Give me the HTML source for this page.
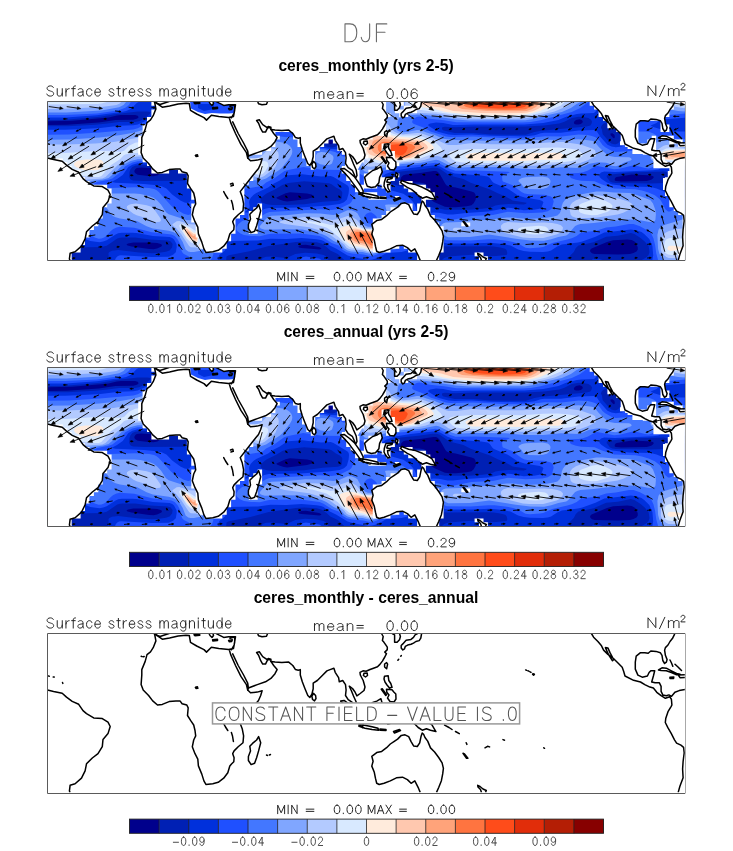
<!DOCTYPE html>
<html><head><meta charset="utf-8"><style>
html,body{margin:0;padding:0;background:#fff;width:733px;height:851px;overflow:hidden}
svg{display:block;will-change:transform}
</style></head><body>
<svg width="733" height="851" viewBox="0 0 733 851" font-family="'Liberation Sans', sans-serif"><style>.sf path{vector-effect:non-scaling-stroke}</style><defs><g id="oceanfill"><rect x="47.4" y="101.5" width="637.5" height="158.9" fill="#00008c"/><path fill="#0020b4" fill-rule="evenodd" d="M47.4,260.4 684.9,260.4 684.9,101.6 47.4,101.6 47.4,121.3 72.2,120.8 108.5,117.4 116.9,115.5 120.9,115.1 135.1,114.9 137.7,115.7 138.6,117.0 138.1,117.9 136.8,118.8 133.3,119.8 115.6,120.0 98.8,122.4 66.9,124.7 47.4,124.9 47.4,260.4ZM149.2,249.0 131.5,246.6 127.6,245.5 126.4,244.6 128.0,243.5 133.3,242.6 149.2,242.4 157.2,243.1 160.8,244.1 162.1,245.0 161.4,246.5 157.1,248.5 153.6,249.2 149.2,249.0ZM287.3,201.4 283.8,200.9 279.2,199.4 276.9,198.4 276.4,197.4 285.6,193.3 290.0,192.2 307.1,193.4 311.6,194.4 313.7,195.9 312.2,197.4 307.1,198.9 287.3,201.4ZM313.9,249.1 301.2,248.0 299.0,247.5 298.2,246.5 301.3,245.0 305.9,244.7 319.1,247.0 321.0,247.9 321.4,248.5 321.0,249.0 319.2,249.4 313.9,249.1ZM329.8,144.3 326.9,143.3 326.9,141.8 329.0,140.0 331.6,139.9 333.0,141.3 333.0,142.8 331.6,144.0 329.8,144.3ZM444.9,206.8 434.0,201.9 431.3,199.9 429.6,195.9 427.8,187.5 426.3,184.5 423.7,183.2 419.3,182.5 405.1,182.6 401.6,182.1 400.4,181.5 400.0,180.5 401.4,177.0 403.3,175.3 405.9,174.5 421.9,172.8 433.4,170.9 436.1,171.1 437.9,172.0 439.6,173.7 445.4,184.0 446.7,185.5 448.5,186.3 455.6,187.5 471.5,191.5 474.2,192.6 475.4,194.4 476.0,197.4 475.5,199.9 473.7,203.3 471.5,205.3 466.8,206.3 455.6,207.2 449.4,207.3 444.9,206.8ZM576.0,124.5 574.5,123.9 573.8,122.9 574.3,121.4 576.0,120.1 579.5,119.3 581.6,119.9 582.7,120.9 582.6,122.4 580.9,123.9 578.6,124.6 576.0,124.5ZM594.6,254.1 591.9,253.2 590.2,251.5 590.1,250.0 591.5,248.5 607.0,242.0 613.2,240.3 627.3,239.4 631.8,239.9 635.3,242.1 637.7,247.0 637.8,249.5 636.5,251.5 633.5,253.1 630.0,254.1 618.5,254.5 594.6,254.1ZM148.3,176.1 137.7,174.8 135.0,173.1 134.3,171.6 134.5,170.6 135.4,169.1 136.8,168.1 141.3,167.5 155.9,168.6 159.5,169.6 161.4,171.1 160.4,173.6 157.4,175.5 153.6,176.2 148.3,176.1ZM613.2,138.1 610.5,135.0 610.5,133.6 612.3,133.3 614.4,134.8 614.9,137.3 614.1,138.2 613.2,138.1ZM615.8,181.1 614.8,180.5 614.7,179.0 615.6,177.5 616.7,177.0 631.8,174.5 648.6,175.2 652.8,176.0 653.9,177.0 652.9,178.5 651.2,179.7 646.8,180.9 621.1,181.4 615.8,181.1Z"/><path fill="#0030dc" fill-rule="evenodd" d="M107.6,260.4 226.2,260.4 226.5,256.5 228.9,255.2 249.3,251.3 268.8,246.0 295.8,242.1 304.2,241.4 316.6,242.3 321.9,243.7 326.6,247.0 330.3,250.5 337.8,254.0 344.8,260.4 417.9,260.4 421.9,259.2 425.5,256.8 427.9,254.0 430.1,249.5 432.1,247.5 435.2,245.9 437.9,245.6 446.7,246.5 487.4,246.3 493.6,246.6 500.4,247.5 505.2,248.8 506.5,250.0 507.3,253.0 507.0,254.5 506.2,255.0 496.3,256.1 488.3,256.2 471.5,254.7 448.5,256.6 444.1,258.0 441.5,260.4 569.8,260.4 570.2,255.5 573.8,252.0 575.8,248.0 578.5,245.5 593.7,242.2 606.1,236.8 617.6,235.8 630.9,233.1 634.4,234.1 640.6,238.1 644.7,241.6 648.6,246.0 649.5,252.0 648.6,254.9 646.2,257.5 640.9,260.4 684.9,260.4 684.9,101.6 47.4,101.6 47.4,119.9 65.1,119.8 100.5,116.7 114.7,114.2 137.7,111.6 147.5,111.5 150.5,112.0 150.7,112.5 149.7,114.0 145.2,117.9 139.8,120.9 135.1,122.1 119.1,121.9 107.6,123.6 95.2,124.7 67.8,126.2 47.4,126.3 47.4,248.0 101.4,247.1 106.7,245.7 117.3,238.6 120.0,237.7 122.7,237.4 135.1,237.5 150.1,239.6 167.8,240.5 170.7,241.6 172.6,244.1 172.1,247.5 169.6,250.6 166.0,251.8 157.2,253.0 151.9,253.3 139.1,252.5 118.2,250.0 112.0,250.7 109.4,251.9 108.5,253.0 108.6,256.0 107.6,260.4ZM272.3,204.9 266.8,204.3 262.4,202.8 260.5,200.9 261.1,198.4 263.2,195.9 266.5,193.4 275.8,189.1 282.3,185.0 288.2,183.0 304.2,181.3 329.0,183.3 331.6,184.2 335.9,187.5 339.8,189.4 341.5,190.9 342.3,192.4 341.8,198.4 340.5,199.7 337.8,200.7 322.8,201.8 304.2,204.3 286.5,205.1 272.3,204.9ZM444.9,209.8 430.8,207.1 424.6,204.7 420.6,201.4 416.7,193.4 414.0,190.5 409.6,188.4 398.9,186.1 392.5,184.0 390.0,182.5 389.3,181.5 389.7,179.0 393.4,174.5 396.1,173.1 400.7,171.5 418.4,169.8 432.5,167.7 437.0,167.8 440.2,169.1 449.4,175.4 463.4,179.0 470.6,182.7 490.1,189.4 497.2,193.1 505.6,196.4 512.6,200.4 526.6,202.8 526.1,203.8 523.7,204.5 508.7,204.1 499.8,204.7 495.4,205.6 490.5,207.8 482.5,208.8 468.9,209.7 444.9,209.8ZM615.8,183.0 612.3,182.5 610.0,181.5 606.7,177.0 606.8,175.5 608.7,174.8 629.1,172.5 663.6,171.6 666.3,171.9 668.1,172.7 669.5,174.0 670.1,175.5 669.8,178.0 668.3,181.0 666.5,182.5 664.5,183.1 651.2,183.4 615.8,183.0ZM143.9,181.0 133.4,180.5 131.5,180.0 130.1,179.0 129.1,176.5 129.5,172.1 130.4,169.6 132.3,167.1 135.1,165.8 138.6,165.2 156.3,165.0 165.2,164.4 175.8,161.8 180.2,162.5 183.5,163.6 185.1,165.1 186.1,167.1 186.7,170.6 186.7,177.0 185.5,179.8 183.8,180.8 143.9,181.0ZM329.0,147.3 319.4,144.3 318.5,143.3 318.6,142.3 327.3,127.9 330.7,125.1 334.3,124.7 336.5,125.9 338.2,128.9 339.3,134.3 339.8,142.3 338.1,144.8 335.2,146.7 332.5,147.5 329.0,147.3ZM514.9,134.8 491.0,134.5 473.3,132.9 454.7,133.0 443.6,130.4 442.2,129.4 441.9,128.4 442.3,127.3 444.9,126.7 455.6,127.3 474.2,126.4 525.5,126.4 544.1,125.6 559.2,123.6 564.5,121.7 571.7,117.9 578.6,116.7 583.1,116.9 588.3,117.9 590.8,119.4 592.0,121.4 591.6,123.4 590.3,125.4 586.6,126.6 541.5,130.8 534.4,132.1 525.8,134.8 514.9,134.8ZM614.1,144.3 611.4,143.4 609.6,142.1 602.7,134.3 601.9,129.4 600.9,127.4 601.7,125.4 603.4,123.7 605.2,123.1 607.9,123.8 618.0,129.9 620.0,131.8 621.3,136.8 620.6,140.3 618.2,143.3 615.8,144.2 614.1,144.3ZM260.9,260.4 328.4,260.4 328.0,258.5 327.1,257.0 323.6,255.0 316.6,253.6 305.1,252.7 295.3,254.0 288.2,257.3 285.6,257.9 271.4,256.5 266.1,256.7 262.8,258.0 260.9,260.4ZM591.4,260.4 603.8,260.4 599.9,258.9 596.3,258.2 592.8,258.9 591.4,260.4Z"/><path fill="#1f50ff" fill-rule="evenodd" d="M114.9,260.4 217.5,260.4 219.3,255.0 225.0,250.5 227.1,242.9 228.0,241.5 228.9,240.9 258.1,240.5 270.5,238.8 286.5,238.9 301.5,238.1 316.6,239.2 321.0,239.9 323.6,241.1 329.8,245.6 336.0,248.4 347.6,255.5 353.7,257.3 368.8,260.1 372.3,259.6 377.7,258.0 386.5,253.0 401.6,252.1 411.0,249.5 414.8,247.5 417.2,245.5 421.4,238.6 424.6,237.7 434.3,237.9 437.0,238.9 443.2,242.5 447.6,243.4 471.5,243.6 490.1,242.8 503.4,244.1 510.5,245.6 518.1,249.5 523.7,251.1 529.9,251.8 543.2,252.1 547.7,251.5 551.1,250.5 557.2,246.5 561.9,244.6 577.9,242.6 582.3,241.6 595.5,236.7 604.3,232.6 630.9,229.5 636.2,230.2 641.5,232.1 644.2,234.1 649.3,239.1 652.4,246.0 653.2,255.5 652.3,260.4 684.9,260.4 684.9,131.4 668.1,131.4 653.3,126.9 650.6,125.4 656.6,122.9 659.4,120.4 661.9,119.6 684.9,117.7 684.9,101.6 613.8,101.6 620.0,121.4 622.6,126.9 625.5,130.9 626.5,136.3 626.3,139.8 624.7,145.3 622.0,146.5 615.8,147.3 611.4,146.6 607.5,144.8 600.3,136.8 596.7,131.3 595.5,130.4 593.7,129.9 578.6,130.6 560.9,132.8 544.1,132.7 540.6,133.3 534.7,135.3 524.6,136.4 490.1,135.8 471.5,134.4 454.7,135.1 448.5,134.4 437.9,131.7 428.8,125.9 428.1,124.9 429.0,123.9 430.3,123.4 436.1,122.6 443.2,123.1 452.9,124.9 456.5,125.1 474.2,124.4 524.6,124.4 543.2,123.1 558.4,119.9 566.2,116.8 576.9,114.0 581.3,113.4 594.0,113.0 596.1,111.0 599.0,103.8 599.9,102.6 601.7,101.6 347.6,101.6 347.3,141.3 346.8,145.3 345.8,147.8 344.7,148.7 336.9,149.2 329.8,148.9 316.6,146.4 313.1,145.3 311.4,143.8 311.5,141.8 312.9,137.3 317.3,116.0 321.8,101.6 185.6,101.6 188.2,102.5 189.8,104.0 191.7,109.0 193.0,119.9 193.6,139.8 193.6,187.0 191.5,192.4 190.9,200.4 189.1,202.5 187.3,203.1 184.6,202.6 180.4,200.4 172.2,194.5 166.4,188.4 161.6,186.3 154.5,184.9 144.1,184.0 115.6,182.7 112.9,182.2 112.2,181.5 117.0,179.0 122.7,175.0 128.4,167.1 132.4,164.7 137.7,163.3 152.8,163.0 158.1,162.4 163.4,160.8 166.4,158.7 167.6,156.7 168.7,152.2 170.8,131.3 170.6,122.4 169.9,119.9 168.7,118.8 163.4,117.6 153.6,117.8 150.1,118.9 137.7,124.4 133.3,125.3 119.1,125.8 100.5,127.9 82.8,128.9 65.1,129.7 47.4,129.8 47.4,240.6 64.2,240.4 80.2,237.4 82.8,237.9 90.3,241.1 99.6,242.2 103.2,241.6 106.7,240.2 115.6,234.5 118.2,233.3 121.8,232.7 132.4,232.7 136.8,233.0 152.8,236.0 169.6,236.9 172.2,238.0 174.0,239.6 176.5,244.1 176.7,247.0 175.8,252.2 173.1,254.8 168.7,256.8 151.9,257.0 120.9,255.2 119.1,255.4 117.2,256.5 115.6,258.4 114.9,260.4ZM244.8,212.4 244.3,212.3 247.5,210.1 249.4,207.8 249.7,206.3 249.1,202.3 249.4,200.4 250.6,197.9 253.4,194.9 256.3,192.9 268.1,187.5 272.9,184.0 279.4,180.8 285.6,176.5 288.2,175.3 302.4,174.3 321.0,176.6 330.7,176.0 333.5,177.0 347.6,185.5 348.7,187.0 349.0,188.9 348.6,193.4 346.9,199.4 344.0,202.3 339.6,203.9 328.1,205.6 300.6,207.4 268.8,208.0 264.3,209.0 257.2,212.4 244.8,212.4ZM419.3,217.8 417.6,214.3 416.0,207.8 414.6,204.3 412.6,201.4 408.9,197.4 403.3,193.8 390.9,190.3 384.7,187.5 378.5,183.0 377.7,181.0 378.5,179.5 385.5,174.0 395.4,170.4 410.4,168.0 432.5,165.5 437.0,165.5 440.5,166.7 447.6,170.7 454.7,173.6 481.2,175.6 487.6,176.5 489.9,178.0 492.2,181.5 493.9,183.0 507.8,188.7 517.5,195.2 524.6,197.5 539.7,200.0 542.3,201.1 543.4,202.3 541.4,207.8 539.4,208.8 534.0,209.8 523.7,210.3 511.3,207.9 507.8,207.7 488.3,211.5 466.2,212.9 452.9,214.4 447.6,214.4 438.7,212.7 433.4,212.6 426.4,213.8 423.4,215.3 420.2,218.0 419.3,217.8ZM666.3,192.6 656.6,188.6 650.4,187.1 629.1,186.5 612.3,184.5 606.9,182.5 601.6,179.0 599.6,177.0 599.3,174.5 601.0,172.6 604.3,171.6 614.9,171.9 653.0,170.2 658.3,169.4 664.0,166.6 667.2,166.3 670.3,168.1 675.3,173.6 676.6,176.0 677.0,179.5 675.4,184.5 672.3,189.4 669.0,192.3 666.3,192.6ZM299.1,260.4 321.8,260.4 321.0,259.4 319.1,258.5 305.9,256.5 302.4,257.3 299.1,260.4ZM47.4,117.4 66.0,117.4 97.0,115.3 122.7,111.7 126.2,110.9 129.6,109.5 132.2,107.5 136.8,102.9 139.7,101.6 47.4,101.6 47.4,117.4Z"/><path fill="#4377ff" fill-rule="evenodd" d="M189.7,260.4 210.4,260.4 212.1,258.0 213.4,254.0 212.9,250.5 217.1,247.0 218.4,242.6 218.3,187.0 216.8,149.7 215.4,136.8 213.6,126.9 211.2,119.4 208.5,115.4 206.8,114.9 205.9,115.4 204.1,117.9 202.3,123.3 201.2,129.9 199.4,150.2 198.2,187.0 196.9,192.4 196.6,200.4 193.9,207.8 191.7,212.2 189.9,214.4 188.2,215.1 183.7,213.8 173.1,207.5 170.5,205.1 158.8,191.9 156.3,190.0 154.1,188.9 149.2,188.1 135.1,187.3 101.4,188.3 96.8,187.5 95.0,186.5 93.9,185.0 94.2,183.5 97.0,182.0 108.5,179.8 112.3,178.5 120.0,172.4 125.3,166.3 132.4,162.5 137.7,161.3 154.5,160.8 159.0,159.6 162.3,157.7 164.1,154.7 164.8,151.7 165.6,132.3 164.0,125.9 162.5,123.8 160.0,121.9 156.3,120.7 152.8,120.9 147.7,122.9 137.7,128.2 133.3,129.4 99.6,132.4 68.6,134.5 47.4,134.7 47.4,220.7 76.6,220.7 81.0,221.2 82.8,222.0 84.6,223.9 91.6,235.6 94.7,237.6 98.8,238.7 101.4,238.6 104.1,237.6 106.9,235.6 110.3,231.6 112.9,229.3 116.5,227.5 120.0,226.8 134.2,227.7 151.9,232.2 171.4,234.5 174.7,236.1 177.6,239.2 179.9,243.6 180.8,249.0 182.4,252.5 183.9,254.0 188.9,256.5 189.7,260.4ZM658.2,260.4 684.9,260.4 684.9,196.4 682.8,201.9 680.3,204.8 672.5,210.2 669.8,211.4 668.1,211.4 665.4,209.3 661.1,200.9 659.6,198.9 654.8,195.3 648.6,192.4 641.9,190.4 635.3,189.2 614.1,188.4 602.0,184.5 594.6,181.2 581.3,180.7 576.0,179.8 570.9,178.0 569.3,175.5 567.1,173.6 578.6,172.9 583.1,172.2 588.0,170.6 594.6,166.7 597.2,166.0 614.1,169.3 619.4,168.8 632.6,165.6 637.1,166.0 645.2,168.1 648.6,168.4 651.9,167.6 656.9,164.6 666.3,164.0 670.6,164.6 673.6,166.1 678.1,170.1 684.9,177.7 684.9,139.3 661.0,138.0 658.5,137.3 653.9,133.8 649.5,131.9 645.0,131.4 637.1,131.5 635.3,132.1 634.4,133.4 633.8,136.3 633.7,141.3 634.7,142.8 640.0,146.2 640.5,147.7 639.9,148.7 638.0,149.8 634.4,150.7 615.8,152.1 612.3,151.3 605.2,147.3 602.5,144.9 599.0,140.1 595.5,137.3 591.9,135.9 587.5,135.1 578.6,134.4 561.8,136.5 545.0,136.2 530.8,137.8 522.9,138.3 503.4,138.1 473.3,136.5 450.3,137.1 445.8,136.5 439.6,134.2 431.0,131.8 424.6,128.1 414.0,123.9 412.6,122.9 412.1,121.9 412.7,119.9 414.1,118.4 416.6,117.1 419.3,116.6 429.9,118.7 444.1,120.3 456.5,122.3 522.0,122.4 530.8,121.9 540.6,120.2 571.8,112.0 580.2,108.0 589.1,101.6 361.6,101.6 359.9,105.0 355.3,111.0 353.4,115.5 352.3,120.9 351.6,128.4 351.3,150.7 349.3,154.2 345.8,156.4 343.1,156.6 335.2,152.0 323.8,149.2 305.8,148.2 305.0,147.7 304.0,146.2 302.4,139.6 300.4,137.8 284.7,137.0 265.2,134.4 258.1,132.9 255.5,133.7 251.9,135.5 245.7,139.2 243.1,141.4 237.3,148.2 235.4,151.7 234.0,155.7 233.4,160.1 233.5,166.1 234.5,173.1 236.0,180.0 237.2,183.5 239.0,186.5 241.3,188.5 243.1,189.0 260.8,186.3 262.6,185.5 266.1,182.4 274.1,178.5 284.5,171.1 288.2,169.9 303.3,166.9 321.9,169.8 342.2,170.1 345.8,171.0 353.7,171.3 356.4,172.1 363.5,175.8 368.8,177.0 373.2,176.3 380.3,172.6 385.6,170.4 399.8,166.6 421.9,164.6 435.2,162.7 438.7,163.3 450.3,169.0 455.6,170.7 475.0,170.6 507.8,171.7 509.4,172.1 509.5,172.6 503.5,175.0 502.0,176.5 502.4,180.5 502.9,181.5 512.2,185.0 521.5,191.9 524.6,193.5 529.1,194.2 544.1,194.8 550.8,196.4 552.6,197.9 553.7,201.4 551.8,208.8 547.7,211.3 542.3,212.6 525.5,213.2 507.8,211.7 492.8,215.0 471.5,216.0 452.9,219.7 445.8,219.6 438.7,217.5 436.1,217.3 433.4,218.6 431.3,221.2 430.9,227.7 431.4,229.7 437.9,233.8 442.7,238.6 446.7,240.3 470.6,240.6 488.3,239.2 494.5,239.3 506.9,240.7 513.1,241.9 519.1,244.1 525.5,247.7 529.9,248.2 539.7,247.6 543.2,246.9 552.2,243.1 567.4,239.6 572.4,238.0 576.7,236.1 580.5,233.1 583.1,232.2 596.3,230.7 606.1,227.4 615.8,226.6 629.1,224.0 633.5,224.1 639.9,226.2 648.6,230.9 651.0,233.1 653.5,238.6 655.1,245.0 656.3,253.5 658.2,260.4ZM367.7,255.5 370.6,256.0 373.2,255.8 376.8,254.6 383.4,251.5 395.4,249.6 397.4,248.5 399.5,246.0 402.2,241.6 406.5,232.6 407.9,228.2 408.9,222.7 409.3,215.3 408.8,207.3 407.8,203.8 405.1,201.2 402.4,199.8 399.8,199.0 384.7,198.3 375.9,193.4 372.3,192.1 359.1,192.1 357.3,192.5 355.2,193.9 351.4,201.9 349.6,203.8 338.7,209.0 331.6,210.1 320.1,209.3 269.6,212.0 266.1,213.2 259.0,217.6 246.5,219.7 242.2,221.1 238.2,224.2 236.4,227.7 236.4,229.2 237.0,230.7 240.4,233.5 244.0,234.9 251.0,235.9 259.9,236.2 267.9,234.2 271.4,233.8 300.6,233.6 319.5,236.1 323.6,237.7 331.6,243.1 338.6,245.5 342.9,250.0 346.7,252.3 352.0,253.6 363.5,254.6 367.7,255.5ZM367.9,223.2 366.3,221.7 365.3,219.7 364.6,217.2 364.9,215.8 366.1,214.0 367.9,212.9 369.7,212.4 371.5,212.6 374.1,214.2 376.3,216.3 377.1,218.2 377.2,220.7 376.1,222.2 373.8,223.2 370.6,223.7 367.9,223.2ZM47.4,115.0 65.1,115.0 97.0,113.4 114.1,111.0 120.0,109.8 125.3,107.7 128.8,105.0 131.2,101.6 47.4,101.6 47.4,115.0ZM663.8,115.0 669.0,115.1 684.9,113.6 684.9,101.6 653.3,101.6 654.3,105.5 656.4,108.5 658.2,113.0 660.1,114.2 663.8,115.0Z"/><path fill="#80a6ff" fill-rule="evenodd" d="M664.2,260.4 684.9,260.4 684.9,218.8 663.6,225.3 660.4,227.2 658.5,229.7 657.4,235.1 658.1,249.0 659.5,254.0 664.2,260.4ZM368.6,253.5 371.5,253.9 374.1,253.6 382.1,250.7 390.5,248.5 393.1,246.0 394.9,243.1 395.7,240.1 395.2,237.1 392.7,234.2 387.4,231.4 385.0,229.2 383.0,228.0 376.8,226.9 367.9,226.8 365.3,225.8 363.3,223.7 357.4,213.3 355.3,211.8 351.1,210.3 347.6,210.3 339.6,213.7 333.4,214.9 320.1,213.6 305.1,213.3 285.6,215.3 271.4,215.7 268.8,216.6 266.1,218.7 259.7,226.2 259.7,227.2 260.8,228.4 264.8,229.7 286.5,229.2 302.4,229.6 321.9,234.1 326.3,235.9 333.6,241.1 340.6,244.1 344.4,248.5 347.6,250.6 351.1,251.4 362.6,252.1 368.6,253.5ZM190.5,252.0 193.9,252.0 200.6,250.8 208.7,247.5 210.9,245.5 212.6,241.6 212.5,205.3 211.6,178.5 210.0,159.7 208.6,152.7 207.7,150.6 206.8,150.8 205.9,152.9 204.8,159.2 201.7,201.9 198.5,215.8 197.0,217.7 194.4,219.2 189.9,220.2 186.4,220.0 168.7,214.3 166.0,212.2 161.1,204.8 157.2,200.4 153.6,197.7 149.2,195.9 140.4,194.1 134.2,193.4 105.0,193.4 102.3,193.7 101.5,194.4 101.8,197.9 104.0,204.8 108.1,209.8 110.6,213.8 112.9,215.9 115.6,217.3 120.0,218.5 136.8,221.0 146.6,226.2 152.8,228.4 168.7,230.7 173.1,231.9 176.9,234.1 179.4,236.6 182.7,242.1 185.6,249.5 188.2,251.4 190.5,252.0ZM530.2,240.6 544.1,240.7 551.2,239.3 558.3,237.1 566.2,235.4 568.4,234.1 575.1,226.1 577.8,224.7 580.4,224.1 593.7,223.0 605.2,221.4 630.0,219.5 638.8,219.9 649.5,221.9 653.0,221.7 654.8,220.8 655.4,219.7 655.9,214.3 655.3,209.8 653.0,203.6 650.3,199.9 633.5,193.7 629.1,192.9 614.1,192.6 602.5,191.4 596.3,191.5 572.4,196.0 567.3,197.9 565.0,199.9 562.9,202.8 561.8,205.8 560.9,210.8 559.7,213.3 557.4,215.4 553.8,216.6 545.0,217.9 527.3,218.9 513.1,217.5 506.9,217.4 498.1,218.4 489.2,220.1 474.2,220.0 460.0,222.0 445.8,222.6 443.4,223.2 442.0,224.2 440.9,225.7 440.2,228.2 440.8,230.7 444.1,234.8 445.8,236.3 448.5,237.3 469.7,237.0 489.2,234.5 515.8,238.8 530.2,240.6ZM393.3,211.8 397.1,211.9 398.5,211.3 398.9,208.3 398.2,204.8 395.4,204.4 388.3,204.6 385.5,204.8 385.1,205.3 386.6,210.8 388.3,211.4 393.3,211.8ZM47.4,199.9 59.8,199.3 65.1,198.5 82.8,191.1 84.6,189.9 86.7,184.5 88.5,182.5 92.0,181.0 103.4,179.5 108.6,178.0 117.3,170.5 122.1,165.6 130.6,160.9 137.7,159.3 152.8,159.1 157.5,157.7 160.0,154.7 161.1,151.2 161.4,133.8 160.9,130.9 159.4,127.9 158.1,126.2 156.3,124.9 152.8,124.4 149.2,125.7 142.5,129.9 138.6,131.3 133.3,132.7 119.1,135.3 99.6,137.4 69.5,139.4 47.4,139.7 47.4,199.9ZM528.5,188.9 538.8,189.2 543.2,188.7 546.8,187.7 549.0,186.0 550.5,182.0 550.4,180.5 549.4,178.8 547.7,177.5 542.3,176.5 525.5,177.2 522.0,178.0 519.3,179.5 518.5,180.5 518.6,181.5 521.6,184.0 522.9,186.5 525.5,188.1 528.5,188.9ZM256.7,180.5 260.8,180.3 266.1,178.5 279.9,169.6 282.2,167.6 289.9,157.7 291.8,154.2 292.3,151.7 292.1,149.7 291.3,147.7 289.6,145.7 286.8,143.8 283.8,142.7 273.2,140.9 268.8,140.9 265.0,142.8 258.1,151.0 247.5,154.6 244.3,156.7 242.5,159.7 242.0,163.1 242.3,169.1 243.7,174.5 245.6,177.0 247.9,178.5 251.9,179.8 256.7,180.5ZM367.3,172.6 371.5,172.3 380.5,168.6 392.8,165.6 402.4,164.1 421.0,162.8 436.1,159.7 438.7,160.2 450.3,166.1 455.6,167.7 473.3,166.9 505.2,167.2 524.6,168.9 537.0,169.1 543.2,168.9 560.9,167.2 578.6,168.0 581.9,167.1 589.3,163.8 598.1,162.3 606.1,162.7 608.6,163.6 611.4,165.7 615.8,166.2 619.4,165.2 623.8,162.7 630.4,160.6 631.3,160.1 631.7,159.2 630.9,157.9 629.1,157.3 614.9,157.0 609.6,155.9 607.0,154.4 603.7,151.7 598.6,146.7 594.6,141.8 591.9,140.8 588.2,140.3 578.6,139.3 562.7,140.1 543.2,139.8 491.0,140.7 452.9,140.1 443.2,138.8 434.2,134.8 426.4,132.5 420.2,130.1 416.6,129.9 406.9,132.0 402.4,132.3 398.9,131.3 397.4,130.4 396.5,128.9 397.4,125.4 397.8,120.9 399.0,118.4 401.6,117.0 408.4,115.5 417.5,114.6 426.4,114.9 455.6,119.5 469.7,120.5 525.5,120.3 533.5,119.0 543.4,116.0 561.9,112.0 570.9,108.0 576.6,104.0 581.8,101.6 366.4,101.6 365.7,106.0 364.3,110.0 358.2,118.3 356.4,122.4 354.9,130.9 354.3,142.3 354.7,155.7 356.1,160.1 358.6,164.6 362.1,169.1 364.4,171.3 367.3,172.6ZM684.0,169.6 684.9,170.1 684.9,144.8 677.2,141.8 669.8,140.7 661.0,141.0 657.8,141.8 656.2,142.8 652.7,148.2 650.5,153.2 650.5,158.2 651.6,160.1 653.0,161.2 655.8,162.1 669.0,163.1 674.5,164.1 677.1,165.1 684.0,169.6ZM324.9,165.1 329.8,164.8 332.0,163.6 333.4,159.2 333.5,157.2 332.9,155.7 329.8,153.5 324.7,152.2 321.0,152.0 317.4,153.1 316.0,155.2 316.0,160.6 316.4,162.1 320.1,164.3 324.9,165.1ZM47.4,112.5 66.0,112.5 101.4,110.4 119.1,107.3 123.5,105.0 126.5,101.6 47.4,101.6 47.4,112.5ZM678.1,111.0 684.9,111.4 684.9,101.6 657.4,101.6 659.6,104.5 662.6,106.5 671.6,109.8 678.1,111.0Z"/><path fill="#b3caff" fill-rule="evenodd" d="M668.7,258.0 684.9,258.4 684.9,228.0 677.8,228.9 669.0,231.1 665.4,232.7 663.2,235.1 661.0,240.6 660.8,249.5 662.1,253.0 663.2,254.5 666.3,257.0 668.7,258.0ZM370.0,252.5 375.0,252.1 384.7,248.5 386.8,246.5 388.8,243.6 389.7,241.1 389.5,239.1 379.7,229.7 375.0,228.3 367.0,228.2 364.4,227.6 361.8,225.7 356.4,219.5 351.1,216.6 347.6,216.1 338.7,219.1 332.5,219.9 329.0,219.6 319.2,217.6 304.2,216.9 283.7,220.2 279.4,221.7 280.1,222.7 284.7,223.9 308.9,227.2 323.6,231.6 329.0,234.0 338.0,240.6 342.3,243.1 344.1,244.6 346.4,247.5 348.4,248.8 351.1,249.5 362.6,250.3 370.0,252.5ZM199.0,248.5 201.5,248.5 203.6,247.0 205.6,241.1 206.0,236.6 205.7,231.1 205.1,227.7 204.1,225.8 201.5,224.8 189.9,224.3 179.3,221.0 176.7,221.2 172.4,224.2 172.5,225.2 175.8,227.7 181.1,234.0 189.1,246.1 190.8,247.2 196.1,247.6 199.0,248.5ZM529.6,238.1 543.2,238.0 556.5,234.6 559.2,233.3 561.2,231.6 562.8,229.2 562.9,227.2 560.9,225.3 557.4,224.0 552.1,223.1 544.1,222.6 523.7,223.1 507.8,222.0 503.5,223.2 501.2,225.2 500.9,227.2 501.7,229.7 503.5,232.1 505.1,233.1 522.9,237.5 529.6,238.1ZM454.4,230.7 458.2,230.4 462.2,228.7 461.7,228.2 459.1,227.7 454.7,227.8 453.6,228.2 452.7,229.2 453.2,230.2 454.4,230.7ZM155.8,222.2 160.0,221.7 160.8,220.7 160.7,218.7 154.5,209.7 151.4,206.8 146.6,205.3 135.9,203.5 130.5,204.3 128.2,205.3 127.0,206.3 126.8,207.8 127.6,209.3 133.5,213.8 136.6,215.3 145.7,217.9 152.8,221.4 155.8,222.2ZM575.8,217.7 581.3,218.2 597.2,217.4 617.6,214.4 623.2,212.8 628.2,210.3 632.3,207.3 632.9,205.3 631.4,203.3 628.1,201.4 618.5,198.6 598.1,195.3 593.7,195.4 587.7,196.4 580.5,198.4 576.0,200.2 572.2,202.8 570.3,205.3 569.6,209.3 570.7,214.8 572.4,216.6 575.8,217.7ZM47.4,181.0 78.4,181.0 88.1,179.6 102.3,178.5 105.5,177.0 117.9,165.1 125.0,160.6 130.6,158.0 136.8,156.4 150.1,156.8 153.6,156.1 156.1,154.2 157.2,151.7 157.5,138.8 156.4,131.8 154.5,129.8 151.9,129.5 147.1,131.8 141.3,136.0 137.7,137.7 113.8,142.1 95.2,143.5 66.0,144.4 47.4,144.5 47.4,181.0ZM257.5,177.5 260.8,177.4 264.3,176.0 273.3,169.1 275.6,166.6 278.4,158.7 278.8,155.2 278.2,152.2 275.8,149.7 271.4,148.0 268.8,148.5 262.6,155.3 259.9,156.9 252.8,159.8 249.6,162.6 248.0,167.6 248.1,170.1 248.9,173.1 250.1,174.5 251.9,175.7 257.5,177.5ZM367.8,166.6 370.6,166.8 400.7,162.7 418.4,161.1 425.2,159.7 434.3,156.4 437.0,155.9 440.7,156.7 448.5,162.2 453.8,164.3 457.3,165.0 506.9,165.1 528.2,166.0 559.2,164.3 574.2,163.9 579.5,163.2 587.2,160.6 594.9,156.7 595.9,155.7 596.1,154.7 595.1,150.2 592.8,148.8 580.4,144.5 563.6,141.9 555.6,142.0 522.9,144.2 491.0,144.3 472.4,143.0 456.5,145.0 448.5,145.0 446.0,144.3 429.0,136.0 421.0,133.3 417.5,132.9 403.3,134.2 399.4,133.8 396.2,132.8 392.5,130.4 389.0,125.4 383.4,120.9 375.0,112.4 373.2,111.2 372.3,111.3 370.6,113.1 366.1,120.7 360.8,127.5 358.4,133.3 357.6,137.3 357.5,146.2 359.0,156.2 360.4,159.2 363.5,163.5 365.3,165.3 367.8,166.6ZM683.6,165.6 684.9,166.1 684.9,147.7 676.8,146.7 669.0,144.8 666.3,144.9 663.6,145.8 659.2,148.4 655.7,151.5 654.5,153.2 654.5,158.2 657.0,160.1 661.9,161.5 676.9,163.3 683.6,165.6ZM466.8,118.4 489.2,118.9 522.0,118.5 527.3,118.0 554.6,111.5 566.3,106.5 573.8,101.6 405.3,101.6 405.1,104.5 405.7,108.5 405.1,111.5 406.0,112.2 436.1,113.7 445.7,115.0 456.5,117.4 466.8,118.4ZM47.4,108.5 47.4,108.9 65.1,108.8 101.4,107.0 116.5,105.0 119.8,103.5 121.7,101.6 47.4,101.6 47.4,108.5ZM682.5,108.0 684.9,108.2 684.9,101.6 661.5,101.6 664.4,104.0 667.9,105.5 682.5,108.0Z"/><path fill="#d8e9ff" fill-rule="evenodd" d="M667.9,254.5 671.6,255.0 684.9,254.7 684.9,238.8 671.6,237.7 668.1,238.4 666.1,239.6 664.8,241.6 663.5,248.5 665.4,253.0 667.9,254.5ZM370.5,251.5 374.1,251.3 380.5,249.0 382.7,247.0 384.4,243.1 384.8,240.6 384.2,238.6 380.2,233.1 376.8,230.1 373.2,229.2 366.1,229.1 363.5,228.6 361.5,227.7 354.6,223.0 349.3,221.2 345.8,221.6 337.8,224.0 330.7,225.0 321.9,222.8 308.6,221.0 304.2,220.9 301.0,221.7 303.8,222.7 312.1,223.5 326.3,227.6 331.6,230.8 334.8,234.1 338.7,237.1 341.9,240.6 349.3,246.8 352.9,247.9 363.5,249.0 370.5,251.5ZM199.3,247.5 201.5,247.5 202.5,246.5 202.8,245.0 202.3,243.5 200.1,241.1 199.3,235.1 197.9,232.4 189.9,227.2 185.5,224.9 182.0,223.8 180.0,224.2 179.3,225.7 180.0,228.2 186.6,238.6 190.8,242.6 197.0,245.2 199.3,247.5ZM527.2,234.1 535.3,234.5 542.3,234.0 546.7,232.1 548.1,230.7 548.3,229.2 547.1,227.7 545.0,226.6 538.8,225.8 522.9,227.1 519.3,228.0 517.8,229.2 518.1,230.7 520.3,232.1 527.2,234.1ZM592.0,215.3 597.2,214.9 607.7,211.8 609.3,210.8 611.7,208.3 612.5,206.8 612.3,205.3 610.1,203.3 605.2,200.7 600.4,199.4 596.3,199.0 591.9,199.7 585.6,201.9 580.9,203.8 578.4,205.8 577.9,207.3 578.0,209.3 579.0,211.3 580.4,212.7 584.8,214.3 592.0,215.3ZM93.4,177.0 98.8,177.0 101.4,176.0 111.1,165.0 120.0,159.2 123.5,155.5 125.3,154.4 129.7,153.4 145.7,152.4 149.7,151.7 150.6,150.7 151.1,148.2 151.0,145.6 150.1,143.3 149.2,142.5 147.5,142.2 138.6,142.2 135.1,142.8 129.1,145.7 124.2,150.7 120.9,151.8 99.6,150.8 65.1,153.1 47.4,153.2 47.4,168.7 63.3,171.3 79.3,175.4 93.4,177.0ZM256.7,174.5 259.0,175.0 261.5,174.5 263.2,173.6 265.1,171.6 268.3,166.1 268.1,163.6 267.0,161.7 264.3,161.1 259.9,161.5 257.2,162.6 254.7,165.1 253.4,167.6 253.3,170.1 254.5,173.1 256.7,174.5ZM378.3,163.1 385.6,163.2 415.8,159.7 420.2,158.5 430.3,154.7 439.7,152.2 441.9,151.2 442.5,150.2 440.6,147.2 436.2,143.3 430.8,140.0 422.8,136.7 417.5,135.5 402.4,135.5 395.4,134.5 390.9,132.8 383.0,127.3 375.0,124.6 372.3,124.4 369.7,126.2 361.2,136.3 360.3,142.3 360.8,150.7 362.3,156.2 363.5,158.0 365.3,159.6 367.9,160.8 378.3,163.1ZM474.4,163.1 524.6,163.2 564.5,161.9 571.6,161.0 576.5,159.7 581.6,156.7 582.5,155.7 582.6,154.7 581.9,153.2 580.5,151.7 576.6,149.7 568.9,148.5 558.3,147.6 543.2,147.7 522.9,149.2 471.5,148.9 453.8,150.5 450.3,151.5 448.9,152.7 448.9,154.7 450.3,157.2 452.3,159.2 455.6,161.2 461.8,162.4 474.4,163.1ZM683.8,163.1 684.9,163.3 684.9,149.0 669.8,148.2 666.3,148.5 660.1,151.4 657.7,153.7 657.6,157.7 658.4,158.7 660.3,159.7 665.4,160.8 676.9,161.9 683.8,163.1ZM470.8,117.0 490.1,117.2 526.4,116.2 546.4,111.5 560.9,105.5 565.2,101.6 409.4,101.6 409.6,104.0 410.7,105.5 414.8,108.3 418.1,109.5 470.8,117.0ZM681.9,106.0 684.9,106.4 684.9,101.6 665.9,101.6 669.8,103.3 681.9,106.0ZM47.4,104.5 97.9,103.9 102.3,103.3 108.6,101.6 47.4,101.6 47.4,104.5Z"/><path fill="#ffebdc" fill-rule="evenodd" d="M670.7,251.0 684.9,249.2 684.9,247.4 673.4,245.7 669.8,245.7 668.1,246.6 667.3,248.5 668.2,250.0 670.7,251.0ZM371.3,250.5 375.0,250.1 378.7,248.5 380.1,247.0 381.4,243.6 381.6,240.1 380.8,237.6 378.6,234.1 375.9,231.6 372.3,230.1 363.5,229.5 355.5,226.6 350.2,225.7 347.6,225.8 343.6,226.7 340.8,227.7 339.7,228.7 339.2,231.6 339.8,233.6 342.6,236.6 344.6,240.1 349.3,243.6 352.9,245.5 363.5,247.5 371.3,250.5ZM199.4,246.5 200.6,247.0 201.8,246.0 201.8,244.6 200.6,243.5 199.7,243.4 198.8,244.2 198.8,245.5 199.4,246.5ZM193.8,242.1 196.1,242.5 197.2,242.1 197.8,241.1 198.4,237.1 197.6,234.1 196.1,232.9 193.5,232.4 187.3,227.4 184.6,226.3 182.9,226.3 182.1,227.2 182.3,229.2 186.0,235.6 189.6,239.6 193.8,242.1ZM84.3,170.1 95.2,170.2 98.8,169.7 101.2,168.1 102.8,166.1 103.6,164.1 103.4,162.1 101.4,160.3 98.8,159.5 85.5,159.4 78.2,160.6 75.7,161.7 74.2,163.1 74.0,165.1 75.9,167.1 80.2,169.1 84.3,170.1ZM382.4,161.6 406.0,159.7 414.6,158.2 421.0,155.1 431.0,151.2 433.5,149.2 433.8,147.2 431.5,144.3 428.1,141.8 425.3,140.3 421.0,138.9 415.7,138.1 401.6,137.1 395.4,136.2 389.7,134.8 381.2,131.5 375.9,131.4 372.3,132.0 366.9,134.8 365.2,136.3 364.4,137.8 363.3,143.3 363.5,149.7 364.3,153.2 365.5,155.7 367.3,157.2 382.4,161.6ZM472.4,160.6 522.0,160.9 541.5,159.8 558.3,159.7 562.6,158.7 563.9,157.7 564.4,156.2 563.5,154.7 560.9,153.3 554.7,152.7 519.3,153.3 475.9,152.7 469.7,153.6 466.8,154.7 465.6,155.7 465.5,156.7 466.8,158.2 469.3,159.7 472.4,160.6ZM679.1,160.6 684.9,161.0 684.9,149.7 668.6,150.2 663.6,151.7 661.0,153.7 660.9,157.7 663.1,159.2 668.1,160.1 679.1,160.6ZM481.1,115.5 509.6,115.5 527.3,114.3 540.6,110.8 552.9,105.0 555.7,103.0 556.5,101.6 413.3,101.6 413.8,103.5 415.1,105.0 421.0,107.0 434.6,109.0 443.2,111.5 447.6,112.3 472.4,115.0 481.1,115.5ZM683.9,103.5 684.9,103.7 684.9,101.6 676.8,101.6 683.9,103.5Z"/><path fill="#ffc8af" fill-rule="evenodd" d="M369.9,249.0 372.3,249.5 375.0,249.0 377.4,247.5 378.5,245.5 379.1,242.1 378.9,239.1 377.5,235.6 375.0,232.9 371.5,231.2 363.5,230.4 355.5,228.6 350.2,229.2 348.2,230.2 346.5,231.6 345.9,233.1 346.0,234.6 347.2,239.1 348.5,240.6 354.6,243.6 364.4,245.8 369.9,249.0ZM200.6,246.0 200.9,245.5 200.6,244.7 200.0,245.5 200.6,246.0ZM194.1,240.6 196.1,240.8 197.0,239.9 197.7,237.1 197.0,234.9 196.1,234.1 193.5,234.1 187.3,229.0 185.5,228.5 184.6,228.7 184.4,229.7 184.7,231.1 187.8,236.1 189.9,238.2 194.1,240.6ZM669.6,159.2 684.9,159.3 684.9,150.5 669.8,151.7 665.0,153.2 664.1,154.7 664.3,157.7 666.1,158.7 669.6,159.2ZM384.7,158.7 400.7,159.1 410.9,157.7 413.5,156.7 419.3,153.0 426.2,149.7 427.4,148.7 427.9,147.2 426.8,145.3 424.6,143.2 421.4,141.3 418.4,140.4 398.2,138.8 380.3,135.5 373.2,135.5 369.7,136.8 367.9,139.2 366.9,142.3 366.9,149.7 367.9,152.4 369.6,154.2 371.5,155.2 384.7,158.7ZM481.0,113.0 499.8,113.3 522.0,113.0 527.3,112.5 533.4,111.0 537.9,109.0 544.2,105.0 547.7,101.6 417.7,101.6 418.8,103.5 421.0,104.7 441.4,107.5 453.3,111.0 481.0,113.0Z"/><path fill="#ffa37a" fill-rule="evenodd" d="M370.8,248.0 373.2,248.1 375.0,247.3 375.9,246.0 376.6,243.6 376.7,240.1 376.0,237.1 374.9,235.1 373.3,233.6 369.7,232.1 357.3,230.3 353.7,230.7 350.9,232.6 350.2,234.1 350.1,236.1 350.5,238.6 351.2,239.6 356.4,242.1 365.3,244.0 370.8,248.0ZM194.4,239.1 196.1,239.3 196.6,238.6 196.9,236.6 196.1,235.2 195.3,235.2 193.5,236.1 192.6,235.8 189.9,232.7 188.2,231.4 187.3,231.3 187.3,233.0 189.1,235.6 194.4,239.1ZM398.9,158.2 404.2,157.9 409.2,156.7 416.0,151.7 421.1,148.7 421.9,147.7 421.8,146.2 419.2,143.8 414.8,142.2 384.7,139.0 376.8,139.4 374.2,140.3 372.6,141.8 371.8,144.8 371.8,149.7 372.6,151.2 374.8,153.2 377.7,154.4 390.0,157.2 398.9,158.2ZM671.1,156.7 684.9,157.1 684.9,152.1 671.3,153.7 669.8,154.7 670.1,155.7 671.1,156.7ZM487.4,111.0 515.8,111.3 526.4,110.9 531.2,109.5 536.0,107.0 538.0,105.0 538.5,102.6 537.9,101.6 459.5,101.6 457.2,105.0 457.3,106.0 458.6,107.5 462.1,109.0 487.4,111.0Z"/><path fill="#ff7440" fill-rule="evenodd" d="M371.0,245.5 372.3,245.8 373.2,245.0 374.1,241.6 373.2,236.6 371.5,234.6 367.7,233.1 359.1,231.9 356.0,232.1 353.9,233.6 353.5,234.6 353.6,236.6 355.0,239.1 357.3,240.1 366.1,242.0 371.0,245.5ZM399.4,157.2 403.3,157.0 406.6,155.7 414.9,148.2 415.2,147.2 414.8,146.2 411.9,144.3 406.0,142.9 386.5,141.7 383.9,141.8 381.2,142.6 379.4,143.8 378.2,145.3 377.7,147.2 378.0,149.7 379.4,151.7 381.1,153.2 399.4,157.2ZM504.3,110.0 519.3,109.7 525.5,109.2 530.9,107.0 532.0,106.0 532.3,104.5 530.8,102.9 526.8,101.6 470.8,101.6 465.5,103.5 463.5,105.5 466.2,107.1 472.4,108.5 488.3,109.6 504.3,110.0Z"/><path fill="#ff4c1a" fill-rule="evenodd" d="M361.0,237.1 364.0,237.1 365.8,236.6 360.8,234.6 359.1,234.6 358.4,235.1 359.1,236.4 361.0,237.1ZM399.3,155.2 403.0,154.7 405.9,152.2 407.7,148.2 407.5,147.2 406.1,145.7 402.4,144.3 397.1,144.2 388.4,145.3 385.6,146.7 385.3,147.7 385.7,149.2 388.7,152.2 390.9,153.2 399.3,155.2ZM498.7,108.5 509.6,108.5 521.1,107.7 524.7,107.0 526.4,105.5 524.4,104.0 520.2,103.3 507.8,102.4 494.5,102.3 475.0,103.6 471.5,104.4 469.9,105.5 472.5,106.5 481.2,107.6 498.7,108.5Z"/><path d="M49.6,158.4 L45.2,158.4 L45.2,162.2 L45.2,162.2 L45.2,165.9 L49.6,165.9 L54.0,165.9 L58.5,165.9 L62.9,165.9 L67.3,165.9 L67.3,162.2 L62.9,162.2 L62.9,158.4 L58.5,158.4 L54.0,158.4 L49.6,158.4ZM45.2,181.0 L45.2,184.8 L49.6,184.8 L54.0,184.8 L58.5,184.8 L62.9,184.8 L67.3,184.8 L71.7,184.8 L76.2,184.8 L80.6,184.8 L85.0,184.8 L89.5,184.8 L89.5,181.0 L85.0,181.0 L85.0,177.2 L80.6,177.2 L80.6,173.5 L80.6,173.5 L80.6,169.7 L76.2,169.7 L71.7,169.7 L71.7,165.9 L67.3,165.9 L62.9,165.9 L58.5,165.9 L54.0,165.9 L49.6,165.9 L45.2,165.9 L45.2,169.7 L45.2,173.5 L45.2,173.5 L45.2,177.2 L45.2,181.0ZM45.2,199.8 L45.2,199.8 L45.2,203.6 L49.6,203.6 L54.0,203.6 L58.5,203.6 L62.9,203.6 L67.3,203.6 L71.7,203.6 L76.2,203.6 L80.6,203.6 L85.0,203.6 L89.5,203.6 L93.9,203.6 L98.3,203.6 L102.7,203.6 L107.2,203.6 L111.6,203.6 L111.6,199.8 L111.6,199.8 L111.6,196.1 L111.6,192.3 L111.6,188.5 L107.2,188.5 L107.2,184.8 L102.7,184.8 L98.3,184.8 L93.9,184.8 L89.5,184.8 L85.0,184.8 L80.6,184.8 L76.2,184.8 L71.7,184.8 L67.3,184.8 L62.9,184.8 L58.5,184.8 L54.0,184.8 L49.6,184.8 L45.2,184.8 L45.2,188.5 L45.2,192.3 L45.2,196.1 L45.2,199.8ZM45.2,203.6 L45.2,207.3 L45.2,211.1 L45.2,214.9 L45.2,218.6 L45.2,222.4 L49.6,222.4 L54.0,222.4 L58.5,222.4 L62.9,222.4 L67.3,222.4 L71.7,222.4 L76.2,222.4 L80.6,222.4 L85.0,222.4 L89.5,222.4 L93.9,222.4 L98.3,222.4 L98.3,218.6 L102.7,218.6 L102.7,214.9 L102.7,211.1 L102.7,207.3 L107.2,207.3 L107.2,203.6 L102.7,203.6 L98.3,203.6 L93.9,203.6 L89.5,203.6 L85.0,203.6 L80.6,203.6 L76.2,203.6 L71.7,203.6 L67.3,203.6 L62.9,203.6 L58.5,203.6 L54.0,203.6 L49.6,203.6 L45.2,203.6ZM45.2,233.7 L49.6,233.7 L54.0,233.7 L58.5,233.7 L62.9,233.7 L67.3,233.7 L71.7,233.7 L76.2,233.7 L80.6,233.7 L85.0,233.7 L89.5,233.7 L89.5,229.9 L93.9,229.9 L93.9,226.2 L98.3,226.2 L98.3,222.4 L93.9,222.4 L89.5,222.4 L85.0,222.4 L80.6,222.4 L76.2,222.4 L71.7,222.4 L67.3,222.4 L62.9,222.4 L58.5,222.4 L54.0,222.4 L49.6,222.4 L45.2,222.4 L45.2,226.2 L45.2,229.9 L45.2,233.7ZM45.2,245.0 L45.2,248.7 L45.2,252.5 L49.6,252.5 L54.0,252.5 L58.5,252.5 L62.9,252.5 L67.3,252.5 L71.7,252.5 L76.2,252.5 L80.6,252.5 L80.6,248.7 L80.6,245.0 L85.0,245.0 L85.0,241.2 L85.0,237.4 L89.5,237.4 L89.5,233.7 L85.0,233.7 L80.6,233.7 L76.2,233.7 L71.7,233.7 L67.3,233.7 L62.9,233.7 L58.5,233.7 L54.0,233.7 L49.6,233.7 L45.2,233.7 L45.2,237.4 L45.2,241.2 L45.2,245.0ZM45.2,256.3 L45.2,260.0 L49.6,260.0 L54.0,260.0 L58.5,260.0 L62.9,260.0 L67.3,260.0 L71.7,260.0 L71.7,256.3 L71.7,252.5 L67.3,252.5 L62.9,252.5 L58.5,252.5 L54.0,252.5 L49.6,252.5 L45.2,252.5 L45.2,256.3ZM142.6,147.1 L147.0,147.1 L151.4,147.1 L155.9,147.1 L160.3,147.1 L164.7,147.1 L169.1,147.1 L173.6,147.1 L178.0,147.1 L182.4,147.1 L186.9,147.1 L191.3,147.1 L195.7,147.1 L200.1,147.1 L204.6,147.1 L209.0,147.1 L213.4,147.1 L217.8,147.1 L222.3,147.1 L226.7,147.1 L231.1,147.1 L235.5,147.1 L240.0,147.1 L244.4,147.1 L248.8,147.1 L253.3,147.1 L257.7,147.1 L262.1,147.1 L266.5,147.1 L271.0,147.1 L275.4,147.1 L275.4,143.4 L275.4,139.6 L279.8,139.6 L279.8,135.8 L275.4,135.8 L275.4,132.1 L279.8,132.1 L284.2,132.1 L288.7,132.1 L293.1,132.1 L293.1,135.8 L293.1,139.6 L297.5,139.6 L297.5,143.4 L297.5,147.1 L302.0,147.1 L306.4,147.1 L310.8,147.1 L315.2,147.1 L319.7,147.1 L324.1,147.1 L324.1,143.4 L328.5,143.4 L328.5,139.6 L332.9,139.6 L332.9,143.4 L337.4,143.4 L337.4,147.1 L341.8,147.1 L346.2,147.1 L350.6,147.1 L355.1,147.1 L359.5,147.1 L363.9,147.1 L368.4,147.1 L368.4,143.4 L368.4,139.6 L372.8,139.6 L372.8,135.8 L377.2,135.8 L381.6,135.8 L386.1,135.8 L390.5,135.8 L390.5,132.1 L386.1,132.1 L386.1,128.3 L381.6,128.3 L377.2,128.3 L372.8,128.3 L368.4,128.3 L363.9,128.3 L359.5,128.3 L355.1,128.3 L350.6,128.3 L346.2,128.3 L341.8,128.3 L337.4,128.3 L332.9,128.3 L328.5,128.3 L324.1,128.3 L319.7,128.3 L315.2,128.3 L310.8,128.3 L306.4,128.3 L302.0,128.3 L297.5,128.3 L293.1,128.3 L288.7,128.3 L284.2,128.3 L279.8,128.3 L275.4,128.3 L271.0,128.3 L266.5,128.3 L262.1,128.3 L257.7,128.3 L253.3,128.3 L248.8,128.3 L244.4,128.3 L240.0,128.3 L235.5,128.3 L231.1,128.3 L226.7,128.3 L222.3,128.3 L217.8,128.3 L213.4,128.3 L209.0,128.3 L204.6,128.3 L200.1,128.3 L195.7,128.3 L191.3,128.3 L186.9,128.3 L182.4,128.3 L178.0,128.3 L173.6,128.3 L169.1,128.3 L164.7,128.3 L160.3,128.3 L155.9,128.3 L151.4,128.3 L147.0,128.3 L142.6,128.3 L142.6,132.1 L142.6,135.8 L138.2,135.8 L138.2,139.6 L138.2,143.4 L138.2,147.1 L142.6,147.1ZM142.6,154.7 L142.6,158.4 L142.6,162.2 L147.0,162.2 L147.0,165.9 L151.4,165.9 L155.9,165.9 L160.3,165.9 L164.7,165.9 L169.1,165.9 L173.6,165.9 L178.0,165.9 L182.4,165.9 L186.9,165.9 L191.3,165.9 L195.7,165.9 L200.1,165.9 L204.6,165.9 L209.0,165.9 L213.4,165.9 L217.8,165.9 L222.3,165.9 L226.7,165.9 L231.1,165.9 L235.5,165.9 L240.0,165.9 L244.4,165.9 L248.8,165.9 L253.3,165.9 L257.7,165.9 L262.1,165.9 L262.1,162.2 L262.1,162.2 L262.1,158.4 L257.7,158.4 L253.3,158.4 L248.8,158.4 L248.8,154.7 L253.3,154.7 L257.7,154.7 L262.1,154.7 L262.1,150.9 L266.5,150.9 L271.0,150.9 L271.0,147.1 L266.5,147.1 L262.1,147.1 L257.7,147.1 L253.3,147.1 L248.8,147.1 L244.4,147.1 L240.0,147.1 L235.5,147.1 L231.1,147.1 L226.7,147.1 L222.3,147.1 L217.8,147.1 L213.4,147.1 L209.0,147.1 L204.6,147.1 L200.1,147.1 L195.7,147.1 L191.3,147.1 L186.9,147.1 L182.4,147.1 L178.0,147.1 L173.6,147.1 L169.1,147.1 L164.7,147.1 L160.3,147.1 L155.9,147.1 L151.4,147.1 L147.0,147.1 L142.6,147.1 L138.2,147.1 L138.2,150.9 L138.2,150.9 L138.2,154.7 L142.6,154.7ZM155.9,105.7 L155.9,109.5 L160.3,109.5 L164.7,109.5 L169.1,109.5 L173.6,109.5 L178.0,109.5 L182.4,109.5 L186.9,109.5 L191.3,109.5 L195.7,109.5 L200.1,109.5 L204.6,109.5 L209.0,109.5 L213.4,109.5 L217.8,109.5 L222.3,109.5 L226.7,109.5 L231.1,109.5 L235.5,109.5 L240.0,109.5 L244.4,109.5 L248.8,109.5 L253.3,109.5 L257.7,109.5 L262.1,109.5 L266.5,109.5 L271.0,109.5 L275.4,109.5 L279.8,109.5 L284.2,109.5 L288.7,109.5 L293.1,109.5 L297.5,109.5 L302.0,109.5 L306.4,109.5 L310.8,109.5 L315.2,109.5 L319.7,109.5 L324.1,109.5 L328.5,109.5 L332.9,109.5 L337.4,109.5 L341.8,109.5 L346.2,109.5 L350.6,109.5 L355.1,109.5 L359.5,109.5 L363.9,109.5 L368.4,109.5 L372.8,109.5 L377.2,109.5 L381.6,109.5 L386.1,109.5 L386.1,105.7 L386.1,102.0 L381.6,102.0 L381.6,98.2 L377.2,98.2 L372.8,98.2 L368.4,98.2 L363.9,98.2 L359.5,98.2 L355.1,98.2 L350.6,98.2 L346.2,98.2 L341.8,98.2 L337.4,98.2 L332.9,98.2 L328.5,98.2 L324.1,98.2 L319.7,98.2 L315.2,98.2 L310.8,98.2 L306.4,98.2 L302.0,98.2 L297.5,98.2 L293.1,98.2 L288.7,98.2 L284.2,98.2 L279.8,98.2 L275.4,98.2 L271.0,98.2 L266.5,98.2 L262.1,98.2 L257.7,98.2 L253.3,98.2 L248.8,98.2 L244.4,98.2 L240.0,98.2 L235.5,98.2 L231.1,98.2 L226.7,98.2 L222.3,98.2 L217.8,98.2 L213.4,98.2 L209.0,98.2 L204.6,98.2 L200.1,98.2 L195.7,98.2 L191.3,98.2 L186.9,98.2 L182.4,98.2 L178.0,98.2 L173.6,98.2 L169.1,98.2 L164.7,98.2 L160.3,98.2 L155.9,98.2 L155.9,102.0 L151.4,102.0 L151.4,105.7 L155.9,105.7ZM147.0,117.0 L147.0,120.8 L147.0,124.6 L142.6,124.6 L142.6,128.3 L147.0,128.3 L151.4,128.3 L155.9,128.3 L160.3,128.3 L164.7,128.3 L169.1,128.3 L173.6,128.3 L178.0,128.3 L182.4,128.3 L186.9,128.3 L191.3,128.3 L195.7,128.3 L200.1,128.3 L204.6,128.3 L209.0,128.3 L213.4,128.3 L217.8,128.3 L222.3,128.3 L226.7,128.3 L231.1,128.3 L235.5,128.3 L240.0,128.3 L244.4,128.3 L248.8,128.3 L253.3,128.3 L257.7,128.3 L262.1,128.3 L266.5,128.3 L271.0,128.3 L275.4,128.3 L279.8,128.3 L284.2,128.3 L288.7,128.3 L293.1,128.3 L297.5,128.3 L302.0,128.3 L306.4,128.3 L310.8,128.3 L315.2,128.3 L319.7,128.3 L324.1,128.3 L328.5,128.3 L332.9,128.3 L337.4,128.3 L341.8,128.3 L346.2,128.3 L350.6,128.3 L355.1,128.3 L359.5,128.3 L363.9,128.3 L368.4,128.3 L372.8,128.3 L377.2,128.3 L381.6,128.3 L386.1,128.3 L386.1,124.6 L386.1,120.8 L386.1,117.0 L390.5,117.0 L390.5,113.3 L386.1,113.3 L386.1,109.5 L381.6,109.5 L377.2,109.5 L372.8,109.5 L368.4,109.5 L363.9,109.5 L359.5,109.5 L355.1,109.5 L350.6,109.5 L346.2,109.5 L341.8,109.5 L337.4,109.5 L332.9,109.5 L328.5,109.5 L324.1,109.5 L319.7,109.5 L315.2,109.5 L310.8,109.5 L306.4,109.5 L302.0,109.5 L297.5,109.5 L293.1,109.5 L288.7,109.5 L284.2,109.5 L279.8,109.5 L275.4,109.5 L271.0,109.5 L266.5,109.5 L262.1,109.5 L257.7,109.5 L253.3,109.5 L248.8,109.5 L244.4,109.5 L240.0,109.5 L235.5,109.5 L231.1,109.5 L226.7,109.5 L222.3,109.5 L217.8,109.5 L213.4,109.5 L209.0,109.5 L204.6,109.5 L200.1,109.5 L195.7,109.5 L191.3,109.5 L186.9,109.5 L182.4,109.5 L178.0,109.5 L173.6,109.5 L169.1,109.5 L164.7,109.5 L160.3,109.5 L155.9,109.5 L151.4,109.5 L151.4,113.3 L151.4,117.0 L147.0,117.0ZM164.7,173.5 L169.1,173.5 L169.1,169.7 L173.6,169.7 L178.0,169.7 L178.0,173.5 L182.4,173.5 L186.9,173.5 L186.9,177.2 L186.9,181.0 L186.9,184.8 L191.3,184.8 L195.7,184.8 L200.1,184.8 L204.6,184.8 L209.0,184.8 L213.4,184.8 L217.8,184.8 L222.3,184.8 L226.7,184.8 L231.1,184.8 L235.5,184.8 L240.0,184.8 L244.4,184.8 L248.8,184.8 L248.8,181.0 L253.3,181.0 L253.3,177.2 L253.3,173.5 L257.7,173.5 L257.7,169.7 L262.1,169.7 L262.1,165.9 L257.7,165.9 L253.3,165.9 L248.8,165.9 L244.4,165.9 L240.0,165.9 L235.5,165.9 L231.1,165.9 L226.7,165.9 L222.3,165.9 L217.8,165.9 L213.4,165.9 L209.0,165.9 L204.6,165.9 L200.1,165.9 L195.7,165.9 L191.3,165.9 L186.9,165.9 L182.4,165.9 L178.0,165.9 L173.6,165.9 L169.1,165.9 L164.7,165.9 L160.3,165.9 L155.9,165.9 L151.4,165.9 L151.4,169.7 L151.4,173.5 L155.9,173.5 L160.3,173.5 L164.7,173.5ZM191.3,199.8 L195.7,199.8 L195.7,203.6 L200.1,203.6 L204.6,203.6 L209.0,203.6 L213.4,203.6 L217.8,203.6 L222.3,203.6 L226.7,203.6 L231.1,203.6 L235.5,203.6 L240.0,203.6 L244.4,203.6 L244.4,199.8 L244.4,199.8 L244.4,196.1 L244.4,192.3 L244.4,188.5 L244.4,184.8 L240.0,184.8 L235.5,184.8 L231.1,184.8 L226.7,184.8 L222.3,184.8 L217.8,184.8 L213.4,184.8 L209.0,184.8 L204.6,184.8 L200.1,184.8 L195.7,184.8 L191.3,184.8 L186.9,184.8 L186.9,188.5 L191.3,188.5 L191.3,192.3 L191.3,196.1 L191.3,199.8ZM191.3,211.1 L191.3,214.9 L191.3,218.6 L191.3,222.4 L195.7,222.4 L200.1,222.4 L204.6,222.4 L209.0,222.4 L213.4,222.4 L217.8,222.4 L222.3,222.4 L226.7,222.4 L231.1,222.4 L235.5,222.4 L235.5,218.6 L240.0,218.6 L240.0,214.9 L244.4,214.9 L244.4,211.1 L244.4,207.3 L244.4,203.6 L240.0,203.6 L235.5,203.6 L231.1,203.6 L226.7,203.6 L222.3,203.6 L217.8,203.6 L213.4,203.6 L209.0,203.6 L204.6,203.6 L200.1,203.6 L195.7,203.6 L191.3,203.6 L191.3,207.3 L191.3,211.1ZM195.7,233.7 L200.1,233.7 L204.6,233.7 L209.0,233.7 L213.4,233.7 L217.8,233.7 L222.3,233.7 L226.7,233.7 L231.1,233.7 L235.5,233.7 L235.5,229.9 L235.5,226.2 L235.5,222.4 L231.1,222.4 L226.7,222.4 L222.3,222.4 L217.8,222.4 L213.4,222.4 L209.0,222.4 L204.6,222.4 L200.1,222.4 L195.7,222.4 L195.7,226.2 L195.7,229.9 L195.7,233.7ZM200.1,241.2 L200.1,245.0 L200.1,248.7 L204.6,248.7 L204.6,252.5 L209.0,252.5 L213.4,252.5 L217.8,252.5 L222.3,252.5 L222.3,248.7 L226.7,248.7 L226.7,245.0 L226.7,241.2 L231.1,241.2 L231.1,237.4 L231.1,233.7 L226.7,233.7 L222.3,233.7 L217.8,233.7 L213.4,233.7 L209.0,233.7 L204.6,233.7 L200.1,233.7 L195.7,233.7 L195.7,237.4 L200.1,237.4 L200.1,241.2ZM248.8,211.1 L248.8,214.9 L248.8,218.6 L248.8,222.4 L253.3,222.4 L257.7,222.4 L257.7,218.6 L262.1,218.6 L262.1,214.9 L262.1,211.1 L262.1,207.3 L262.1,203.6 L257.7,203.6 L257.7,207.3 L253.3,207.3 L253.3,211.1 L248.8,211.1ZM248.8,233.7 L253.3,233.7 L257.7,233.7 L257.7,229.9 L257.7,226.2 L257.7,222.4 L253.3,222.4 L248.8,222.4 L248.8,226.2 L248.8,229.9 L248.8,233.7ZM306.4,165.9 L310.8,165.9 L315.2,165.9 L315.2,162.2 L315.2,162.2 L315.2,158.4 L315.2,154.7 L315.2,150.9 L319.7,150.9 L319.7,147.1 L315.2,147.1 L310.8,147.1 L306.4,147.1 L302.0,147.1 L302.0,150.9 L302.0,150.9 L302.0,154.7 L302.0,158.4 L306.4,158.4 L306.4,162.2 L306.4,162.2 L306.4,165.9ZM315.2,169.7 L315.2,165.9 L310.8,165.9 L310.8,169.7 L315.2,169.7ZM341.8,147.1 L337.4,147.1 L337.4,150.9 L341.8,150.9 L341.8,154.7 L346.2,154.7 L346.2,158.4 L346.2,162.2 L346.2,162.2 L346.2,165.9 L350.6,165.9 L355.1,165.9 L359.5,165.9 L359.5,162.2 L363.9,162.2 L363.9,158.4 L368.4,158.4 L368.4,154.7 L363.9,154.7 L363.9,150.9 L363.9,150.9 L363.9,147.1 L359.5,147.1 L355.1,147.1 L350.6,147.1 L346.2,147.1 L341.8,147.1ZM346.2,181.0 L350.6,181.0 L350.6,184.8 L355.1,184.8 L359.5,184.8 L359.5,181.0 L359.5,177.2 L359.5,173.5 L359.5,173.5 L359.5,169.7 L355.1,169.7 L355.1,165.9 L350.6,165.9 L346.2,165.9 L341.8,165.9 L341.8,169.7 L341.8,173.5 L346.2,173.5 L346.2,177.2 L346.2,181.0ZM368.4,184.8 L372.8,184.8 L377.2,184.8 L381.6,184.8 L386.1,184.8 L390.5,184.8 L390.5,181.0 L394.9,181.0 L394.9,177.2 L390.5,177.2 L386.1,177.2 L381.6,177.2 L381.6,173.5 L381.6,173.5 L381.6,169.7 L381.6,165.9 L377.2,165.9 L377.2,169.7 L372.8,169.7 L368.4,169.7 L368.4,173.5 L363.9,173.5 L363.9,177.2 L363.9,181.0 L363.9,184.8 L368.4,184.8ZM372.8,199.8 L377.2,199.8 L381.6,199.8 L386.1,199.8 L386.1,196.1 L381.6,196.1 L377.2,196.1 L377.2,192.3 L372.8,192.3 L368.4,192.3 L363.9,192.3 L363.9,188.5 L368.4,188.5 L372.8,188.5 L377.2,188.5 L377.2,184.8 L372.8,184.8 L368.4,184.8 L363.9,184.8 L359.5,184.8 L355.1,184.8 L355.1,188.5 L355.1,192.3 L359.5,192.3 L359.5,196.1 L363.9,196.1 L368.4,196.1 L368.4,199.8 L372.8,199.8ZM394.9,109.5 L399.3,109.5 L399.3,105.7 L403.8,105.7 L403.8,102.0 L399.3,102.0 L399.3,98.2 L394.9,98.2 L394.9,102.0 L394.9,105.7 L394.9,109.5ZM399.3,113.3 L399.3,117.0 L403.8,117.0 L408.2,117.0 L408.2,113.3 L412.6,113.3 L417.1,113.3 L417.1,109.5 L412.6,109.5 L408.2,109.5 L403.8,109.5 L399.3,109.5 L394.9,109.5 L394.9,113.3 L399.3,113.3ZM381.6,147.1 L386.1,147.1 L390.5,147.1 L390.5,143.4 L386.1,143.4 L381.6,143.4 L381.6,147.1ZM394.9,165.9 L399.3,165.9 L399.3,162.2 L394.9,162.2 L394.9,158.4 L394.9,154.7 L394.9,150.9 L390.5,150.9 L390.5,147.1 L386.1,147.1 L381.6,147.1 L381.6,150.9 L386.1,150.9 L386.1,154.7 L386.1,158.4 L381.6,158.4 L381.6,162.2 L386.1,162.2 L386.1,165.9 L390.5,165.9 L394.9,165.9ZM386.1,165.9 L386.1,169.7 L390.5,169.7 L394.9,169.7 L394.9,165.9 L390.5,165.9 L386.1,165.9ZM399.3,177.2 L399.3,173.5 L394.9,173.5 L394.9,177.2 L399.3,177.2ZM390.5,184.8 L386.1,184.8 L381.6,184.8 L381.6,188.5 L386.1,188.5 L386.1,192.3 L390.5,192.3 L390.5,188.5 L390.5,184.8ZM399.3,199.8 L399.3,196.1 L394.9,196.1 L394.9,199.8 L399.3,199.8ZM381.6,222.4 L386.1,222.4 L390.5,222.4 L394.9,222.4 L399.3,222.4 L403.8,222.4 L408.2,222.4 L412.6,222.4 L417.1,222.4 L421.5,222.4 L425.9,222.4 L430.3,222.4 L434.8,222.4 L434.8,218.6 L434.8,214.9 L430.3,214.9 L430.3,211.1 L430.3,207.3 L425.9,207.3 L425.9,203.6 L421.5,203.6 L417.1,203.6 L417.1,207.3 L417.1,211.1 L412.6,211.1 L412.6,207.3 L412.6,203.6 L408.2,203.6 L403.8,203.6 L399.3,203.6 L399.3,207.3 L394.9,207.3 L390.5,207.3 L390.5,211.1 L386.1,211.1 L386.1,214.9 L381.6,214.9 L381.6,218.6 L377.2,218.6 L372.8,218.6 L372.8,222.4 L377.2,222.4 L381.6,222.4ZM377.2,233.7 L381.6,233.7 L386.1,233.7 L390.5,233.7 L394.9,233.7 L399.3,233.7 L403.8,233.7 L408.2,233.7 L412.6,233.7 L417.1,233.7 L421.5,233.7 L425.9,233.7 L430.3,233.7 L434.8,233.7 L439.2,233.7 L443.6,233.7 L443.6,229.9 L443.6,226.2 L439.2,226.2 L439.2,222.4 L434.8,222.4 L430.3,222.4 L425.9,222.4 L421.5,222.4 L417.1,222.4 L412.6,222.4 L408.2,222.4 L403.8,222.4 L399.3,222.4 L394.9,222.4 L390.5,222.4 L386.1,222.4 L381.6,222.4 L377.2,222.4 L372.8,222.4 L372.8,226.2 L372.8,229.9 L372.8,233.7 L377.2,233.7ZM372.8,245.0 L372.8,248.7 L372.8,252.5 L377.2,252.5 L381.6,252.5 L386.1,252.5 L390.5,252.5 L390.5,248.7 L394.9,248.7 L399.3,248.7 L399.3,245.0 L403.8,245.0 L403.8,248.7 L408.2,248.7 L408.2,252.5 L412.6,252.5 L417.1,252.5 L421.5,252.5 L425.9,252.5 L430.3,252.5 L434.8,252.5 L439.2,252.5 L443.6,252.5 L443.6,248.7 L443.6,245.0 L443.6,241.2 L443.6,237.4 L443.6,233.7 L439.2,233.7 L434.8,233.7 L430.3,233.7 L425.9,233.7 L421.5,233.7 L417.1,233.7 L412.6,233.7 L408.2,233.7 L403.8,233.7 L399.3,233.7 L394.9,233.7 L390.5,233.7 L386.1,233.7 L381.6,233.7 L377.2,233.7 L372.8,233.7 L372.8,237.4 L372.8,241.2 L372.8,245.0ZM412.6,109.5 L417.1,109.5 L421.5,109.5 L421.5,105.7 L421.5,102.0 L421.5,98.2 L417.1,98.2 L417.1,102.0 L412.6,102.0 L412.6,105.7 L408.2,105.7 L403.8,105.7 L403.8,109.5 L408.2,109.5 L412.6,109.5ZM408.2,181.0 L403.8,181.0 L399.3,181.0 L399.3,184.8 L403.8,184.8 L408.2,184.8 L412.6,184.8 L412.6,181.0 L408.2,181.0ZM408.2,188.5 L408.2,192.3 L412.6,192.3 L417.1,192.3 L417.1,196.1 L421.5,196.1 L421.5,199.8 L421.5,199.8 L421.5,203.6 L425.9,203.6 L425.9,199.8 L430.3,199.8 L434.8,199.8 L434.8,196.1 L434.8,192.3 L430.3,192.3 L430.3,188.5 L425.9,188.5 L425.9,184.8 L421.5,184.8 L417.1,184.8 L412.6,184.8 L408.2,184.8 L403.8,184.8 L403.8,188.5 L408.2,188.5ZM421.5,260.0 L425.9,260.0 L430.3,260.0 L434.8,260.0 L439.2,260.0 L439.2,256.3 L439.2,252.5 L434.8,252.5 L430.3,252.5 L425.9,252.5 L421.5,252.5 L417.1,252.5 L417.1,256.3 L417.1,260.0 L421.5,260.0ZM598.6,109.5 L603.0,109.5 L607.4,109.5 L611.8,109.5 L616.3,109.5 L620.7,109.5 L625.1,109.5 L629.6,109.5 L634.0,109.5 L638.4,109.5 L642.8,109.5 L647.3,109.5 L651.7,109.5 L656.1,109.5 L660.5,109.5 L665.0,109.5 L669.4,109.5 L673.8,109.5 L673.8,105.7 L673.8,102.0 L673.8,98.2 L669.4,98.2 L665.0,98.2 L660.5,98.2 L656.1,98.2 L651.7,98.2 L647.3,98.2 L642.8,98.2 L638.4,98.2 L634.0,98.2 L629.6,98.2 L625.1,98.2 L620.7,98.2 L616.3,98.2 L611.8,98.2 L607.4,98.2 L603.0,98.2 L598.6,98.2 L594.1,98.2 L594.1,102.0 L589.7,102.0 L589.7,105.7 L594.1,105.7 L594.1,109.5 L598.6,109.5ZM629.6,109.5 L625.1,109.5 L620.7,109.5 L616.3,109.5 L611.8,109.5 L607.4,109.5 L603.0,109.5 L598.6,109.5 L598.6,113.3 L598.6,117.0 L603.0,117.0 L603.0,120.8 L607.4,120.8 L607.4,124.6 L607.4,128.3 L611.8,128.3 L616.3,128.3 L620.7,128.3 L625.1,128.3 L629.6,128.3 L634.0,128.3 L638.4,128.3 L638.4,124.6 L638.4,120.8 L642.8,120.8 L647.3,120.8 L651.7,120.8 L656.1,120.8 L660.5,120.8 L660.5,124.6 L660.5,128.3 L665.0,128.3 L669.4,128.3 L669.4,124.6 L665.0,124.6 L665.0,120.8 L665.0,117.0 L669.4,117.0 L669.4,113.3 L669.4,109.5 L665.0,109.5 L660.5,109.5 L656.1,109.5 L651.7,109.5 L647.3,109.5 L642.8,109.5 L638.4,109.5 L634.0,109.5 L629.6,109.5ZM625.1,143.4 L625.1,147.1 L629.6,147.1 L634.0,147.1 L638.4,147.1 L642.8,147.1 L647.3,147.1 L651.7,147.1 L656.1,147.1 L656.1,143.4 L656.1,139.6 L656.1,135.8 L651.7,135.8 L651.7,139.6 L647.3,139.6 L647.3,143.4 L642.8,143.4 L638.4,143.4 L638.4,139.6 L638.4,135.8 L638.4,132.1 L638.4,128.3 L634.0,128.3 L629.6,128.3 L625.1,128.3 L620.7,128.3 L616.3,128.3 L616.3,132.1 L620.7,132.1 L620.7,135.8 L620.7,139.6 L620.7,143.4 L625.1,143.4ZM651.7,154.7 L651.7,158.4 L656.1,158.4 L656.1,162.2 L660.5,162.2 L660.5,165.9 L665.0,165.9 L669.4,165.9 L673.8,165.9 L678.2,165.9 L682.7,165.9 L687.1,165.9 L687.1,162.2 L687.1,162.2 L687.1,158.4 L682.7,158.4 L678.2,158.4 L673.8,158.4 L673.8,162.2 L669.4,162.2 L665.0,162.2 L665.0,158.4 L665.0,154.7 L660.5,154.7 L660.5,150.9 L656.1,150.9 L656.1,147.1 L651.7,147.1 L647.3,147.1 L642.8,147.1 L638.4,147.1 L634.0,147.1 L634.0,150.9 L638.4,150.9 L642.8,150.9 L642.8,154.7 L647.3,154.7 L651.7,154.7ZM461.3,222.4 L461.3,226.2 L465.8,226.2 L470.2,226.2 L470.2,222.4 L465.8,222.4 L461.3,222.4ZM474.6,252.5 L474.6,256.3 L479.0,256.3 L479.0,260.0 L483.5,260.0 L487.9,260.0 L487.9,256.3 L483.5,256.3 L483.5,252.5 L479.0,252.5 L474.6,252.5ZM660.5,132.1 L665.0,132.1 L669.4,132.1 L669.4,128.3 L665.0,128.3 L660.5,128.3 L660.5,132.1ZM673.8,147.1 L673.8,143.4 L678.2,143.4 L678.2,147.1 L682.7,147.1 L687.1,147.1 L687.1,143.4 L682.7,143.4 L682.7,139.6 L678.2,139.6 L673.8,139.6 L673.8,135.8 L669.4,135.8 L665.0,135.8 L660.5,135.8 L660.5,139.6 L665.0,139.6 L669.4,139.6 L669.4,143.4 L669.4,147.1 L673.8,147.1ZM678.2,165.9 L673.8,165.9 L669.4,165.9 L669.4,169.7 L669.4,173.5 L669.4,173.5 L669.4,177.2 L665.0,177.2 L665.0,181.0 L665.0,184.8 L669.4,184.8 L673.8,184.8 L678.2,184.8 L682.7,184.8 L687.1,184.8 L687.1,181.0 L687.1,177.2 L687.1,173.5 L687.1,173.5 L687.1,169.7 L687.1,165.9 L682.7,165.9 L678.2,165.9ZM665.0,188.5 L665.0,192.3 L665.0,196.1 L669.4,196.1 L669.4,199.8 L669.4,199.8 L669.4,203.6 L673.8,203.6 L678.2,203.6 L682.7,203.6 L687.1,203.6 L687.1,199.8 L687.1,199.8 L687.1,196.1 L687.1,192.3 L687.1,188.5 L687.1,184.8 L682.7,184.8 L678.2,184.8 L673.8,184.8 L669.4,184.8 L665.0,184.8 L665.0,188.5ZM678.2,211.1 L678.2,214.9 L682.7,214.9 L682.7,218.6 L682.7,222.4 L687.1,222.4 L687.1,218.6 L687.1,214.9 L687.1,211.1 L687.1,207.3 L687.1,203.6 L682.7,203.6 L678.2,203.6 L673.8,203.6 L669.4,203.6 L669.4,207.3 L673.8,207.3 L673.8,211.1 L678.2,211.1ZM687.1,222.4 L682.7,222.4 L682.7,226.2 L682.7,229.9 L682.7,233.7 L687.1,233.7 L687.1,229.9 L687.1,226.2 L687.1,222.4ZM687.1,248.7 L687.1,245.0 L687.1,241.2 L687.1,237.4 L687.1,233.7 L682.7,233.7 L682.7,237.4 L682.7,241.2 L682.7,245.0 L682.7,248.7 L678.2,248.7 L678.2,252.5 L682.7,252.5 L687.1,252.5 L687.1,248.7ZM678.2,260.0 L682.7,260.0 L687.1,260.0 L687.1,256.3 L687.1,252.5 L682.7,252.5 L678.2,252.5 L678.2,256.3 L678.2,260.0Z" fill="#fff" fill-rule="evenodd"/><path d="M345.0,150.0 L366.0,150.0 L366.0,157.0 L361.0,164.0 L357.0,171.0 L351.0,172.0 L345.0,166.0Z M620.0,141.0 L620.0,145.3 L627.6,145.3 L627.6,149.1 L632.4,149.1 L632.4,154.0 L653.4,154.0 L653.4,168.2 L670.6,168.2 L670.6,171.0 L667.8,171.0 L667.8,178.0 L663.0,178.0 L663.0,190.0 L667.0,190.0 L672.0,170.0 L672.0,164.0 L660.0,158.0 L650.0,153.0 L640.0,149.0 L630.0,146.0Z" fill="#fff"/><path d="M190.0,101.5 L235.0,101.5 L235.0,113.0 L229.0,113.5 L220.0,113.5 L212.0,113.0 L205.0,114.0 L198.0,112.0 L191.0,108.5Z" fill="#1f50ff"/><path d="M198.0,104.0 L214.0,104.0 L214.0,109.0 L204.0,111.0 L198.0,108.0Z" fill="#0030dc"/><path d="M209.0,101.5 L210.0,103.5 L212.0,105.5 L213.5,103.5 L213.0,101.5Z M216.3,101.5 L218.8,102.9 L223.7,105.4 L228.6,104.8 L235.0,104.8 L235.0,101.5Z M194.0,102.8 L199.5,101.8 L199.8,103.2 L195.0,103.8Z M212.6,107.8 L217.5,107.3 L217.5,108.6 L212.8,109.0Z M228.6,108.4 L232.3,107.8 L231.8,109.4 L229.2,109.7Z" fill="#fff"/><path d="M403.4,98.5L415.6,107.1M413.6,96.4L431.7,109.1M424.0,102.3L447.4,104.4M437.9,102.4L460.1,104.3M449.2,102.2L475.4,104.5M460.3,102.0L490.8,104.7M472.4,101.9L505.4,104.8M485.6,101.9L518.6,104.8M499.8,102.0L531.1,104.7M514.7,102.1L542.6,104.6M531.1,102.4L552.8,104.3M548.1,108.3L562.7,99.9M563.9,106.8L574.1,101.0M579.7,105.4L585.5,102.0M667.1,102.2L682.6,104.4M407.0,113.9L412.9,118.1M420.7,114.3L425.8,117.8M432.0,115.9L440.6,116.7M443.9,115.8L454.9,116.8M455.5,115.7L469.4,116.9M467.8,115.6L483.4,116.9M481.0,115.6L496.8,116.9M494.6,115.6L509.8,116.9M508.1,115.6L522.9,116.9M522.5,115.7L535.4,116.8M538.5,115.9L546.7,116.7M553.7,118.0L558.3,115.3M567.8,117.5L570.8,115.8M584.1,114.8L582.6,117.0M597.6,114.5L595.7,117.3M678.9,116.4L674.3,116.4M414.2,127.4L407.7,130.4M427.3,127.5L421.1,130.4M438.9,128.3L436.0,129.6M451.4,128.6L450.1,129.2M464.7,128.6L463.4,129.2M478.0,128.6L476.6,129.2M491.3,128.6L489.9,129.2M504.6,128.6L503.2,129.2M517.8,128.6L516.5,129.2M531.1,128.6L529.8,129.2M544.4,128.6L543.0,129.3M557.9,128.5L556.1,129.4M571.5,128.4L569.1,129.5M584.3,127.4L582.4,130.1M597.6,127.3L595.7,130.1M610.4,128.1L609.5,129.3M652.1,127.9L647.8,129.9M678.1,128.2L675.0,129.6M421.4,135.2L401.7,144.3M433.1,135.9L416.6,143.6M443.2,137.4L432.5,142.4M454.9,138.1L446.9,141.9M468.0,138.2L460.3,141.8M481.3,138.2L473.6,141.8M494.4,138.3L487.0,141.7M507.8,138.2L500.2,141.8M521.1,138.2L513.4,141.8M534.5,138.2L526.6,141.8M548.0,138.1L539.8,141.9M561.2,138.1L553.1,141.9M574.5,138.1L566.3,141.9M586.0,136.1L580.9,143.4M598.8,136.9L594.6,142.8M610.4,139.2L609.5,140.5M667.4,139.5L659.4,140.9M423.4,147.8L399.7,158.8M432.8,149.5L416.8,157.0M444.0,150.5L431.8,156.2M457.9,150.2L444.7,156.4M472.2,149.7L457.1,156.8M486.0,149.5L469.9,157.0M499.2,149.5L483.2,157.0M512.5,149.6L496.6,157.0M525.7,149.6L509.9,157.0M539.1,149.5L523.1,157.0M552.5,149.5L536.3,157.0M565.6,149.5L549.6,157.0M578.3,149.8L563.6,156.7M590.5,150.3L577.7,156.3M602.3,151.0L592.0,155.8M613.6,151.9L606.7,155.2M626.8,152.0L620.1,155.1M673.4,151.9L654.6,155.2M689.3,151.4L665.2,155.7M413.8,163.3L408.0,166.0M426.5,163.6L421.9,165.8M439.4,163.8L435.5,165.6M455.3,162.6L446.6,166.6M469.6,162.1L459.1,167.0M482.8,162.1L472.4,167.0M496.2,162.1L485.6,167.0M509.5,162.1L498.9,167.0M523.0,162.0L512.0,167.1M536.4,161.9L525.2,167.1M549.4,162.0L538.7,167.0M562.2,162.2L552.3,166.9M575.4,162.3L565.7,166.8M588.0,162.6L579.4,166.6M599.6,163.4L594.1,166.0M614.0,162.9L606.4,166.4M627.0,163.0L619.9,166.3M639.4,163.4L634.0,166.0M653.0,163.2L646.9,166.1M411.7,174.8L410.2,174.6M425.0,174.8L423.5,174.6M438.3,174.8L436.8,174.6M452.1,174.8L449.5,174.6M465.9,174.9L462.2,174.5M479.4,174.9L475.4,174.5M492.8,174.9L488.5,174.5M506.6,174.9L501.2,174.5M520.4,175.0L514.0,174.4M533.8,175.0L527.2,174.4M546.8,175.0L540.8,174.4M560.1,175.0L554.0,174.4M573.0,174.9L567.6,174.5M586.1,174.9L581.1,174.5M599.1,174.9L594.7,174.5M611.3,174.8L609.1,174.6M624.2,174.8L622.7,174.6M637.5,174.8L636.0,174.6M650.8,174.8L649.3,174.6M664.0,174.8L662.6,174.6M438.2,186.4L436.8,185.9M451.5,186.4L450.1,185.9M464.8,185.6L463.3,186.0M478.3,185.6L476.4,186.1M492.0,185.4L489.2,186.2M505.9,185.3L501.9,186.4M520.4,185.0L514.0,186.7M535.4,184.5L526.0,187.0M548.5,184.6L539.4,187.0M560.6,184.9L553.5,186.8M573.3,185.0L567.4,186.6M586.4,187.2L580.7,185.1M600.0,187.3L593.7,185.0M612.5,187.0L607.8,185.3M625.3,186.8L621.6,185.5M638.4,186.8L635.1,185.6M651.6,186.8L648.3,185.6M412.6,197.7L409.3,196.5M438.2,197.3L436.8,196.8M451.5,197.3L450.1,196.8M464.8,196.6L463.3,196.9M478.1,196.6L476.6,196.9M491.4,196.5L489.9,197.0M504.9,196.5L502.9,197.0M518.7,196.3L515.6,197.2M532.6,196.2L528.4,197.3M546.1,196.1L541.4,197.4M560.1,195.9L553.9,197.6M574.6,195.6L566.3,197.8M589.0,199.1L578.7,195.3M603.4,199.5L591.2,195.0M615.8,199.1L605.1,195.3M628.1,199.9L619.1,194.7M640.8,199.6L632.8,194.9M653.2,199.0L646.8,195.3M665.5,197.9L661.0,196.3M438.6,208.8L436.4,208.5M451.5,208.8L450.1,208.6M464.8,208.8L463.3,208.6M478.3,208.8L476.4,208.6M491.9,208.9L489.4,208.5M505.9,209.0L502.0,208.4M519.0,208.9L515.4,208.4M532.1,208.9L528.9,208.5M545.8,209.0L541.7,208.4M560.5,209.2L553.6,208.2M576.4,209.5L565.0,207.9M591.9,209.8L576.6,207.7M605.9,209.9L589.3,207.6M618.0,209.8L603.5,207.7M630.0,209.6L617.7,207.9M641.7,211.8L632.2,206.3M654.5,211.5L645.8,206.5M663.7,212.1L662.1,206.2M440.7,220.3L434.3,219.4M453.5,220.2L448.1,219.4M467.6,220.3L460.6,219.3M481.7,220.4L473.3,219.2M494.9,220.4L486.6,219.2M509.1,220.5L499.2,219.1M522.2,220.5L512.6,219.2M535.1,220.4L526.2,219.2M548.6,220.5L539.3,219.2M562.0,220.5L552.5,219.2M575.5,220.5L565.6,219.1M589.0,220.6L578.7,219.1M602.0,220.5L592.2,219.1M614.9,220.5L605.8,219.2M627.9,220.4L619.3,219.2M640.5,222.2L633.1,217.9M654.0,222.4L646.1,217.8M663.9,224.0L661.9,216.6M677.2,224.2L675.2,216.5M456.6,232.3L445.6,230.8M469.9,232.3L458.9,230.8M482.7,232.3L472.5,230.8M495.4,232.2L486.3,230.9M510.0,232.4L498.6,230.8M524.6,232.6L510.9,230.6M538.8,232.7L523.4,230.5M551.8,232.7L537.0,230.6M563.7,232.4L551.3,230.7M574.8,232.2L566.1,230.9M586.5,231.9L580.8,231.1M599.5,231.9L594.3,231.2M612.2,231.8L608.2,231.2M625.1,231.7L621.8,231.3M638.1,232.5L635.3,230.9M652.3,233.1L647.5,230.3M664.3,237.1L661.7,227.3M677.9,238.3L674.7,226.4M448.0,244.4L451.4,244.1M461.3,244.4L464.7,244.1M474.6,244.4L478.0,244.1M487.9,244.3L491.2,244.1M500.9,244.4L504.7,244.0M513.5,244.4L518.7,244.0M525.9,244.5L532.9,243.9M539.3,244.5L546.0,243.9M553.7,244.4L558.2,244.0M567.6,244.3L570.9,244.1M581.4,244.3L583.7,244.1M595.1,244.3L596.5,244.1M608.3,244.3L609.8,244.1M621.6,244.3L623.1,244.1M634.9,244.3L636.4,244.1M647.5,244.3L650.3,244.1M664.7,251.4L661.3,238.9M678.5,253.3L674.2,237.4M408.6,258.0L411.2,257.8M448.5,258.0L450.9,257.8M461.6,258.0L464.3,257.8M474.9,258.0L477.7,257.8M488.2,258.0L490.9,257.8M501.4,258.0L504.2,257.8M514.8,258.0L517.4,257.8M528.1,258.0L530.7,257.8M541.4,258.0L544.0,257.8M554.5,258.0L557.4,257.8M568.1,258.0L570.3,257.8M581.7,258.0L583.3,257.8M594.7,258.0L596.9,257.8M608.3,258.0L609.8,257.8M621.6,258.0L623.1,257.8M634.9,258.0L636.4,257.8M647.5,258.0L650.3,257.8M664.1,262.9L661.8,254.2M677.8,264.5L674.7,253.0M202.4,258.2L210.0,257.6M217.8,258.1L221.2,257.8M231.0,244.4L234.6,244.0M231.9,258.0L233.7,257.8M243.8,183.6L248.6,187.7M244.5,195.1L247.9,198.0M249.0,209.5L245.3,208.1M249.7,220.9L244.5,219.0M250.5,232.8L243.8,230.4M244.5,244.3L247.7,244.1M245.3,258.0L246.8,257.8M262.1,166.5L258.3,180.6M257.2,183.7L261.8,187.5M258.5,195.7L260.5,197.4M263.7,221.1L257.1,218.7M264.3,233.0L256.7,230.3M257.9,244.3L260.8,244.1M258.4,258.0L260.3,257.8M277.6,148.1L269.9,157.9M277.7,159.2L269.9,169.1M274.4,170.2L272.3,177.9M271.5,184.5L274.0,186.7M272.2,196.1L273.3,197.0M275.7,209.5L271.7,208.1M278.8,221.8L269.1,218.2M277.2,232.9L270.2,230.4M271.4,244.3L273.9,244.1M271.3,258.0L273.9,257.8M289.0,137.0L284.6,142.7M289.9,149.3L283.9,157.1M289.3,161.3L284.4,167.6M287.1,172.1L286.1,176.1M285.5,185.1L286.6,186.1M285.5,196.1L286.6,197.0M289.0,209.5L285.0,208.1M292.6,222.0L281.9,218.1M290.4,232.9L283.6,230.4M284.9,244.3L286.9,244.1M284.8,258.0L287.0,257.8M302.1,150.7L298.0,156.0M302.0,162.1L298.2,166.9M300.4,172.3L299.4,175.9M298.7,185.1L299.9,186.1M298.7,196.1L299.9,197.0M302.4,209.6L298.1,208.0M306.8,222.3L294.6,217.8M303.6,232.9L296.9,230.4M298.4,244.3L299.9,244.1M297.4,258.1L301.0,257.7M313.7,172.1L312.6,176.1M312.0,185.1L313.2,186.1M312.0,196.1L313.2,197.0M315.9,209.6L311.2,207.9M320.2,222.3L307.8,217.8M318.0,233.2L309.4,230.1M311.7,244.3L313.2,244.1M310.5,258.1L314.4,257.7M329.6,149.6L323.9,156.9M329.4,161.0L324.0,167.8M327.0,172.1L325.9,176.2M325.3,185.1L326.5,186.1M325.3,196.1L326.5,197.0M329.2,209.7L324.4,207.9M332.7,222.1L321.6,218.0M333.0,233.9L321.4,229.7M324.1,244.3L327.4,244.1M324.5,258.0L327.0,257.8M341.5,151.3L338.3,155.4M341.7,162.1L338.1,166.8M340.4,171.6L339.1,176.6M338.0,184.6L340.3,186.6M338.5,196.0L339.8,197.1M342.7,209.7L337.5,207.9M342.8,225.8L337.2,215.3M344.3,240.3L336.1,224.8M341.7,248.1L338.1,241.3M338.1,258.0L340.0,257.8M350.9,184.3L354.0,186.9M350.4,194.8L354.5,198.2M357.0,210.1L349.8,207.5M356.3,226.2L350.3,215.0M359.2,243.3L347.7,221.8M357.9,253.6L349.0,236.9M350.6,258.1L354.1,257.8M371.2,160.3L362.4,168.3M370.2,198.4L363.2,195.8M370.0,210.0L363.4,207.6M367.6,222.5L365.2,217.9M372.2,242.8L361.3,222.2M372.4,256.0L361.0,234.5M363.5,258.1L367.7,257.7M389.7,131.0L371.0,147.9M389.9,144.4L370.8,161.5M384.6,160.3L375.7,168.3M381.9,186.9L378.0,185.4M383.7,210.1L376.3,207.5M377.1,258.1L380.7,257.7M388.5,100.5L395.7,105.6M388.1,113.1L396.0,118.7M398.3,126.5L388.6,131.1M402.7,131.3L384.5,147.6M394.4,174.8L392.1,174.6M394.5,186.6L391.9,185.7M395.6,197.9L390.8,196.2M390.7,258.0L393.6,257.8M168.8,258.4L172.8,258.0M185.8,258.4L191.2,257.9M72.7,258.3L74.2,258.1M90.4,258.3L91.9,258.1M107.6,258.3L110.1,258.1M124.4,258.4L128.7,258.0M142.2,258.4L146.3,258.0M156.1,254.5L158.9,254.3M182.1,249.5L179.0,245.1M202.4,253.2L194.7,242.2M81.1,247.0L83.4,246.8M98.8,247.0L101.1,246.8M116.9,247.0L118.5,246.8M134.6,247.0L136.1,246.8M147.9,243.2L149.4,243.1M167.7,244.2L166.8,242.9M196.7,246.4L182.9,226.8M94.9,235.0L89.5,235.9M112.3,235.0L107.5,235.9M129.0,235.2L126.2,235.7M179.0,236.3L173.5,228.5M143.0,232.8L138.7,231.2M161.7,233.1L155.4,230.8M105.0,225.9L97.3,223.1M121.9,225.6L115.6,223.3M187.7,224.9L182.4,217.3M136.0,222.2L128.2,219.3M155.3,222.7L144.8,218.9M170.6,225.7L164.3,216.7M114.0,214.7L106.0,211.8M177.7,211.9L174.5,207.4M128.6,211.4L118.3,207.6M147.0,211.6L135.6,207.5M163.7,211.3L153.9,207.7M190.6,207.7L188.1,204.1M119.0,199.8L110.0,196.6M137.0,199.9L127.5,196.5M154.2,199.8L145.6,196.6M169.8,199.0L165.1,197.3M182.3,194.9L179.1,193.8M125.6,187.7L120.7,185.9M143.3,187.7L138.5,185.9M160.6,187.6L156.6,186.1M173.1,183.0L170.7,182.8M95.5,181.5L88.9,183.9M111.8,182.0L108.0,183.4M186.2,179.3L184.1,179.1M132.9,175.5L131.2,175.3M150.5,175.5L149.0,175.3M95.8,166.9L72.2,175.5M113.3,166.9L90.1,175.4M124.0,169.5L114.0,173.1M81.2,156.7L59.9,170.1M142.3,163.2L139.5,164.5M104.0,152.6L81.4,166.7M120.7,153.2L100.1,166.1M134.7,155.5L121.5,163.8M54.8,151.9L42.0,159.9M70.7,146.5L52.7,157.7M88.7,146.4L70.2,157.9M110.2,142.9L92.9,153.8M127.9,143.0L110.7,153.7M143.9,145.3L130.2,151.7M52.2,138.5L43.9,143.7M76.5,137.1L64.4,144.7M94.6,136.9L81.9,144.8M115.9,133.6L104.6,140.7M134.5,133.1L121.7,141.1M145.9,131.4L136.3,135.8M58.6,129.1L54.9,130.8M80.8,129.1L77.0,130.9M98.7,129.0L94.5,130.9M120.8,126.4L116.8,126.4M133.3,122.7L130.8,122.7M49.4,118.9L46.5,118.9M67.1,118.9L64.2,118.9M88.5,118.9L87.0,118.9M106.3,118.9L104.8,118.9M146.6,118.9L144.1,118.9M115.4,111.0L120.0,111.6M49.2,106.6L61.4,108.3M67.1,106.7L79.0,108.3M89.7,106.7L100.8,108.3M129.0,107.3L132.9,107.8M151.8,107.4L154.5,107.7" fill="none" stroke="#000" stroke-width="0.9" stroke-linecap="round"/><path d="M414.9,104.5L417.5,108.4L412.9,107.3ZM431.0,106.3L433.8,110.5L428.9,109.4ZM445.4,102.3L449.9,104.6L445.1,106.0ZM458.2,102.3L462.6,104.5L457.9,106.0ZM473.4,102.4L477.9,104.7L473.1,106.2ZM488.9,102.6L493.3,104.9L488.5,106.4ZM503.4,102.7L507.8,105.0L503.1,106.5ZM516.7,102.7L521.1,105.0L516.3,106.5ZM529.1,102.7L533.6,104.9L528.8,106.4ZM540.7,102.5L545.1,104.8L540.4,106.2ZM550.8,102.2L555.3,104.5L550.5,106.0ZM559.9,99.3L564.9,98.6L561.8,102.6ZM572.0,100.6L575.7,100.1L573.4,102.9ZM584.3,101.8L586.5,101.5L585.1,103.2ZM680.7,102.3L685.0,104.7L680.2,105.9ZM412.6,116.9L413.9,118.8L411.6,118.3ZM425.5,116.6L426.7,118.4L424.5,118.0ZM439.6,115.6L442.0,116.8L439.4,117.6ZM453.6,115.3L456.6,116.9L453.3,117.9ZM467.7,115.1L471.6,117.1L467.4,118.3ZM481.5,114.9L485.8,117.1L481.1,118.6ZM494.8,114.9L499.2,117.2L494.5,118.6ZM507.9,115.0L512.2,117.1L507.6,118.5ZM521.1,115.0L525.2,117.1L520.8,118.5ZM533.8,115.2L537.4,117.0L533.5,118.2ZM545.7,115.6L548.0,116.8L545.5,117.5ZM557.1,115.1L559.3,114.7L557.9,116.5ZM569.6,115.5L571.8,115.2L570.4,116.9ZM583.9,116.7L582.0,117.9L582.5,115.7ZM596.9,117.0L595.1,118.2L595.5,116.1ZM675.2,117.2L673.2,116.4L675.2,115.5ZM408.9,130.8L406.7,130.9L408.2,129.3ZM422.3,130.7L420.1,130.8L421.6,129.2ZM437.2,130.0L435.0,130.1L436.5,128.5ZM451.3,129.6L449.1,129.7L450.6,128.1ZM464.6,129.6L462.4,129.7L463.9,128.1ZM477.8,129.6L475.6,129.7L477.1,128.1ZM491.1,129.6L488.9,129.7L490.4,128.1ZM504.4,129.6L502.2,129.7L503.7,128.1ZM517.7,129.6L515.5,129.7L517.0,128.1ZM531.0,129.6L528.8,129.7L530.3,128.1ZM544.2,129.6L542.0,129.7L543.5,128.1ZM557.3,129.7L555.1,129.8L556.6,128.2ZM570.3,129.9L568.1,130.0L569.6,128.4ZM583.6,129.8L581.8,131.0L582.3,128.8ZM596.9,129.8L595.1,131.0L595.6,128.9ZM610.7,129.0L608.9,130.2L609.4,128.1ZM649.0,130.3L646.8,130.4L648.3,128.8ZM676.2,130.0L674.0,130.1L675.5,128.5ZM404.4,145.1L399.4,145.4L402.9,141.7ZM419.3,144.4L414.3,144.7L417.7,141.0ZM434.5,143.0L430.8,143.2L433.3,140.5ZM448.4,142.3L445.6,142.5L447.5,140.4ZM461.7,142.2L459.0,142.4L460.9,140.4ZM475.0,142.2L472.4,142.4L474.2,140.4ZM488.4,142.1L485.8,142.3L487.6,140.4ZM501.6,142.2L499.0,142.3L500.8,140.4ZM514.9,142.2L512.2,142.4L514.0,140.4ZM528.1,142.3L525.4,142.4L527.3,140.4ZM541.3,142.3L538.5,142.5L540.4,140.4ZM554.6,142.3L551.9,142.5L553.7,140.4ZM567.9,142.3L565.1,142.5L567.0,140.4ZM582.4,143.0L580.1,144.5L580.7,141.8ZM595.8,142.5L593.9,143.7L594.5,141.5ZM610.7,140.2L608.8,141.4L609.3,139.3ZM660.6,141.6L658.2,141.1L660.3,139.8ZM402.5,159.6L397.5,159.8L400.9,156.2ZM419.6,157.8L414.6,158.0L418.0,154.4ZM434.1,156.9L429.9,157.1L432.8,154.0ZM447.2,157.1L442.6,157.4L445.7,154.0ZM459.8,157.6L454.8,157.9L458.2,154.2ZM472.7,157.8L467.7,158.1L471.1,154.4ZM485.9,157.8L481.0,158.1L484.4,154.4ZM499.3,157.8L494.3,158.0L497.7,154.4ZM512.6,157.8L507.6,158.0L511.0,154.4ZM525.8,157.8L520.8,158.0L524.2,154.4ZM539.0,157.8L534.0,158.1L537.4,154.4ZM552.4,157.8L547.4,158.0L550.8,154.4ZM566.3,157.5L561.3,157.7L564.7,154.1ZM580.1,157.0L575.7,157.2L578.7,154.0ZM593.9,156.4L590.4,156.6L592.8,154.0ZM608.0,155.5L605.6,155.7L607.3,153.9ZM621.3,155.5L619.0,155.6L620.6,153.9ZM657.0,156.7L652.1,155.7L656.4,153.0ZM667.6,157.2L662.7,156.1L667.0,153.5ZM409.2,166.4L407.0,166.5L408.5,164.9ZM423.1,166.1L420.9,166.2L422.4,164.6ZM436.7,165.9L434.5,166.0L436.0,164.4ZM448.2,167.1L445.2,167.3L447.3,165.1ZM461.1,167.5L457.5,167.7L460.0,165.1ZM474.4,167.5L470.8,167.7L473.3,165.1ZM487.6,167.6L484.0,167.8L486.5,165.1ZM500.9,167.6L497.3,167.8L499.7,165.1ZM514.1,167.7L510.3,167.9L512.9,165.1ZM527.3,167.7L523.5,167.9L526.1,165.1ZM540.7,167.6L537.0,167.8L539.5,165.1ZM554.2,167.4L550.8,167.6L553.1,165.1ZM567.5,167.3L564.2,167.5L566.5,165.1ZM581.1,167.1L578.1,167.2L580.1,165.1ZM595.3,166.3L593.1,166.4L594.6,164.8ZM607.8,166.8L605.2,167.0L607.0,165.0ZM621.2,166.7L618.8,166.8L620.5,165.0ZM635.2,166.3L633.0,166.4L634.5,164.8ZM648.1,166.5L645.9,166.6L647.4,165.0ZM411.1,175.5L409.1,174.5L411.2,173.9ZM424.4,175.5L422.4,174.5L424.5,173.9ZM437.6,175.5L435.7,174.5L437.8,173.9ZM450.4,175.5L448.4,174.5L450.5,173.8ZM463.1,175.4L461.1,174.4L463.2,173.8ZM476.2,175.4L474.3,174.4L476.4,173.8ZM489.3,175.4L487.4,174.4L489.5,173.8ZM502.1,175.4L500.1,174.4L502.2,173.7ZM514.8,175.3L512.9,174.3L515.0,173.7ZM528.0,175.3L526.1,174.3L528.2,173.7ZM541.6,175.3L539.7,174.3L541.8,173.7ZM554.9,175.3L552.9,174.3L555.0,173.7ZM568.5,175.4L566.5,174.4L568.6,173.7ZM582.0,175.4L580.0,174.4L582.1,173.7ZM595.6,175.4L593.6,174.4L595.7,173.8ZM609.9,175.5L608.0,174.5L610.1,173.9ZM623.6,175.5L621.6,174.5L623.7,173.9ZM636.9,175.5L634.9,174.5L637.0,173.9ZM650.1,175.5L648.2,174.5L650.3,173.9ZM663.4,175.5L661.5,174.5L663.6,173.9ZM437.4,187.0L435.8,185.5L438.0,185.4ZM450.7,187.0L449.0,185.5L451.2,185.4ZM464.5,186.6L462.3,186.3L464.0,185.0ZM477.5,186.6L475.3,186.4L477.1,185.0ZM490.3,186.8L488.2,186.5L489.9,185.2ZM503.1,186.9L500.9,186.6L502.6,185.3ZM515.1,187.2L512.9,187.0L514.7,185.6ZM527.5,187.8L524.5,187.4L526.9,185.6ZM540.9,187.7L537.9,187.4L540.3,185.6ZM554.7,187.3L552.4,187.1L554.2,185.7ZM568.5,187.2L566.3,186.9L568.0,185.6ZM581.3,186.2L579.7,184.7L581.9,184.7ZM594.3,186.1L592.7,184.6L594.9,184.6ZM608.4,186.4L606.8,184.9L609.0,184.8ZM622.2,186.6L620.6,185.1L622.8,185.0ZM635.7,186.6L634.0,185.2L636.2,185.1ZM648.9,186.6L647.3,185.2L649.5,185.1ZM409.9,197.6L408.3,196.1L410.4,196.0ZM437.4,197.9L435.8,196.4L438.0,196.4ZM450.7,197.9L449.0,196.4L451.2,196.4ZM464.5,197.5L462.3,197.2L464.0,195.9ZM477.7,197.5L475.6,197.2L477.3,195.9ZM491.0,197.5L488.8,197.2L490.5,195.9ZM504.0,197.6L501.9,197.3L503.6,196.0ZM516.8,197.7L514.6,197.4L516.3,196.1ZM529.5,197.9L527.3,197.6L529.1,196.3ZM542.6,197.9L540.4,197.7L542.1,196.3ZM555.0,198.1L552.9,197.9L554.6,196.5ZM567.6,198.5L565.0,198.2L567.1,196.6ZM579.7,197.0L577.1,194.7L580.5,194.6ZM592.3,197.0L589.3,194.3L593.3,194.2ZM606.1,197.0L603.5,194.7L607.0,194.5ZM619.7,196.4L617.7,193.9L620.9,194.3ZM633.3,196.5L631.5,194.2L634.4,194.6ZM647.2,196.6L645.8,194.7L648.0,195.1ZM661.6,197.4L660.0,195.9L662.2,195.8ZM437.2,209.5L435.3,208.4L437.4,207.8ZM450.9,209.5L449.0,208.4L451.1,207.9ZM464.2,209.5L462.3,208.4L464.4,207.9ZM477.3,209.5L475.4,208.4L477.5,207.9ZM490.2,209.5L488.3,208.4L490.4,207.8ZM502.8,209.4L500.9,208.3L503.0,207.7ZM516.2,209.4L514.3,208.3L516.4,207.7ZM529.7,209.4L527.8,208.3L530.0,207.8ZM542.5,209.3L540.6,208.2L542.8,207.7ZM554.4,209.1L552.5,208.0L554.6,207.5ZM566.3,209.5L563.2,207.7L566.7,206.8ZM578.4,209.8L574.3,207.4L578.9,206.2ZM591.1,209.8L586.8,207.3L591.7,206.1ZM605.2,209.7L601.3,207.4L605.7,206.3ZM619.1,209.5L615.8,207.6L619.6,206.7ZM632.8,208.1L630.7,205.4L634.1,205.9ZM646.4,208.2L644.5,205.7L647.6,206.2ZM661.5,207.3L661.8,205.1L663.1,206.9ZM435.2,220.3L433.2,219.2L435.4,218.7ZM448.9,220.4L447.0,219.3L449.1,218.7ZM461.4,220.3L459.5,219.2L461.6,218.6ZM474.3,220.4L472.0,219.0L474.5,218.4ZM487.5,220.4L485.3,219.0L487.8,218.4ZM500.4,220.5L497.7,218.9L500.7,218.2ZM513.8,220.5L511.2,219.0L514.1,218.2ZM527.2,220.4L524.8,219.0L527.5,218.3ZM540.4,220.4L537.9,219.0L540.7,218.3ZM553.6,220.4L551.0,219.0L553.9,218.2ZM566.8,220.5L564.0,218.9L567.1,218.2ZM579.9,220.5L577.1,218.9L580.3,218.1ZM593.4,220.5L590.7,218.9L593.7,218.2ZM606.8,220.4L604.3,219.0L607.1,218.3ZM620.3,220.4L617.9,219.0L620.6,218.4ZM633.6,219.4L631.9,217.3L634.6,217.6ZM646.7,219.3L644.9,217.1L647.7,217.5ZM661.3,217.8L661.6,215.5L663.0,217.4ZM674.5,217.7L674.8,215.2L676.3,217.2ZM446.9,232.3L443.9,230.5L447.3,229.7ZM460.2,232.3L457.2,230.6L460.6,229.7ZM473.7,232.2L471.0,230.6L474.1,229.8ZM487.3,232.1L484.8,230.7L487.6,230.0ZM499.9,232.3L496.8,230.5L500.3,229.6ZM512.5,232.5L508.7,230.3L512.9,229.3ZM525.2,232.6L521.0,230.2L525.8,229.0ZM538.7,232.6L534.6,230.2L539.2,229.1ZM552.7,232.4L549.4,230.4L553.1,229.5ZM567.1,232.1L564.8,230.7L567.4,230.1ZM581.6,232.1L579.7,231.0L581.8,230.4ZM595.1,232.1L593.2,231.0L595.3,230.5ZM609.0,232.2L607.1,231.1L609.2,230.6ZM622.6,232.2L620.7,231.1L622.9,230.6ZM635.7,232.1L634.3,230.4L636.5,230.7ZM648.0,231.5L646.6,229.8L648.8,230.1ZM660.9,228.9L661.2,225.8L663.1,228.3ZM673.7,228.4L674.2,224.6L676.5,227.6ZM450.4,243.3L452.5,244.0L450.6,245.0ZM463.7,243.3L465.8,244.0L463.9,245.0ZM477.0,243.3L479.1,244.0L477.1,245.0ZM490.2,243.3L492.3,244.0L490.3,245.0ZM503.7,243.3L505.8,243.9L503.9,244.9ZM517.7,243.2L519.8,243.9L517.8,244.9ZM531.9,243.2L534.0,243.8L532.0,244.8ZM545.0,243.2L547.1,243.8L545.2,244.8ZM557.2,243.3L559.3,243.9L557.4,244.9ZM569.9,243.3L572.0,244.0L570.1,245.0ZM582.7,243.4L584.8,244.0L582.8,245.0ZM595.5,243.4L597.6,244.0L595.7,245.0ZM608.8,243.4L610.9,244.0L609.0,245.0ZM622.1,243.4L624.2,244.0L622.2,245.0ZM635.4,243.4L637.5,244.0L635.5,245.0ZM649.3,243.3L651.4,244.0L649.5,245.0ZM660.3,240.9L660.8,236.9L663.3,240.1ZM673.0,240.0L673.6,235.0L676.6,239.0ZM410.2,257.1L412.3,257.7L410.3,258.7ZM449.9,257.1L452.0,257.7L450.1,258.7ZM463.3,257.0L465.4,257.7L463.5,258.7ZM476.7,257.0L478.8,257.7L476.8,258.7ZM489.9,257.1L492.0,257.7L490.0,258.7ZM503.2,257.0L505.3,257.7L503.4,258.7ZM516.4,257.1L518.5,257.7L516.6,258.7ZM529.6,257.1L531.7,257.7L529.8,258.7ZM543.0,257.1L545.1,257.7L543.1,258.7ZM556.4,257.0L558.5,257.7L556.5,258.7ZM569.3,257.1L571.4,257.7L569.5,258.7ZM582.3,257.1L584.4,257.7L582.5,258.7ZM595.9,257.1L598.0,257.7L596.0,258.7ZM608.8,257.1L610.9,257.7L609.0,258.7ZM622.1,257.1L624.2,257.7L622.2,258.7ZM635.4,257.1L637.5,257.7L635.5,258.7ZM649.3,257.0L651.4,257.7L649.5,258.7ZM661.1,255.6L661.4,252.9L663.1,255.1ZM673.8,254.9L674.3,251.3L676.5,254.2ZM208.9,256.8L211.1,257.5L209.0,258.5ZM220.2,257.0L222.3,257.7L220.3,258.7ZM233.6,243.3L235.7,244.0L233.7,244.9ZM232.7,257.1L234.8,257.7L232.8,258.7ZM248.4,186.4L249.5,188.4L247.4,187.7ZM247.7,196.8L248.8,198.7L246.7,198.0ZM245.9,209.2L244.2,207.7L246.4,207.7ZM245.1,220.1L243.5,218.6L245.7,218.5ZM244.4,231.5L242.8,230.0L245.0,230.0ZM246.7,243.3L248.8,244.0L246.8,245.0ZM245.8,257.1L247.9,257.7L246.0,258.7ZM260.5,179.2L257.7,182.8L257.2,178.3ZM261.6,186.3L262.6,188.2L260.5,187.6ZM260.3,196.1L261.3,198.1L259.2,197.4ZM257.7,219.8L256.1,218.3L258.3,218.3ZM257.4,231.5L255.5,229.9L258.0,229.8ZM259.8,243.3L261.9,244.0L259.9,245.0ZM259.3,257.1L261.4,257.7L259.5,258.7ZM272.1,157.5L268.7,159.5L269.8,155.7ZM272.1,168.7L268.7,170.7L269.8,166.9ZM273.5,177.1L272.0,179.1L271.7,176.6ZM273.9,185.5L274.9,187.4L272.8,186.7ZM273.1,195.8L274.2,197.7L272.1,197.0ZM272.3,209.2L270.7,207.7L272.9,207.6ZM270.0,219.8L267.6,217.7L270.8,217.6ZM270.8,231.5L269.1,230.0L271.4,229.9ZM272.9,243.4L275.0,244.0L273.0,245.0ZM272.9,257.1L275.0,257.7L273.1,258.7ZM285.8,142.5L283.9,143.6L284.5,141.4ZM285.6,156.7L283.0,158.3L283.8,155.3ZM285.8,167.3L283.6,168.6L284.3,166.2ZM287.1,175.4L285.8,177.2L285.5,175.0ZM286.4,184.9L287.5,186.8L285.4,186.1ZM286.4,195.8L287.5,197.7L285.4,197.0ZM285.6,209.2L283.9,207.7L286.1,207.6ZM282.9,219.9L280.3,217.5L283.8,217.4ZM284.2,231.5L282.5,230.0L284.8,229.9ZM285.9,243.4L288.0,244.0L286.1,245.0ZM286.0,257.1L288.1,257.7L286.2,258.7ZM299.2,155.8L297.3,156.9L297.9,154.8ZM299.4,166.6L297.5,167.7L298.1,165.6ZM300.4,175.2L299.1,177.0L298.8,174.8ZM299.7,184.9L300.7,186.8L298.6,186.1ZM299.7,195.8L300.7,197.7L298.6,197.0ZM298.7,209.1L297.1,207.6L299.3,207.6ZM295.7,219.9L292.6,217.1L296.7,217.0ZM297.5,231.5L295.8,230.0L298.1,230.0ZM298.9,243.4L301.0,244.0L299.1,245.0ZM300.0,257.0L302.1,257.7L300.1,258.6ZM313.7,175.4L312.3,177.2L312.1,175.0ZM313.0,184.9L314.0,186.8L311.9,186.1ZM313.0,195.8L314.0,197.7L311.9,197.0ZM311.8,209.0L310.2,207.6L312.4,207.5ZM308.9,219.9L305.9,217.1L310.0,217.0ZM310.2,231.5L308.1,229.6L310.9,229.5ZM312.2,243.4L314.3,244.0L312.4,245.0ZM313.4,257.0L315.5,257.6L313.6,258.6ZM325.5,156.6L323.0,158.0L323.8,155.2ZM325.6,167.5L323.2,168.9L324.0,166.3ZM326.9,175.5L325.6,177.2L325.3,175.0ZM326.3,184.9L327.3,186.8L325.2,186.1ZM326.3,195.8L327.3,197.7L325.2,197.0ZM325.0,209.0L323.4,207.5L325.6,207.5ZM322.6,219.9L319.9,217.4L323.6,217.3ZM322.5,231.6L319.6,229.0L323.5,228.9ZM326.4,243.3L328.5,244.0L326.6,245.0ZM326.0,257.1L328.1,257.7L326.1,258.7ZM339.5,155.2L337.6,156.3L338.2,154.2ZM339.3,166.6L337.4,167.7L338.0,165.6ZM340.1,175.9L338.8,177.7L338.5,175.5ZM340.2,185.4L341.2,187.3L339.1,186.6ZM339.6,195.8L340.6,197.8L338.5,197.1ZM338.1,209.0L336.5,207.5L338.7,207.4ZM336.7,217.3L336.3,213.6L339.2,216.0ZM335.4,227.6L334.9,222.6L338.7,225.8ZM337.7,242.6L337.5,240.2L339.3,241.8ZM339.0,257.1L341.1,257.7L339.1,258.7ZM353.8,185.7L354.9,187.6L352.8,187.0ZM354.3,197.0L355.3,198.9L353.2,198.3ZM350.5,208.7L348.7,207.1L351.1,207.0ZM349.8,217.2L349.4,213.2L352.5,215.8ZM347.1,224.5L346.5,219.5L350.4,222.8ZM348.3,239.6L347.8,234.7L351.7,237.9ZM353.1,257.0L355.2,257.7L353.2,258.7ZM364.5,168.2L361.1,169.5L362.7,166.2ZM363.8,197.0L362.1,195.4L364.4,195.3ZM364.0,208.7L362.3,207.2L364.5,207.1ZM364.9,219.1L364.7,216.9L366.3,218.3ZM360.6,225.0L360.1,220.0L363.9,223.3ZM360.4,237.3L359.9,232.3L363.7,235.5ZM366.7,257.0L368.8,257.6L366.9,258.6ZM373.9,147.8L369.2,149.5L371.4,145.0ZM373.7,161.5L369.0,163.2L371.2,158.7ZM377.8,168.3L374.3,169.5L375.9,166.2ZM378.6,186.5L377.0,185.1L379.2,185.0ZM377.0,208.7L375.2,207.1L377.6,207.0ZM379.7,257.0L381.8,257.7L379.8,258.6ZM395.4,104.1L396.9,106.4L394.2,105.7ZM395.6,117.0L397.3,119.6L394.3,118.9ZM390.4,131.6L387.1,131.8L389.4,129.3ZM387.4,147.6L382.7,149.3L384.9,144.8ZM393.0,175.5L391.0,174.5L393.1,173.9ZM392.5,186.8L390.9,185.3L393.1,185.2ZM391.4,197.3L389.8,195.8L392.0,195.8ZM392.6,257.0L394.7,257.7L392.8,258.7ZM171.8,257.3L173.9,257.9L171.9,258.9ZM190.2,257.2L192.3,257.9L190.4,258.9ZM73.2,257.4L75.3,258.0L73.3,259.0ZM90.9,257.4L93.0,258.0L91.0,259.0ZM109.1,257.3L111.2,258.0L109.2,259.0ZM127.7,257.3L129.8,257.9L127.8,258.9ZM145.3,257.3L147.4,257.9L145.5,258.9ZM157.9,253.6L160.0,254.2L158.1,255.2ZM178.8,246.3L178.4,244.2L180.2,245.4ZM194.4,244.6L193.5,240.5L197.0,242.8ZM82.4,246.1L84.5,246.7L82.6,247.7ZM100.1,246.1L102.2,246.7L100.2,247.7ZM117.4,246.1L119.5,246.7L117.6,247.7ZM135.1,246.1L137.2,246.7L135.3,247.7ZM148.4,242.3L150.5,243.0L148.6,244.0ZM166.7,244.2L166.2,242.0L168.0,243.2ZM182.6,229.6L181.5,224.7L185.7,227.4ZM90.6,236.6L88.4,236.1L90.3,235.0ZM108.6,236.5L106.4,236.1L108.3,234.9ZM127.3,236.4L125.2,235.9L127.0,234.7ZM173.3,230.2L172.6,227.3L175.1,228.9ZM139.3,232.3L137.7,230.8L139.9,230.8ZM156.0,231.9L154.4,230.5L156.6,230.4ZM98.0,224.4L96.1,222.6L98.6,222.6ZM116.2,224.4L114.6,222.9L116.8,222.9ZM182.2,218.9L181.5,216.1L184.0,217.7ZM128.9,220.6L127.0,218.9L129.6,218.8ZM145.8,220.6L143.2,218.3L146.7,218.2ZM164.1,218.7L163.3,215.3L166.2,217.2ZM106.7,213.1L104.8,211.3L107.4,211.2ZM174.4,208.7L173.9,206.5L175.7,207.7ZM119.3,209.3L116.7,207.1L120.1,206.9ZM136.6,209.4L133.8,206.8L137.6,206.7ZM154.8,209.3L152.4,207.2L155.7,207.1ZM188.0,205.4L187.5,203.2L189.4,204.4ZM110.8,198.0L108.6,196.1L111.6,196.0ZM128.4,198.0L126.1,195.9L129.2,195.8ZM146.4,198.0L144.2,196.1L147.1,196.0ZM165.7,198.4L164.0,196.9L166.2,196.8ZM179.7,194.9L178.1,193.4L180.3,193.3ZM121.3,187.0L119.7,185.6L121.9,185.5ZM139.1,187.0L137.4,185.6L139.6,185.5ZM157.2,187.2L155.5,185.7L157.7,185.6ZM171.5,183.7L169.6,182.7L171.7,182.1ZM90.0,184.4L87.8,184.3L89.5,182.8ZM109.2,183.8L107.0,183.8L108.6,182.3ZM185.0,180.0L183.0,179.0L185.1,178.3ZM132.1,176.2L130.1,175.2L132.2,174.6ZM149.9,176.2L147.9,175.2L150.0,174.6ZM74.9,176.5L69.9,176.3L73.6,173.0ZM92.7,176.4L87.7,176.2L91.5,172.9ZM115.8,173.8L112.5,173.7L114.9,171.5ZM62.7,170.5L57.8,171.4L60.8,167.3ZM140.7,164.8L138.5,164.9L140.0,163.3ZM84.2,167.2L79.3,168.0L82.2,164.0ZM102.9,166.5L98.0,167.4L101.0,163.4ZM124.2,164.2L119.4,165.1L122.3,161.1ZM44.6,160.3L40.0,161.2L42.8,157.4ZM55.5,158.2L50.6,159.1L53.6,155.0ZM73.0,158.3L68.1,159.2L71.0,155.2ZM95.7,154.2L90.8,155.1L93.8,151.0ZM113.5,154.2L108.6,155.1L111.5,151.0ZM132.7,152.5L128.0,152.7L131.2,149.3ZM45.6,143.9L42.6,144.5L44.4,142.0ZM66.9,145.1L62.5,145.9L65.2,142.3ZM84.5,145.3L79.9,146.1L82.6,142.3ZM106.9,141.1L102.8,141.8L105.3,138.4ZM124.3,141.5L119.7,142.3L122.5,138.5ZM138.1,136.4L134.8,136.5L137.1,134.1ZM56.1,131.2L53.9,131.3L55.4,129.7ZM78.2,131.2L76.0,131.3L77.5,129.7ZM95.7,131.3L93.5,131.4L95.0,129.8ZM117.7,127.3L115.7,126.4L117.7,125.6ZM131.8,123.5L129.7,122.7L131.8,121.9ZM47.4,119.7L45.4,118.9L47.4,118.1ZM65.2,119.7L63.1,118.9L65.2,118.1ZM88.0,119.7L85.9,118.9L88.0,118.1ZM105.7,119.7L103.7,118.9L105.7,118.1ZM145.0,119.7L143.0,118.9L145.0,118.1ZM119.2,110.7L121.1,111.8L119.0,112.3ZM60.0,106.7L63.3,108.6L59.6,109.5ZM77.6,106.7L80.8,108.6L77.2,109.5ZM99.5,106.8L102.5,108.5L99.1,109.4ZM132.1,106.9L134.0,108.0L131.9,108.5ZM153.6,106.8L155.5,107.9L153.4,108.4Z" fill="#000" stroke="#000" stroke-width="0.5" stroke-linejoin="round"/></g><clipPath id="clipf"><rect x="47.4" y="101.5" width="637.5" height="158.89999999999998"/></clipPath></defs>
<g class="sf" transform="translate(343.21,41.70) scale(1.7863,1.7800)" fill="none" stroke="#6a6a6a" stroke-width="1.1" stroke-linecap="round" stroke-linejoin="round"><path transform="translate(0.00,0)" d="M1,0L1,-10L3.8,-10C6.4,-10 7.6,-8 7.6,-5C7.6,-2 6.4,0 3.8,0Z"/><path transform="translate(9.80,0)" d="M5,-10L5,-3C5,-1 4,0 2.7,0C1.4,0 0.5,-0.8 0.3,-2.5"/><path transform="translate(17.60,0)" d="M1,0L1,-10L6.8,-10M1,-5.3L5.8,-5.3"/></g>
<text x="366" y="71.3" font-size="15.6" font-weight="bold" fill="#000" text-anchor="middle" textLength="175.2" lengthAdjust="spacingAndGlyphs">ceres_monthly (yrs 2-5)</text>
<g class="sf" transform="translate(46.30,96.10) scale(1.0074,1.0200)" fill="none" stroke="#262626" stroke-width="1.0" stroke-linecap="round" stroke-linejoin="round"><path transform="translate(0.00,0)" d="M7,-8.5C6.5,-9.6 5.3,-10 4,-10C2,-10 0.8,-9 0.8,-7.5C0.8,-4.5 7.3,-5.5 7.3,-2.5C7.3,-0.9 6,0 4,0C2.2,0 0.9,-0.7 0.5,-2"/><path transform="translate(10.05,0)" d="M0.8,-7.3L0.8,-2C0.8,-0.5 1.8,0 3,0C4.5,0 5.8,-1 5.8,-3M5.8,-7.3L5.8,0"/><path transform="translate(18.70,0)" d="M0.8,-7.3L0.8,0M0.8,-4C1.2,-6.3 2.4,-7.3 4,-7.3"/><path transform="translate(24.95,0)" d="M4,-10C2.5,-10 1.8,-9.4 1.8,-8L1.8,0M0.2,-7.3L3.8,-7.3"/><path transform="translate(30.80,0)" d="M0.8,-6.3C1.2,-7 2.1,-7.3 3.2,-7.3C4.8,-7.3 5.6,-6.6 5.6,-5.2L5.6,-1C5.6,-0.4 5.9,0 6.3,0M5.6,-4.2C2,-3.9 0.5,-3.3 0.5,-1.8C0.5,-0.6 1.4,0 2.7,0C4,0 5.2,-0.7 5.6,-1.8"/><path transform="translate(39.45,0)" d="M5.8,-5.5C5.4,-6.8 4.4,-7.3 3.3,-7.3C1.5,-7.3 0.5,-5.8 0.5,-3.6C0.5,-1.4 1.5,0 3.3,0C4.5,0 5.5,-0.7 5.8,-2.2"/><path transform="translate(47.70,0)" d="M0.6,-3.8L6,-3.8C6,-5.9 5,-7.3 3.3,-7.3C1.5,-7.3 0.5,-5.8 0.5,-3.6C0.5,-1.4 1.5,0 3.3,0C4.6,0 5.6,-0.7 5.9,-2"/><path transform="translate(61.70,0)" d="M5.2,-5.8C5,-6.8 4.1,-7.3 3,-7.3C1.7,-7.3 0.7,-6.7 0.7,-5.5C0.7,-3.4 5.6,-4.2 5.6,-1.8C5.6,-0.6 4.6,0 3.1,0C1.7,0 0.7,-0.6 0.5,-1.8"/><path transform="translate(69.75,0)" d="M1.8,-9.5L1.8,-1.2C1.8,-0.3 2.3,0 3.5,0M0.2,-7.3L3.6,-7.3"/><path transform="translate(75.60,0)" d="M0.8,-7.3L0.8,0M0.8,-4C1.2,-6.3 2.4,-7.3 4,-7.3"/><path transform="translate(81.85,0)" d="M0.6,-3.8L6,-3.8C6,-5.9 5,-7.3 3.3,-7.3C1.5,-7.3 0.5,-5.8 0.5,-3.6C0.5,-1.4 1.5,0 3.3,0C4.6,0 5.6,-0.7 5.9,-2"/><path transform="translate(90.40,0)" d="M5.2,-5.8C5,-6.8 4.1,-7.3 3,-7.3C1.7,-7.3 0.7,-6.7 0.7,-5.5C0.7,-3.4 5.6,-4.2 5.6,-1.8C5.6,-0.6 4.6,0 3.1,0C1.7,0 0.7,-0.6 0.5,-1.8"/><path transform="translate(98.45,0)" d="M5.2,-5.8C5,-6.8 4.1,-7.3 3,-7.3C1.7,-7.3 0.7,-6.7 0.7,-5.5C0.7,-3.4 5.6,-4.2 5.6,-1.8C5.6,-0.6 4.6,0 3.1,0C1.7,0 0.7,-0.6 0.5,-1.8"/><path transform="translate(111.95,0)" d="M0.8,-7.3L0.8,0M0.8,-5C1.2,-6.7 2.1,-7.3 3.2,-7.3C4.4,-7.3 5,-6.6 5,-5L5,0M5,-5C5.4,-6.7 6.3,-7.3 7.4,-7.3C8.6,-7.3 9.2,-6.6 9.2,-5L9.2,0"/><path transform="translate(124.00,0)" d="M0.8,-6.3C1.2,-7 2.1,-7.3 3.2,-7.3C4.8,-7.3 5.6,-6.6 5.6,-5.2L5.6,-1C5.6,-0.4 5.9,0 6.3,0M5.6,-4.2C2,-3.9 0.5,-3.3 0.5,-1.8C0.5,-0.6 1.4,0 2.7,0C4,0 5.2,-0.7 5.6,-1.8"/><path transform="translate(132.65,0)" d="M5.8,-7.3L5.8,0.5C5.8,2.3 4.8,3 3.2,3C2,3 1.1,2.5 0.9,1.6M5.8,-3.8C5.8,-5.9 4.8,-7.3 3.2,-7.3C1.5,-7.3 0.5,-5.8 0.5,-3.7C0.5,-1.6 1.5,-0.2 3.2,-0.2C4.8,-0.2 5.8,-1.6 5.8,-3.8"/><path transform="translate(141.30,0)" d="M0.8,-7.3L0.8,0M0.8,-5C1.3,-6.7 2.4,-7.3 3.6,-7.3C5,-7.3 5.8,-6.5 5.8,-5L5.8,0"/><path transform="translate(149.95,0)" d="M0.9,-7.3L0.9,0M0.9,-10L0.9,-8.9"/><path transform="translate(154.20,0)" d="M1.8,-9.5L1.8,-1.2C1.8,-0.3 2.3,0 3.5,0M0.2,-7.3L3.6,-7.3"/><path transform="translate(160.05,0)" d="M0.8,-7.3L0.8,-2C0.8,-0.5 1.8,0 3,0C4.5,0 5.8,-1 5.8,-3M5.8,-7.3L5.8,0"/><path transform="translate(168.70,0)" d="M5.8,-10L5.8,0M5.8,-3.6C5.8,-5.9 4.8,-7.3 3.2,-7.3C1.5,-7.3 0.5,-5.8 0.5,-3.6C0.5,-1.4 1.5,0 3.2,0C4.8,0 5.8,-1.4 5.8,-3.6"/><path transform="translate(177.35,0)" d="M0.6,-3.8L6,-3.8C6,-5.9 5,-7.3 3.3,-7.3C1.5,-7.3 0.5,-5.8 0.5,-3.6C0.5,-1.4 1.5,0 3.3,0C4.6,0 5.6,-0.7 5.9,-2"/></g>
<g class="sf" transform="translate(313.60,98.60) scale(1.1193,0.9700)" fill="none" stroke="#262626" stroke-width="1.0" stroke-linecap="round" stroke-linejoin="round"><path transform="translate(0.00,0)" d="M0.8,-7.3L0.8,0M0.8,-5C1.2,-6.7 2.1,-7.3 3.2,-7.3C4.4,-7.3 5,-6.6 5,-5L5,0M5,-5C5.4,-6.7 6.3,-7.3 7.4,-7.3C8.6,-7.3 9.2,-6.6 9.2,-5L9.2,0"/><path transform="translate(12.05,0)" d="M0.6,-3.8L6,-3.8C6,-5.9 5,-7.3 3.3,-7.3C1.5,-7.3 0.5,-5.8 0.5,-3.6C0.5,-1.4 1.5,0 3.3,0C4.6,0 5.6,-0.7 5.9,-2"/><path transform="translate(20.60,0)" d="M0.8,-6.3C1.2,-7 2.1,-7.3 3.2,-7.3C4.8,-7.3 5.6,-6.6 5.6,-5.2L5.6,-1C5.6,-0.4 5.9,0 6.3,0M5.6,-4.2C2,-3.9 0.5,-3.3 0.5,-1.8C0.5,-0.6 1.4,0 2.7,0C4,0 5.2,-0.7 5.6,-1.8"/><path transform="translate(29.25,0)" d="M0.8,-7.3L0.8,0M0.8,-5C1.3,-6.7 2.4,-7.3 3.6,-7.3C5,-7.3 5.8,-6.5 5.8,-5L5.8,0"/><path transform="translate(37.90,0)" d="M0.8,-5.3L6.5,-5.3M0.8,-2.7L6.5,-2.7"/></g>
<g class="sf" transform="translate(386.37,98.60) scale(1.0683,0.9700)" fill="none" stroke="#262626" stroke-width="1.0" stroke-linecap="round" stroke-linejoin="round"><path transform="translate(0.00,0)" d="M3.5,-10C1.4,-10 0.5,-7.6 0.5,-5C0.5,-2.4 1.4,0 3.5,0C5.6,0 6.5,-2.4 6.5,-5C6.5,-7.6 5.6,-10 3.5,-10Z"/><path transform="translate(9.05,0)" d="M1.1,-0.7L1.1,0"/><path transform="translate(13.50,0)" d="M3.5,-10C1.4,-10 0.5,-7.6 0.5,-5C0.5,-2.4 1.4,0 3.5,0C5.6,0 6.5,-2.4 6.5,-5C6.5,-7.6 5.6,-10 3.5,-10Z"/><path transform="translate(22.55,0)" d="M6.2,-8C5.8,-9.4 4.8,-10 3.6,-10C1.5,-10 0.5,-7.8 0.5,-4.5C0.5,-1.5 1.6,0 3.6,0C5.4,0 6.5,-1.3 6.5,-3.2C6.5,-5.1 5.3,-6.3 3.6,-6.3C2,-6.3 0.8,-5.2 0.6,-3.5"/></g>
<g class="sf" transform="translate(646.87,95.70) scale(1.2602,0.9900)" fill="none" stroke="#262626" stroke-width="1.0" stroke-linecap="round" stroke-linejoin="round"><path transform="translate(0.00,0)" d="M0.9,0L0.9,-10L7.1,0L7.1,-10"/><path transform="translate(10.05,0)" d="M0,1L4.2,-10.5"/><path transform="translate(16.30,0)" d="M0.8,-7.3L0.8,0M0.8,-5C1.2,-6.7 2.1,-7.3 3.2,-7.3C4.4,-7.3 5,-6.6 5,-5L5,0M5,-5C5.4,-6.7 6.3,-7.3 7.4,-7.3C8.6,-7.3 9.2,-6.6 9.2,-5L9.2,0"/></g>
<g class="sf" transform="translate(680.55,89.90) scale(0.6949,0.6600)" fill="none" stroke="#262626" stroke-width="1.0" stroke-linecap="round" stroke-linejoin="round"><path transform="translate(0.00,0)" d="M0.7,-7.5C0.8,-9.2 2,-10 3.5,-10C5.2,-10 6.3,-9 6.3,-7.4C6.3,-5.3 4.2,-4.2 2.5,-2.8C1.3,-1.8 0.6,-1 0.5,0L6.4,0"/></g>
<g transform="translate(0,0)" clip-path="url(#clipf)"><use href="#oceanfill"/><path d="M47.4,157.9 L53.6,159.4 L62.2,161.2 L66.5,165.1 L72.2,169.4 L78.7,172.3 L83.0,178.7 L86.5,181.6 L93.7,185.9 L102.3,186.6 L108.0,190.2 L110.2,194.5 L108.0,201.6 L103.0,207.4 L102.3,214.6 L98.0,221.7 L92.3,226.0 L86.5,231.8 L85.1,238.9 L81.5,246.1 L75.1,251.8 L70.1,253.3 L69.4,259.0 L70.1,260.4 M154.5,101.5 L155.9,108.9 L153.2,115.7 L150.5,119.8 L147.0,122.6 L145.2,129.4 L141.8,137.6 L141.8,143.0 L141.1,152.6 L143.2,158.0 L148.6,163.5 L152.7,168.9 L157.5,173.0 L162.3,172.4 L169.1,169.6 L175.9,168.9 L180.0,168.9 L182.1,171.7 L186.8,173.0 L188.2,175.8 L187.5,183.5 L190.9,188.9 L193.7,193.0 L195.0,198.5 L195.7,203.9 L193.7,208.0 L192.3,214.8 L195.0,221.7 L197.8,227.1 L198.4,233.9 L201.8,242.1 L203.9,248.9 L205.9,252.4 L212.8,251.7 L218.2,250.3 L223.7,246.2 L227.8,240.8 L229.8,234.0 L231.5,232.0 L233.8,229.8 L234.1,225.7 L232.7,221.7 L234.1,218.9 L238.2,214.8 L243.0,210.7 L243.6,203.9 L242.3,197.1 L240.2,191.6 L245.0,185.5 L251.6,177.0 L256.0,171.5 L258.5,168.5 L260.7,163.5 L262.1,158.7 L257.3,160.1 L250.5,160.8 L247.7,158.0 L248.4,156.0 L257.3,152.6 L265.5,149.8 L270.9,146.4 L275.0,141.7 L277.1,137.6 L273.7,133.5 L270.9,129.4 L275.0,130.1 L281.8,130.5 L288.7,130.1 L292.8,133.5 L295.5,137.6 L298.2,138.2 L300.3,137.6 L300.3,143.0 L302.3,149.8 L305.0,156.7 L307.8,163.5 L309.8,165.5 L311.9,162.1 L313.2,156.7 L313.2,151.2 L317.3,148.5 L322.8,143.0 L326.9,138.9 L330.0,137.6 L333.9,136.2 L335.2,140.3 L338.6,145.7 L339.3,149.8 L342.7,148.5 L345.5,152.6 L346.1,158.0 L345.5,163.5 L348.2,167.6 L352.3,170.3 L354.5,175.0 L355.5,178.4 L357.0,175.5 L356.2,170.0 L353.5,164.0 L351.5,159.0 L349.3,154.2 L352.5,156.5 L355.0,160.0 L356.9,163.9 L360.2,161.5 L364.0,158.5 L365.0,155.0 L363.2,148.5 L360.3,143.0 L360.0,140.3 L363.0,138.8 L366.1,139.3 L370.0,137.5 L373.5,136.2 L377.5,134.8 L379.9,132.4 L382.4,129.1 L384.8,125.0 L386.5,121.7 L384.8,120.1 L387.3,117.6 L387.3,115.2 L385.6,112.7 L384.0,110.3 L382.4,108.6 L383.2,104.5 L381.5,101.5 M392.2,101.5 L394.6,102.9 L394.6,110.3 L397.1,110.3 L399.5,107.8 L400.4,104.5 L399.5,101.5 M421.6,101.5 L420.8,106.2 L419.2,108.6 L415.9,109.5 L413.5,111.1 L411.0,112.3 L407.7,113.1 L405.3,114.4 L404.5,116.8 L402.8,118.0 L401.2,116.0 L401.2,113.5 L402.8,111.9 L406.1,108.2 L411.0,107.4 L413.5,105.4 L415.1,102.9 L417.6,101.5 M258.6,204.6 L260.7,210.7 L258.6,218.9 L256.6,225.7 L254.6,231.2 L251.1,232.6 L248.4,228.5 L248.4,224.4 L250.5,218.9 L249.8,214.2 L252.5,211.4 L256.6,208.0Z M313.5,161.4 L315.6,163.5 L316.0,166.5 L314.5,168.9 L312.6,167.5 L311.9,164.5Z M340.7,169.1 L345.5,173.9 L349.6,178.6 L353.6,184.1 L357.7,189.6 L360.5,193.7 L362.5,195.7 L363.2,190.9 L360.5,185.5 L357.7,181.4 L354.3,176.6 L349.6,172.5 L344.1,168.4Z M364.6,177.3 L367.3,174.6 L372.7,170.5 L376.8,169.1 L380.9,166.7 L382.3,171.8 L379.6,177.3 L378.9,182.7 L375.5,186.8 L371.4,187.5 L367.3,186.2 L365.9,182.7Z M359.0,192.6 L366.0,193.6 L372.0,194.8 L378.0,196.2 L378.5,198.2 L372.0,197.6 L365.0,196.2 L359.0,194.4Z M380.0,197.0 L386.0,197.5 L386.0,198.6 L380.0,198.2Z M393.5,199.5 L399.5,197.5 L400.5,198.5 L394.5,201.0Z M386.0,177.5 L392.5,177.0 L392.0,178.5 L387.5,179.5 L386.8,182.0 L390.5,182.8 L389.5,184.5 L387.5,184.5 L388.0,188.0 L390.0,191.5 L387.8,192.0 L385.5,189.0 L384.0,186.0 L384.3,182.5 L385.2,179.5Z M396.0,172.5 L398.0,174.0 L397.0,178.0 L395.5,176.0Z M384.5,144.2 L388.2,143.8 L388.8,148.5 L390.8,151.5 L392.0,155.3 L389.5,156.0 L387.0,153.0 L385.0,150.0 L384.0,147.0Z M386.5,157.3 L392.0,157.8 L393.8,160.0 L395.8,162.0 L396.0,167.0 L394.0,170.0 L390.0,169.5 L387.5,166.0 L389.0,163.0 L386.8,160.2Z M381.3,157.2 L382.2,156.8 L386.5,162.8 L385.8,163.5Z M386.6,130.6 L387.6,132.2 L386.6,136.8 L384.6,135.0 L384.6,132.0Z M364.0,141.2 L367.2,141.0 L367.5,143.5 L365.5,145.0 L363.4,143.5Z M401.8,180.5 L408.6,183.2 L415.5,184.6 L422.3,187.3 L427.7,190.0 L431.8,192.7 L435.9,199.6 L430.5,198.2 L426.4,196.8 L422.3,198.2 L418.2,195.5 L415.5,192.7 L411.4,189.3 L407.3,187.3 L403.2,184.6 L400.5,182.5Z M420.2,260.4 L418.5,256.2 L414.8,248.9 L411.1,251.3 L407.4,247.6 L402.5,245.2 L396.4,245.8 L390.3,248.9 L384.1,251.3 L379.2,252.5 L376.7,251.3 L375.5,246.4 L374.3,240.3 L371.8,234.1 L373.1,229.2 L371.8,224.3 L376.7,220.6 L381.7,219.4 L386.6,215.7 L390.3,212.0 L393.9,209.6 L397.6,207.1 L401.3,203.4 L405.0,202.8 L408.7,204.6 L411.1,209.6 L413.6,213.9 L417.3,214.5 L419.7,210.8 L421.0,204.6 L422.2,201.0 L423.6,202.3 L425.0,205.5 L427.7,209.1 L430.5,215.9 L434.6,220.0 L438.7,225.5 L442.1,230.9 L443.4,236.4 L442.7,241.9 L441.4,248.7 L438.7,255.5 L436.5,260.4 M481.5,260.4 L480.5,257.5 L478.0,255.0 L477.7,253.3 L480.0,254.5 L483.0,257.0 L486.3,258.5 L485.5,260.4 M463.0,221.3 L464.5,222.0 L467.9,226.2 L466.5,226.2Z M591.4,101.5 L593.6,105.2 L597.9,109.5 L601.5,113.8 L603.6,118.1 L607.9,122.4 L613.7,126.7 L618.0,131.0 L622.2,135.2 L623.7,139.5 L625.0,144.0 L633.6,148.3 L640.5,150.0 L644.8,152.6 L649.9,155.1 L653.4,156.0 L656.8,160.3 L661.1,163.7 L665.4,166.3 L669.7,164.8 L671.4,167.2 L671.9,173.0 L671.2,174.3 L668.0,179.7 L665.8,186.2 L665.3,190.5 L668.0,195.9 L671.2,201.4 L674.5,207.8 L676.6,211.1 L680.9,213.2 L683.6,215.4 L684.2,220.8 L683.1,229.5 L682.6,237.0 L683.1,245.7 L679.9,254.3 L678.2,260.4 M684.9,157.5 L683.5,157.7 L679.2,158.6 L674.9,160.3 L671.6,164.3 L668.9,162.9 L666.3,163.7 L662.8,162.9 L661.1,159.4 L661.1,154.3 L659.4,150.8 L655.1,150.8 L651.7,150.0 L653.4,144.0 L654.7,138.8 L650.8,138.8 L649.1,140.5 L647.4,144.0 L642.2,145.2 L637.9,143.1 L635.3,137.1 L635.3,130.2 L636.2,124.2 L640.5,120.7 L644.8,120.7 L648.2,121.2 L650.8,119.0 L656.0,119.4 L660.3,120.7 L662.0,123.3 L662.8,128.5 L664.6,131.5 L666.3,130.2 L667.1,127.6 L665.4,123.3 L664.6,118.2 L665.4,115.6 L668.0,113.0 L670.0,109.5 L672.4,106.6 L674.5,102.3 L674.5,101.5 M605.4,115.6 L607.9,115.9 L610.1,120.9 L613.7,127.5 L612.5,128.8 L608.5,122.5Z M658.5,137.9 L662.0,135.8 L666.3,136.2 L671.4,138.8 L676.6,141.4 L680.0,142.2 L676.6,142.7 L671.4,140.5 L666.3,138.8 L661.1,138.4Z M684.9,145.5 L680.0,145.7 L678.3,143.0 L684.9,142.7 M669.9,145.2 L673.8,145.0 L673.6,146.4 L670.0,146.4Z M533.0,141.6 L534.4,142.2 L533.6,143.2 L532.6,142.5Z M195.4,155.3 L197.4,154.8 L197.8,156.3 L196.0,156.5Z M194.0,102.8 L199.5,101.8 L199.8,103.2 L195.0,103.8Z M212.6,107.8 L217.5,107.3 L217.5,108.6 L212.8,109.0Z M228.6,108.4 L232.3,107.8 L231.8,109.4 L229.2,109.7Z" fill="none" stroke="#000" stroke-width="1.5" stroke-linejoin="round"/><path d="M670.0,128.0 L671.5,131.0 L672.8,134.3 M675.0,132.2 L678.0,135.0 L681.5,138.5 M154.5,102.1 L158.6,104.6 L162.3,107.2 L169.6,106.0 L178.2,104.1 L186.0,103.2 L189.3,103.5 L190.5,110.3 L196.7,114.0 L204.0,117.6 L206.5,120.1 L211.4,115.2 L218.8,116.4 L228.6,117.6 L233.5,116.4 L234.7,110.0 L234.7,105.4 M155.0,101.5 L157.5,103.5 L160.0,104.5 L163.0,103.5 L166.0,102.5 L169.0,101.5 M209.0,101.5 L210.0,103.5 L212.0,105.5 L213.5,103.5 L213.0,101.5 M216.3,101.5 L218.8,102.9 L223.7,105.4 L228.6,104.8 L234.7,104.8 M141.2,124.3 L142.0,124.6 M143.3,124.8 L144.2,124.5 M229.5,118.5 L230.7,122.6 L235.5,133.5 L240.9,144.4 L246.4,152.6 L247.7,158.0 M232.7,121.9 L238.2,133.5 L243.6,143.0 L247.7,151.2 L248.4,156.0 M230.0,106.2 L235.5,104.8 L234.1,113.0 L231.4,117.8 M270.9,129.4 L270.9,127.3 L268.2,126.6 L265.5,132.1 L262.7,132.1 L260.7,128.7 L258.6,123.2 L256.6,120.5 L259.3,119.8 L262.7,124.6 L266.8,127.3 L270.9,128.0 M257.7,101.5 L258.5,103.8 L262.0,104.8 L266.5,104.2 L267.6,101.5 M223.7,191.6 L225.5,195.0 L227.8,198.5 M231.4,200.5 L232.5,204.0 L233.4,209.4 M230.5,184.0 L232.8,183.2 L233.3,185.3 L231.0,186.0 M48.3,143.9 L49.2,144.2 M53.2,145.0 L54.2,145.1 M62.5,150.4 L62.8,151.4 M400.8,124.2 L401.3,123.6 M397.9,128.3 L398.7,127.3 M525.6,137.9 L526.4,138.2 M527.8,138.7 L528.8,139.1 M530.0,139.8 L531.0,140.4 M444.6,193.1 L449.0,195.5 L452.0,197.5 M455.5,199.5 L459.3,201.7 M466.2,210.8 L466.9,212.4 M485.0,215.8 L487.5,214.3 L489.6,214.9 M503.0,207.6 L504.5,208.2 M543.8,215.8 L544.5,216.3 M266.5,223.0 L267.5,223.5 M269.4,223.0 L270.5,222.5" fill="none" stroke="#000" stroke-width="1.5" stroke-linejoin="round" stroke-linecap="round"/></g>
<path d="M685.5,101.5V260.5" stroke="#a8a8a8" stroke-width="1" fill="none"/>
<path d="M685,101.5H47.5V260.5H685" stroke="#5a5a5a" stroke-width="1" fill="none"/>
<g class="sf" transform="translate(276.83,280.90) scale(0.8661,0.8600)" fill="none" stroke="#262626" stroke-width="1.0" stroke-linecap="round" stroke-linejoin="round"><path transform="translate(0.00,0)" d="M1,0L1,-10L5,-1L9,-10L9,0"/><path transform="translate(11.85,0)" d="M1.2,0L1.2,-10"/><path transform="translate(16.30,0)" d="M0.9,0L0.9,-10L7.1,0L7.1,-10"/></g>
<g class="sf" transform="translate(305.12,280.90) scale(1.3509,0.8600)" fill="none" stroke="#262626" stroke-width="1.0" stroke-linecap="round" stroke-linejoin="round"><path transform="translate(0.00,0)" d="M0.8,-5.3L6.5,-5.3M0.8,-2.7L6.5,-2.7"/></g>
<g class="sf" transform="translate(333.73,280.90) scale(0.9457,0.8600)" fill="none" stroke="#262626" stroke-width="1.0" stroke-linecap="round" stroke-linejoin="round"><path transform="translate(0.00,0)" d="M3.5,-10C1.4,-10 0.5,-7.6 0.5,-5C0.5,-2.4 1.4,0 3.5,0C5.6,0 6.5,-2.4 6.5,-5C6.5,-7.6 5.6,-10 3.5,-10Z"/><path transform="translate(9.05,0)" d="M1.1,-0.7L1.1,0"/><path transform="translate(13.50,0)" d="M3.5,-10C1.4,-10 0.5,-7.6 0.5,-5C0.5,-2.4 1.4,0 3.5,0C5.6,0 6.5,-2.4 6.5,-5C6.5,-7.6 5.6,-10 3.5,-10Z"/><path transform="translate(22.55,0)" d="M3.5,-10C1.4,-10 0.5,-7.6 0.5,-5C0.5,-2.4 1.4,0 3.5,0C5.6,0 6.5,-2.4 6.5,-5C6.5,-7.6 5.6,-10 3.5,-10Z"/></g>
<g class="sf" transform="translate(367.36,280.90) scale(0.8375,0.8600)" fill="none" stroke="#262626" stroke-width="1.0" stroke-linecap="round" stroke-linejoin="round"><path transform="translate(0.00,0)" d="M1,0L1,-10L5,-1L9,-10L9,0"/><path transform="translate(11.85,0)" d="M0.2,0L4,-10L7.8,0M1.6,-3.4L6.4,-3.4"/><path transform="translate(21.70,0)" d="M0.5,0L7,-10M0.5,-10L7,0"/></g>
<g class="sf" transform="translate(398.65,280.90) scale(1.1930,0.8600)" fill="none" stroke="#262626" stroke-width="1.0" stroke-linecap="round" stroke-linejoin="round"><path transform="translate(0.00,0)" d="M0.8,-5.3L6.5,-5.3M0.8,-2.7L6.5,-2.7"/></g>
<g class="sf" transform="translate(427.84,280.90) scale(0.9247,0.8600)" fill="none" stroke="#262626" stroke-width="1.0" stroke-linecap="round" stroke-linejoin="round"><path transform="translate(0.00,0)" d="M3.5,-10C1.4,-10 0.5,-7.6 0.5,-5C0.5,-2.4 1.4,0 3.5,0C5.6,0 6.5,-2.4 6.5,-5C6.5,-7.6 5.6,-10 3.5,-10Z"/><path transform="translate(9.05,0)" d="M1.1,-0.7L1.1,0"/><path transform="translate(13.50,0)" d="M0.7,-7.5C0.8,-9.2 2,-10 3.5,-10C5.2,-10 6.3,-9 6.3,-7.4C6.3,-5.3 4.2,-4.2 2.5,-2.8C1.3,-1.8 0.6,-1 0.5,0L6.4,0"/><path transform="translate(22.55,0)" d="M0.8,-2C1.2,-0.6 2.2,0 3.4,0C5.5,0 6.5,-2.2 6.5,-5.5C6.5,-8.5 5.4,-10 3.4,-10C1.6,-10 0.5,-8.7 0.5,-6.8C0.5,-4.9 1.7,-3.7 3.4,-3.7C5,-3.7 6.2,-4.8 6.4,-6.5"/></g>
<rect x="129.50" y="286.3" width="29.93" height="14.199999999999989" fill="#00008c"/>
<rect x="159.12" y="286.3" width="29.93" height="14.199999999999989" fill="#0020b4"/>
<rect x="188.75" y="286.3" width="29.93" height="14.199999999999989" fill="#0030dc"/>
<rect x="218.38" y="286.3" width="29.93" height="14.199999999999989" fill="#1f50ff"/>
<rect x="248.00" y="286.3" width="29.93" height="14.199999999999989" fill="#4377ff"/>
<rect x="277.62" y="286.3" width="29.93" height="14.199999999999989" fill="#80a6ff"/>
<rect x="307.25" y="286.3" width="29.93" height="14.199999999999989" fill="#b3caff"/>
<rect x="336.88" y="286.3" width="29.93" height="14.199999999999989" fill="#d8e9ff"/>
<rect x="366.50" y="286.3" width="29.93" height="14.199999999999989" fill="#ffebdc"/>
<rect x="396.12" y="286.3" width="29.93" height="14.199999999999989" fill="#ffc8af"/>
<rect x="425.75" y="286.3" width="29.93" height="14.199999999999989" fill="#ffa37a"/>
<rect x="455.38" y="286.3" width="29.93" height="14.199999999999989" fill="#ff7440"/>
<rect x="485.00" y="286.3" width="29.93" height="14.199999999999989" fill="#ff4c1a"/>
<rect x="514.62" y="286.3" width="29.93" height="14.199999999999989" fill="#e12d0a"/>
<rect x="544.25" y="286.3" width="29.93" height="14.199999999999989" fill="#b41e05"/>
<rect x="573.88" y="286.3" width="29.93" height="14.199999999999989" fill="#870000"/>
<line x1="159.12" y1="286.3" x2="159.12" y2="300.5" stroke="#222" stroke-width="0.8"/>
<line x1="188.75" y1="286.3" x2="188.75" y2="300.5" stroke="#222" stroke-width="0.8"/>
<line x1="218.38" y1="286.3" x2="218.38" y2="300.5" stroke="#222" stroke-width="0.8"/>
<line x1="248.00" y1="286.3" x2="248.00" y2="300.5" stroke="#222" stroke-width="0.8"/>
<line x1="277.62" y1="286.3" x2="277.62" y2="300.5" stroke="#222" stroke-width="0.8"/>
<line x1="307.25" y1="286.3" x2="307.25" y2="300.5" stroke="#222" stroke-width="0.8"/>
<line x1="336.88" y1="286.3" x2="336.88" y2="300.5" stroke="#222" stroke-width="0.8"/>
<line x1="366.50" y1="286.3" x2="366.50" y2="300.5" stroke="#222" stroke-width="0.8"/>
<line x1="396.12" y1="286.3" x2="396.12" y2="300.5" stroke="#222" stroke-width="0.8"/>
<line x1="425.75" y1="286.3" x2="425.75" y2="300.5" stroke="#222" stroke-width="0.8"/>
<line x1="455.38" y1="286.3" x2="455.38" y2="300.5" stroke="#222" stroke-width="0.8"/>
<line x1="485.00" y1="286.3" x2="485.00" y2="300.5" stroke="#222" stroke-width="0.8"/>
<line x1="514.62" y1="286.3" x2="514.62" y2="300.5" stroke="#222" stroke-width="0.8"/>
<line x1="544.25" y1="286.3" x2="544.25" y2="300.5" stroke="#222" stroke-width="0.8"/>
<line x1="573.88" y1="286.3" x2="573.88" y2="300.5" stroke="#222" stroke-width="0.8"/>
<rect x="129.5" y="286.3" width="474.0" height="14.199999999999989" fill="none" stroke="#222" stroke-width="0.9"/>
<g class="sf" transform="translate(148.22,312.70) scale(0.7395,0.8500)" fill="none" stroke="#383838" stroke-width="0.9" stroke-linecap="round" stroke-linejoin="round"><path transform="translate(0.00,0)" d="M3.5,-10C1.4,-10 0.5,-7.6 0.5,-5C0.5,-2.4 1.4,0 3.5,0C5.6,0 6.5,-2.4 6.5,-5C6.5,-7.6 5.6,-10 3.5,-10Z"/><path transform="translate(9.80,0)" d="M1.1,-0.7L1.1,0"/><path transform="translate(15.00,0)" d="M3.5,-10C1.4,-10 0.5,-7.6 0.5,-5C0.5,-2.4 1.4,0 3.5,0C5.6,0 6.5,-2.4 6.5,-5C6.5,-7.6 5.6,-10 3.5,-10Z"/><path transform="translate(24.80,0)" d="M1.5,-7.8C2.8,-8.2 3.8,-9 4.2,-10L4.2,0"/></g>
<g class="sf" transform="translate(177.03,312.70) scale(0.7395,0.8500)" fill="none" stroke="#383838" stroke-width="0.9" stroke-linecap="round" stroke-linejoin="round"><path transform="translate(0.00,0)" d="M3.5,-10C1.4,-10 0.5,-7.6 0.5,-5C0.5,-2.4 1.4,0 3.5,0C5.6,0 6.5,-2.4 6.5,-5C6.5,-7.6 5.6,-10 3.5,-10Z"/><path transform="translate(9.80,0)" d="M1.1,-0.7L1.1,0"/><path transform="translate(15.00,0)" d="M3.5,-10C1.4,-10 0.5,-7.6 0.5,-5C0.5,-2.4 1.4,0 3.5,0C5.6,0 6.5,-2.4 6.5,-5C6.5,-7.6 5.6,-10 3.5,-10Z"/><path transform="translate(24.80,0)" d="M0.7,-7.5C0.8,-9.2 2,-10 3.5,-10C5.2,-10 6.3,-9 6.3,-7.4C6.3,-5.3 4.2,-4.2 2.5,-2.8C1.3,-1.8 0.6,-1 0.5,0L6.4,0"/></g>
<g class="sf" transform="translate(206.62,312.70) scale(0.7395,0.8500)" fill="none" stroke="#383838" stroke-width="0.9" stroke-linecap="round" stroke-linejoin="round"><path transform="translate(0.00,0)" d="M3.5,-10C1.4,-10 0.5,-7.6 0.5,-5C0.5,-2.4 1.4,0 3.5,0C5.6,0 6.5,-2.4 6.5,-5C6.5,-7.6 5.6,-10 3.5,-10Z"/><path transform="translate(9.80,0)" d="M1.1,-0.7L1.1,0"/><path transform="translate(15.00,0)" d="M3.5,-10C1.4,-10 0.5,-7.6 0.5,-5C0.5,-2.4 1.4,0 3.5,0C5.6,0 6.5,-2.4 6.5,-5C6.5,-7.6 5.6,-10 3.5,-10Z"/><path transform="translate(24.80,0)" d="M0.8,-8C1.2,-9.4 2.2,-10 3.5,-10C5,-10 6,-9.1 6,-7.6C6,-6.2 5,-5.4 3.2,-5.4M3.2,-5.4C5.3,-5.4 6.5,-4.4 6.5,-2.7C6.5,-1 5.2,0 3.5,0C2,0 0.9,-0.7 0.5,-2.2"/></g>
<g class="sf" transform="translate(236.09,312.70) scale(0.7395,0.8500)" fill="none" stroke="#383838" stroke-width="0.9" stroke-linecap="round" stroke-linejoin="round"><path transform="translate(0.00,0)" d="M3.5,-10C1.4,-10 0.5,-7.6 0.5,-5C0.5,-2.4 1.4,0 3.5,0C5.6,0 6.5,-2.4 6.5,-5C6.5,-7.6 5.6,-10 3.5,-10Z"/><path transform="translate(9.80,0)" d="M1.1,-0.7L1.1,0"/><path transform="translate(15.00,0)" d="M3.5,-10C1.4,-10 0.5,-7.6 0.5,-5C0.5,-2.4 1.4,0 3.5,0C5.6,0 6.5,-2.4 6.5,-5C6.5,-7.6 5.6,-10 3.5,-10Z"/><path transform="translate(24.80,0)" d="M5,0L5,-10L0.3,-3L6.9,-3"/></g>
<g class="sf" transform="translate(265.87,312.70) scale(0.7395,0.8500)" fill="none" stroke="#383838" stroke-width="0.9" stroke-linecap="round" stroke-linejoin="round"><path transform="translate(0.00,0)" d="M3.5,-10C1.4,-10 0.5,-7.6 0.5,-5C0.5,-2.4 1.4,0 3.5,0C5.6,0 6.5,-2.4 6.5,-5C6.5,-7.6 5.6,-10 3.5,-10Z"/><path transform="translate(9.80,0)" d="M1.1,-0.7L1.1,0"/><path transform="translate(15.00,0)" d="M3.5,-10C1.4,-10 0.5,-7.6 0.5,-5C0.5,-2.4 1.4,0 3.5,0C5.6,0 6.5,-2.4 6.5,-5C6.5,-7.6 5.6,-10 3.5,-10Z"/><path transform="translate(24.80,0)" d="M6.2,-8C5.8,-9.4 4.8,-10 3.6,-10C1.5,-10 0.5,-7.8 0.5,-4.5C0.5,-1.5 1.6,0 3.6,0C5.4,0 6.5,-1.3 6.5,-3.2C6.5,-5.1 5.3,-6.3 3.6,-6.3C2,-6.3 0.8,-5.2 0.6,-3.5"/></g>
<g class="sf" transform="translate(295.49,312.70) scale(0.7395,0.8500)" fill="none" stroke="#383838" stroke-width="0.9" stroke-linecap="round" stroke-linejoin="round"><path transform="translate(0.00,0)" d="M3.5,-10C1.4,-10 0.5,-7.6 0.5,-5C0.5,-2.4 1.4,0 3.5,0C5.6,0 6.5,-2.4 6.5,-5C6.5,-7.6 5.6,-10 3.5,-10Z"/><path transform="translate(9.80,0)" d="M1.1,-0.7L1.1,0"/><path transform="translate(15.00,0)" d="M3.5,-10C1.4,-10 0.5,-7.6 0.5,-5C0.5,-2.4 1.4,0 3.5,0C5.6,0 6.5,-2.4 6.5,-5C6.5,-7.6 5.6,-10 3.5,-10Z"/><path transform="translate(24.80,0)" d="M3.5,-5.5C1.8,-5.5 0.9,-6.3 0.9,-7.7C0.9,-9.1 2,-10 3.5,-10C5,-10 6.1,-9.1 6.1,-7.7C6.1,-6.3 5.2,-5.5 3.5,-5.5C1.6,-5.5 0.5,-4.5 0.5,-2.8C0.5,-1 1.8,0 3.5,0C5.2,0 6.5,-1 6.5,-2.8C6.5,-4.5 5.4,-5.5 3.5,-5.5Z"/></g>
<g class="sf" transform="translate(329.59,312.70) scale(0.7395,0.8500)" fill="none" stroke="#383838" stroke-width="0.9" stroke-linecap="round" stroke-linejoin="round"><path transform="translate(0.00,0)" d="M3.5,-10C1.4,-10 0.5,-7.6 0.5,-5C0.5,-2.4 1.4,0 3.5,0C5.6,0 6.5,-2.4 6.5,-5C6.5,-7.6 5.6,-10 3.5,-10Z"/><path transform="translate(9.80,0)" d="M1.1,-0.7L1.1,0"/><path transform="translate(15.00,0)" d="M1.5,-7.8C2.8,-8.2 3.8,-9 4.2,-10L4.2,0"/></g>
<g class="sf" transform="translate(354.78,312.70) scale(0.7395,0.8500)" fill="none" stroke="#383838" stroke-width="0.9" stroke-linecap="round" stroke-linejoin="round"><path transform="translate(0.00,0)" d="M3.5,-10C1.4,-10 0.5,-7.6 0.5,-5C0.5,-2.4 1.4,0 3.5,0C5.6,0 6.5,-2.4 6.5,-5C6.5,-7.6 5.6,-10 3.5,-10Z"/><path transform="translate(9.80,0)" d="M1.1,-0.7L1.1,0"/><path transform="translate(15.00,0)" d="M1.5,-7.8C2.8,-8.2 3.8,-9 4.2,-10L4.2,0"/><path transform="translate(24.80,0)" d="M0.7,-7.5C0.8,-9.2 2,-10 3.5,-10C5.2,-10 6.3,-9 6.3,-7.4C6.3,-5.3 4.2,-4.2 2.5,-2.8C1.3,-1.8 0.6,-1 0.5,0L6.4,0"/></g>
<g class="sf" transform="translate(384.22,312.70) scale(0.7395,0.8500)" fill="none" stroke="#383838" stroke-width="0.9" stroke-linecap="round" stroke-linejoin="round"><path transform="translate(0.00,0)" d="M3.5,-10C1.4,-10 0.5,-7.6 0.5,-5C0.5,-2.4 1.4,0 3.5,0C5.6,0 6.5,-2.4 6.5,-5C6.5,-7.6 5.6,-10 3.5,-10Z"/><path transform="translate(9.80,0)" d="M1.1,-0.7L1.1,0"/><path transform="translate(15.00,0)" d="M1.5,-7.8C2.8,-8.2 3.8,-9 4.2,-10L4.2,0"/><path transform="translate(24.80,0)" d="M5,0L5,-10L0.3,-3L6.9,-3"/></g>
<g class="sf" transform="translate(413.99,312.70) scale(0.7395,0.8500)" fill="none" stroke="#383838" stroke-width="0.9" stroke-linecap="round" stroke-linejoin="round"><path transform="translate(0.00,0)" d="M3.5,-10C1.4,-10 0.5,-7.6 0.5,-5C0.5,-2.4 1.4,0 3.5,0C5.6,0 6.5,-2.4 6.5,-5C6.5,-7.6 5.6,-10 3.5,-10Z"/><path transform="translate(9.80,0)" d="M1.1,-0.7L1.1,0"/><path transform="translate(15.00,0)" d="M1.5,-7.8C2.8,-8.2 3.8,-9 4.2,-10L4.2,0"/><path transform="translate(24.80,0)" d="M6.2,-8C5.8,-9.4 4.8,-10 3.6,-10C1.5,-10 0.5,-7.8 0.5,-4.5C0.5,-1.5 1.6,0 3.6,0C5.4,0 6.5,-1.3 6.5,-3.2C6.5,-5.1 5.3,-6.3 3.6,-6.3C2,-6.3 0.8,-5.2 0.6,-3.5"/></g>
<g class="sf" transform="translate(443.62,312.70) scale(0.7395,0.8500)" fill="none" stroke="#383838" stroke-width="0.9" stroke-linecap="round" stroke-linejoin="round"><path transform="translate(0.00,0)" d="M3.5,-10C1.4,-10 0.5,-7.6 0.5,-5C0.5,-2.4 1.4,0 3.5,0C5.6,0 6.5,-2.4 6.5,-5C6.5,-7.6 5.6,-10 3.5,-10Z"/><path transform="translate(9.80,0)" d="M1.1,-0.7L1.1,0"/><path transform="translate(15.00,0)" d="M1.5,-7.8C2.8,-8.2 3.8,-9 4.2,-10L4.2,0"/><path transform="translate(24.80,0)" d="M3.5,-5.5C1.8,-5.5 0.9,-6.3 0.9,-7.7C0.9,-9.1 2,-10 3.5,-10C5,-10 6.1,-9.1 6.1,-7.7C6.1,-6.3 5.2,-5.5 3.5,-5.5C1.6,-5.5 0.5,-4.5 0.5,-2.8C0.5,-1 1.8,0 3.5,0C5.2,0 6.5,-1 6.5,-2.8C6.5,-4.5 5.4,-5.5 3.5,-5.5Z"/></g>
<g class="sf" transform="translate(476.90,312.70) scale(0.7395,0.8500)" fill="none" stroke="#383838" stroke-width="0.9" stroke-linecap="round" stroke-linejoin="round"><path transform="translate(0.00,0)" d="M3.5,-10C1.4,-10 0.5,-7.6 0.5,-5C0.5,-2.4 1.4,0 3.5,0C5.6,0 6.5,-2.4 6.5,-5C6.5,-7.6 5.6,-10 3.5,-10Z"/><path transform="translate(9.80,0)" d="M1.1,-0.7L1.1,0"/><path transform="translate(15.00,0)" d="M0.7,-7.5C0.8,-9.2 2,-10 3.5,-10C5.2,-10 6.3,-9 6.3,-7.4C6.3,-5.3 4.2,-4.2 2.5,-2.8C1.3,-1.8 0.6,-1 0.5,0L6.4,0"/></g>
<g class="sf" transform="translate(502.72,312.70) scale(0.7395,0.8500)" fill="none" stroke="#383838" stroke-width="0.9" stroke-linecap="round" stroke-linejoin="round"><path transform="translate(0.00,0)" d="M3.5,-10C1.4,-10 0.5,-7.6 0.5,-5C0.5,-2.4 1.4,0 3.5,0C5.6,0 6.5,-2.4 6.5,-5C6.5,-7.6 5.6,-10 3.5,-10Z"/><path transform="translate(9.80,0)" d="M1.1,-0.7L1.1,0"/><path transform="translate(15.00,0)" d="M0.7,-7.5C0.8,-9.2 2,-10 3.5,-10C5.2,-10 6.3,-9 6.3,-7.4C6.3,-5.3 4.2,-4.2 2.5,-2.8C1.3,-1.8 0.6,-1 0.5,0L6.4,0"/><path transform="translate(24.80,0)" d="M5,0L5,-10L0.3,-3L6.9,-3"/></g>
<g class="sf" transform="translate(532.49,312.70) scale(0.7395,0.8500)" fill="none" stroke="#383838" stroke-width="0.9" stroke-linecap="round" stroke-linejoin="round"><path transform="translate(0.00,0)" d="M3.5,-10C1.4,-10 0.5,-7.6 0.5,-5C0.5,-2.4 1.4,0 3.5,0C5.6,0 6.5,-2.4 6.5,-5C6.5,-7.6 5.6,-10 3.5,-10Z"/><path transform="translate(9.80,0)" d="M1.1,-0.7L1.1,0"/><path transform="translate(15.00,0)" d="M0.7,-7.5C0.8,-9.2 2,-10 3.5,-10C5.2,-10 6.3,-9 6.3,-7.4C6.3,-5.3 4.2,-4.2 2.5,-2.8C1.3,-1.8 0.6,-1 0.5,0L6.4,0"/><path transform="translate(24.80,0)" d="M3.5,-5.5C1.8,-5.5 0.9,-6.3 0.9,-7.7C0.9,-9.1 2,-10 3.5,-10C5,-10 6.1,-9.1 6.1,-7.7C6.1,-6.3 5.2,-5.5 3.5,-5.5C1.6,-5.5 0.5,-4.5 0.5,-2.8C0.5,-1 1.8,0 3.5,0C5.2,0 6.5,-1 6.5,-2.8C6.5,-4.5 5.4,-5.5 3.5,-5.5Z"/></g>
<g class="sf" transform="translate(562.15,312.70) scale(0.7395,0.8500)" fill="none" stroke="#383838" stroke-width="0.9" stroke-linecap="round" stroke-linejoin="round"><path transform="translate(0.00,0)" d="M3.5,-10C1.4,-10 0.5,-7.6 0.5,-5C0.5,-2.4 1.4,0 3.5,0C5.6,0 6.5,-2.4 6.5,-5C6.5,-7.6 5.6,-10 3.5,-10Z"/><path transform="translate(9.80,0)" d="M1.1,-0.7L1.1,0"/><path transform="translate(15.00,0)" d="M0.8,-8C1.2,-9.4 2.2,-10 3.5,-10C5,-10 6,-9.1 6,-7.6C6,-6.2 5,-5.4 3.2,-5.4M3.2,-5.4C5.3,-5.4 6.5,-4.4 6.5,-2.7C6.5,-1 5.2,0 3.5,0C2,0 0.9,-0.7 0.5,-2.2"/><path transform="translate(24.80,0)" d="M0.7,-7.5C0.8,-9.2 2,-10 3.5,-10C5.2,-10 6.3,-9 6.3,-7.4C6.3,-5.3 4.2,-4.2 2.5,-2.8C1.3,-1.8 0.6,-1 0.5,0L6.4,0"/></g>
<text x="366" y="337.3" font-size="15.6" font-weight="bold" fill="#000" text-anchor="middle">ceres_annual (yrs 2-5)</text>
<g class="sf" transform="translate(46.30,362.10) scale(1.0074,1.0200)" fill="none" stroke="#262626" stroke-width="1.0" stroke-linecap="round" stroke-linejoin="round"><path transform="translate(0.00,0)" d="M7,-8.5C6.5,-9.6 5.3,-10 4,-10C2,-10 0.8,-9 0.8,-7.5C0.8,-4.5 7.3,-5.5 7.3,-2.5C7.3,-0.9 6,0 4,0C2.2,0 0.9,-0.7 0.5,-2"/><path transform="translate(10.05,0)" d="M0.8,-7.3L0.8,-2C0.8,-0.5 1.8,0 3,0C4.5,0 5.8,-1 5.8,-3M5.8,-7.3L5.8,0"/><path transform="translate(18.70,0)" d="M0.8,-7.3L0.8,0M0.8,-4C1.2,-6.3 2.4,-7.3 4,-7.3"/><path transform="translate(24.95,0)" d="M4,-10C2.5,-10 1.8,-9.4 1.8,-8L1.8,0M0.2,-7.3L3.8,-7.3"/><path transform="translate(30.80,0)" d="M0.8,-6.3C1.2,-7 2.1,-7.3 3.2,-7.3C4.8,-7.3 5.6,-6.6 5.6,-5.2L5.6,-1C5.6,-0.4 5.9,0 6.3,0M5.6,-4.2C2,-3.9 0.5,-3.3 0.5,-1.8C0.5,-0.6 1.4,0 2.7,0C4,0 5.2,-0.7 5.6,-1.8"/><path transform="translate(39.45,0)" d="M5.8,-5.5C5.4,-6.8 4.4,-7.3 3.3,-7.3C1.5,-7.3 0.5,-5.8 0.5,-3.6C0.5,-1.4 1.5,0 3.3,0C4.5,0 5.5,-0.7 5.8,-2.2"/><path transform="translate(47.70,0)" d="M0.6,-3.8L6,-3.8C6,-5.9 5,-7.3 3.3,-7.3C1.5,-7.3 0.5,-5.8 0.5,-3.6C0.5,-1.4 1.5,0 3.3,0C4.6,0 5.6,-0.7 5.9,-2"/><path transform="translate(61.70,0)" d="M5.2,-5.8C5,-6.8 4.1,-7.3 3,-7.3C1.7,-7.3 0.7,-6.7 0.7,-5.5C0.7,-3.4 5.6,-4.2 5.6,-1.8C5.6,-0.6 4.6,0 3.1,0C1.7,0 0.7,-0.6 0.5,-1.8"/><path transform="translate(69.75,0)" d="M1.8,-9.5L1.8,-1.2C1.8,-0.3 2.3,0 3.5,0M0.2,-7.3L3.6,-7.3"/><path transform="translate(75.60,0)" d="M0.8,-7.3L0.8,0M0.8,-4C1.2,-6.3 2.4,-7.3 4,-7.3"/><path transform="translate(81.85,0)" d="M0.6,-3.8L6,-3.8C6,-5.9 5,-7.3 3.3,-7.3C1.5,-7.3 0.5,-5.8 0.5,-3.6C0.5,-1.4 1.5,0 3.3,0C4.6,0 5.6,-0.7 5.9,-2"/><path transform="translate(90.40,0)" d="M5.2,-5.8C5,-6.8 4.1,-7.3 3,-7.3C1.7,-7.3 0.7,-6.7 0.7,-5.5C0.7,-3.4 5.6,-4.2 5.6,-1.8C5.6,-0.6 4.6,0 3.1,0C1.7,0 0.7,-0.6 0.5,-1.8"/><path transform="translate(98.45,0)" d="M5.2,-5.8C5,-6.8 4.1,-7.3 3,-7.3C1.7,-7.3 0.7,-6.7 0.7,-5.5C0.7,-3.4 5.6,-4.2 5.6,-1.8C5.6,-0.6 4.6,0 3.1,0C1.7,0 0.7,-0.6 0.5,-1.8"/><path transform="translate(111.95,0)" d="M0.8,-7.3L0.8,0M0.8,-5C1.2,-6.7 2.1,-7.3 3.2,-7.3C4.4,-7.3 5,-6.6 5,-5L5,0M5,-5C5.4,-6.7 6.3,-7.3 7.4,-7.3C8.6,-7.3 9.2,-6.6 9.2,-5L9.2,0"/><path transform="translate(124.00,0)" d="M0.8,-6.3C1.2,-7 2.1,-7.3 3.2,-7.3C4.8,-7.3 5.6,-6.6 5.6,-5.2L5.6,-1C5.6,-0.4 5.9,0 6.3,0M5.6,-4.2C2,-3.9 0.5,-3.3 0.5,-1.8C0.5,-0.6 1.4,0 2.7,0C4,0 5.2,-0.7 5.6,-1.8"/><path transform="translate(132.65,0)" d="M5.8,-7.3L5.8,0.5C5.8,2.3 4.8,3 3.2,3C2,3 1.1,2.5 0.9,1.6M5.8,-3.8C5.8,-5.9 4.8,-7.3 3.2,-7.3C1.5,-7.3 0.5,-5.8 0.5,-3.7C0.5,-1.6 1.5,-0.2 3.2,-0.2C4.8,-0.2 5.8,-1.6 5.8,-3.8"/><path transform="translate(141.30,0)" d="M0.8,-7.3L0.8,0M0.8,-5C1.3,-6.7 2.4,-7.3 3.6,-7.3C5,-7.3 5.8,-6.5 5.8,-5L5.8,0"/><path transform="translate(149.95,0)" d="M0.9,-7.3L0.9,0M0.9,-10L0.9,-8.9"/><path transform="translate(154.20,0)" d="M1.8,-9.5L1.8,-1.2C1.8,-0.3 2.3,0 3.5,0M0.2,-7.3L3.6,-7.3"/><path transform="translate(160.05,0)" d="M0.8,-7.3L0.8,-2C0.8,-0.5 1.8,0 3,0C4.5,0 5.8,-1 5.8,-3M5.8,-7.3L5.8,0"/><path transform="translate(168.70,0)" d="M5.8,-10L5.8,0M5.8,-3.6C5.8,-5.9 4.8,-7.3 3.2,-7.3C1.5,-7.3 0.5,-5.8 0.5,-3.6C0.5,-1.4 1.5,0 3.2,0C4.8,0 5.8,-1.4 5.8,-3.6"/><path transform="translate(177.35,0)" d="M0.6,-3.8L6,-3.8C6,-5.9 5,-7.3 3.3,-7.3C1.5,-7.3 0.5,-5.8 0.5,-3.6C0.5,-1.4 1.5,0 3.3,0C4.6,0 5.6,-0.7 5.9,-2"/></g>
<g class="sf" transform="translate(313.60,364.60) scale(1.1193,0.9700)" fill="none" stroke="#262626" stroke-width="1.0" stroke-linecap="round" stroke-linejoin="round"><path transform="translate(0.00,0)" d="M0.8,-7.3L0.8,0M0.8,-5C1.2,-6.7 2.1,-7.3 3.2,-7.3C4.4,-7.3 5,-6.6 5,-5L5,0M5,-5C5.4,-6.7 6.3,-7.3 7.4,-7.3C8.6,-7.3 9.2,-6.6 9.2,-5L9.2,0"/><path transform="translate(12.05,0)" d="M0.6,-3.8L6,-3.8C6,-5.9 5,-7.3 3.3,-7.3C1.5,-7.3 0.5,-5.8 0.5,-3.6C0.5,-1.4 1.5,0 3.3,0C4.6,0 5.6,-0.7 5.9,-2"/><path transform="translate(20.60,0)" d="M0.8,-6.3C1.2,-7 2.1,-7.3 3.2,-7.3C4.8,-7.3 5.6,-6.6 5.6,-5.2L5.6,-1C5.6,-0.4 5.9,0 6.3,0M5.6,-4.2C2,-3.9 0.5,-3.3 0.5,-1.8C0.5,-0.6 1.4,0 2.7,0C4,0 5.2,-0.7 5.6,-1.8"/><path transform="translate(29.25,0)" d="M0.8,-7.3L0.8,0M0.8,-5C1.3,-6.7 2.4,-7.3 3.6,-7.3C5,-7.3 5.8,-6.5 5.8,-5L5.8,0"/><path transform="translate(37.90,0)" d="M0.8,-5.3L6.5,-5.3M0.8,-2.7L6.5,-2.7"/></g>
<g class="sf" transform="translate(386.37,364.60) scale(1.0683,0.9700)" fill="none" stroke="#262626" stroke-width="1.0" stroke-linecap="round" stroke-linejoin="round"><path transform="translate(0.00,0)" d="M3.5,-10C1.4,-10 0.5,-7.6 0.5,-5C0.5,-2.4 1.4,0 3.5,0C5.6,0 6.5,-2.4 6.5,-5C6.5,-7.6 5.6,-10 3.5,-10Z"/><path transform="translate(9.05,0)" d="M1.1,-0.7L1.1,0"/><path transform="translate(13.50,0)" d="M3.5,-10C1.4,-10 0.5,-7.6 0.5,-5C0.5,-2.4 1.4,0 3.5,0C5.6,0 6.5,-2.4 6.5,-5C6.5,-7.6 5.6,-10 3.5,-10Z"/><path transform="translate(22.55,0)" d="M6.2,-8C5.8,-9.4 4.8,-10 3.6,-10C1.5,-10 0.5,-7.8 0.5,-4.5C0.5,-1.5 1.6,0 3.6,0C5.4,0 6.5,-1.3 6.5,-3.2C6.5,-5.1 5.3,-6.3 3.6,-6.3C2,-6.3 0.8,-5.2 0.6,-3.5"/></g>
<g class="sf" transform="translate(646.87,361.70) scale(1.2602,0.9900)" fill="none" stroke="#262626" stroke-width="1.0" stroke-linecap="round" stroke-linejoin="round"><path transform="translate(0.00,0)" d="M0.9,0L0.9,-10L7.1,0L7.1,-10"/><path transform="translate(10.05,0)" d="M0,1L4.2,-10.5"/><path transform="translate(16.30,0)" d="M0.8,-7.3L0.8,0M0.8,-5C1.2,-6.7 2.1,-7.3 3.2,-7.3C4.4,-7.3 5,-6.6 5,-5L5,0M5,-5C5.4,-6.7 6.3,-7.3 7.4,-7.3C8.6,-7.3 9.2,-6.6 9.2,-5L9.2,0"/></g>
<g class="sf" transform="translate(680.55,355.90) scale(0.6949,0.6600)" fill="none" stroke="#262626" stroke-width="1.0" stroke-linecap="round" stroke-linejoin="round"><path transform="translate(0.00,0)" d="M0.7,-7.5C0.8,-9.2 2,-10 3.5,-10C5.2,-10 6.3,-9 6.3,-7.4C6.3,-5.3 4.2,-4.2 2.5,-2.8C1.3,-1.8 0.6,-1 0.5,0L6.4,0"/></g>
<g transform="translate(0,266)" clip-path="url(#clipf)"><use href="#oceanfill"/><path d="M47.4,157.9 L53.6,159.4 L62.2,161.2 L66.5,165.1 L72.2,169.4 L78.7,172.3 L83.0,178.7 L86.5,181.6 L93.7,185.9 L102.3,186.6 L108.0,190.2 L110.2,194.5 L108.0,201.6 L103.0,207.4 L102.3,214.6 L98.0,221.7 L92.3,226.0 L86.5,231.8 L85.1,238.9 L81.5,246.1 L75.1,251.8 L70.1,253.3 L69.4,259.0 L70.1,260.4 M154.5,101.5 L155.9,108.9 L153.2,115.7 L150.5,119.8 L147.0,122.6 L145.2,129.4 L141.8,137.6 L141.8,143.0 L141.1,152.6 L143.2,158.0 L148.6,163.5 L152.7,168.9 L157.5,173.0 L162.3,172.4 L169.1,169.6 L175.9,168.9 L180.0,168.9 L182.1,171.7 L186.8,173.0 L188.2,175.8 L187.5,183.5 L190.9,188.9 L193.7,193.0 L195.0,198.5 L195.7,203.9 L193.7,208.0 L192.3,214.8 L195.0,221.7 L197.8,227.1 L198.4,233.9 L201.8,242.1 L203.9,248.9 L205.9,252.4 L212.8,251.7 L218.2,250.3 L223.7,246.2 L227.8,240.8 L229.8,234.0 L231.5,232.0 L233.8,229.8 L234.1,225.7 L232.7,221.7 L234.1,218.9 L238.2,214.8 L243.0,210.7 L243.6,203.9 L242.3,197.1 L240.2,191.6 L245.0,185.5 L251.6,177.0 L256.0,171.5 L258.5,168.5 L260.7,163.5 L262.1,158.7 L257.3,160.1 L250.5,160.8 L247.7,158.0 L248.4,156.0 L257.3,152.6 L265.5,149.8 L270.9,146.4 L275.0,141.7 L277.1,137.6 L273.7,133.5 L270.9,129.4 L275.0,130.1 L281.8,130.5 L288.7,130.1 L292.8,133.5 L295.5,137.6 L298.2,138.2 L300.3,137.6 L300.3,143.0 L302.3,149.8 L305.0,156.7 L307.8,163.5 L309.8,165.5 L311.9,162.1 L313.2,156.7 L313.2,151.2 L317.3,148.5 L322.8,143.0 L326.9,138.9 L330.0,137.6 L333.9,136.2 L335.2,140.3 L338.6,145.7 L339.3,149.8 L342.7,148.5 L345.5,152.6 L346.1,158.0 L345.5,163.5 L348.2,167.6 L352.3,170.3 L354.5,175.0 L355.5,178.4 L357.0,175.5 L356.2,170.0 L353.5,164.0 L351.5,159.0 L349.3,154.2 L352.5,156.5 L355.0,160.0 L356.9,163.9 L360.2,161.5 L364.0,158.5 L365.0,155.0 L363.2,148.5 L360.3,143.0 L360.0,140.3 L363.0,138.8 L366.1,139.3 L370.0,137.5 L373.5,136.2 L377.5,134.8 L379.9,132.4 L382.4,129.1 L384.8,125.0 L386.5,121.7 L384.8,120.1 L387.3,117.6 L387.3,115.2 L385.6,112.7 L384.0,110.3 L382.4,108.6 L383.2,104.5 L381.5,101.5 M392.2,101.5 L394.6,102.9 L394.6,110.3 L397.1,110.3 L399.5,107.8 L400.4,104.5 L399.5,101.5 M421.6,101.5 L420.8,106.2 L419.2,108.6 L415.9,109.5 L413.5,111.1 L411.0,112.3 L407.7,113.1 L405.3,114.4 L404.5,116.8 L402.8,118.0 L401.2,116.0 L401.2,113.5 L402.8,111.9 L406.1,108.2 L411.0,107.4 L413.5,105.4 L415.1,102.9 L417.6,101.5 M258.6,204.6 L260.7,210.7 L258.6,218.9 L256.6,225.7 L254.6,231.2 L251.1,232.6 L248.4,228.5 L248.4,224.4 L250.5,218.9 L249.8,214.2 L252.5,211.4 L256.6,208.0Z M313.5,161.4 L315.6,163.5 L316.0,166.5 L314.5,168.9 L312.6,167.5 L311.9,164.5Z M340.7,169.1 L345.5,173.9 L349.6,178.6 L353.6,184.1 L357.7,189.6 L360.5,193.7 L362.5,195.7 L363.2,190.9 L360.5,185.5 L357.7,181.4 L354.3,176.6 L349.6,172.5 L344.1,168.4Z M364.6,177.3 L367.3,174.6 L372.7,170.5 L376.8,169.1 L380.9,166.7 L382.3,171.8 L379.6,177.3 L378.9,182.7 L375.5,186.8 L371.4,187.5 L367.3,186.2 L365.9,182.7Z M359.0,192.6 L366.0,193.6 L372.0,194.8 L378.0,196.2 L378.5,198.2 L372.0,197.6 L365.0,196.2 L359.0,194.4Z M380.0,197.0 L386.0,197.5 L386.0,198.6 L380.0,198.2Z M393.5,199.5 L399.5,197.5 L400.5,198.5 L394.5,201.0Z M386.0,177.5 L392.5,177.0 L392.0,178.5 L387.5,179.5 L386.8,182.0 L390.5,182.8 L389.5,184.5 L387.5,184.5 L388.0,188.0 L390.0,191.5 L387.8,192.0 L385.5,189.0 L384.0,186.0 L384.3,182.5 L385.2,179.5Z M396.0,172.5 L398.0,174.0 L397.0,178.0 L395.5,176.0Z M384.5,144.2 L388.2,143.8 L388.8,148.5 L390.8,151.5 L392.0,155.3 L389.5,156.0 L387.0,153.0 L385.0,150.0 L384.0,147.0Z M386.5,157.3 L392.0,157.8 L393.8,160.0 L395.8,162.0 L396.0,167.0 L394.0,170.0 L390.0,169.5 L387.5,166.0 L389.0,163.0 L386.8,160.2Z M381.3,157.2 L382.2,156.8 L386.5,162.8 L385.8,163.5Z M386.6,130.6 L387.6,132.2 L386.6,136.8 L384.6,135.0 L384.6,132.0Z M364.0,141.2 L367.2,141.0 L367.5,143.5 L365.5,145.0 L363.4,143.5Z M401.8,180.5 L408.6,183.2 L415.5,184.6 L422.3,187.3 L427.7,190.0 L431.8,192.7 L435.9,199.6 L430.5,198.2 L426.4,196.8 L422.3,198.2 L418.2,195.5 L415.5,192.7 L411.4,189.3 L407.3,187.3 L403.2,184.6 L400.5,182.5Z M420.2,260.4 L418.5,256.2 L414.8,248.9 L411.1,251.3 L407.4,247.6 L402.5,245.2 L396.4,245.8 L390.3,248.9 L384.1,251.3 L379.2,252.5 L376.7,251.3 L375.5,246.4 L374.3,240.3 L371.8,234.1 L373.1,229.2 L371.8,224.3 L376.7,220.6 L381.7,219.4 L386.6,215.7 L390.3,212.0 L393.9,209.6 L397.6,207.1 L401.3,203.4 L405.0,202.8 L408.7,204.6 L411.1,209.6 L413.6,213.9 L417.3,214.5 L419.7,210.8 L421.0,204.6 L422.2,201.0 L423.6,202.3 L425.0,205.5 L427.7,209.1 L430.5,215.9 L434.6,220.0 L438.7,225.5 L442.1,230.9 L443.4,236.4 L442.7,241.9 L441.4,248.7 L438.7,255.5 L436.5,260.4 M481.5,260.4 L480.5,257.5 L478.0,255.0 L477.7,253.3 L480.0,254.5 L483.0,257.0 L486.3,258.5 L485.5,260.4 M463.0,221.3 L464.5,222.0 L467.9,226.2 L466.5,226.2Z M591.4,101.5 L593.6,105.2 L597.9,109.5 L601.5,113.8 L603.6,118.1 L607.9,122.4 L613.7,126.7 L618.0,131.0 L622.2,135.2 L623.7,139.5 L625.0,144.0 L633.6,148.3 L640.5,150.0 L644.8,152.6 L649.9,155.1 L653.4,156.0 L656.8,160.3 L661.1,163.7 L665.4,166.3 L669.7,164.8 L671.4,167.2 L671.9,173.0 L671.2,174.3 L668.0,179.7 L665.8,186.2 L665.3,190.5 L668.0,195.9 L671.2,201.4 L674.5,207.8 L676.6,211.1 L680.9,213.2 L683.6,215.4 L684.2,220.8 L683.1,229.5 L682.6,237.0 L683.1,245.7 L679.9,254.3 L678.2,260.4 M684.9,157.5 L683.5,157.7 L679.2,158.6 L674.9,160.3 L671.6,164.3 L668.9,162.9 L666.3,163.7 L662.8,162.9 L661.1,159.4 L661.1,154.3 L659.4,150.8 L655.1,150.8 L651.7,150.0 L653.4,144.0 L654.7,138.8 L650.8,138.8 L649.1,140.5 L647.4,144.0 L642.2,145.2 L637.9,143.1 L635.3,137.1 L635.3,130.2 L636.2,124.2 L640.5,120.7 L644.8,120.7 L648.2,121.2 L650.8,119.0 L656.0,119.4 L660.3,120.7 L662.0,123.3 L662.8,128.5 L664.6,131.5 L666.3,130.2 L667.1,127.6 L665.4,123.3 L664.6,118.2 L665.4,115.6 L668.0,113.0 L670.0,109.5 L672.4,106.6 L674.5,102.3 L674.5,101.5 M605.4,115.6 L607.9,115.9 L610.1,120.9 L613.7,127.5 L612.5,128.8 L608.5,122.5Z M658.5,137.9 L662.0,135.8 L666.3,136.2 L671.4,138.8 L676.6,141.4 L680.0,142.2 L676.6,142.7 L671.4,140.5 L666.3,138.8 L661.1,138.4Z M684.9,145.5 L680.0,145.7 L678.3,143.0 L684.9,142.7 M669.9,145.2 L673.8,145.0 L673.6,146.4 L670.0,146.4Z M533.0,141.6 L534.4,142.2 L533.6,143.2 L532.6,142.5Z M195.4,155.3 L197.4,154.8 L197.8,156.3 L196.0,156.5Z M194.0,102.8 L199.5,101.8 L199.8,103.2 L195.0,103.8Z M212.6,107.8 L217.5,107.3 L217.5,108.6 L212.8,109.0Z M228.6,108.4 L232.3,107.8 L231.8,109.4 L229.2,109.7Z" fill="none" stroke="#000" stroke-width="1.5" stroke-linejoin="round"/><path d="M670.0,128.0 L671.5,131.0 L672.8,134.3 M675.0,132.2 L678.0,135.0 L681.5,138.5 M154.5,102.1 L158.6,104.6 L162.3,107.2 L169.6,106.0 L178.2,104.1 L186.0,103.2 L189.3,103.5 L190.5,110.3 L196.7,114.0 L204.0,117.6 L206.5,120.1 L211.4,115.2 L218.8,116.4 L228.6,117.6 L233.5,116.4 L234.7,110.0 L234.7,105.4 M155.0,101.5 L157.5,103.5 L160.0,104.5 L163.0,103.5 L166.0,102.5 L169.0,101.5 M209.0,101.5 L210.0,103.5 L212.0,105.5 L213.5,103.5 L213.0,101.5 M216.3,101.5 L218.8,102.9 L223.7,105.4 L228.6,104.8 L234.7,104.8 M141.2,124.3 L142.0,124.6 M143.3,124.8 L144.2,124.5 M229.5,118.5 L230.7,122.6 L235.5,133.5 L240.9,144.4 L246.4,152.6 L247.7,158.0 M232.7,121.9 L238.2,133.5 L243.6,143.0 L247.7,151.2 L248.4,156.0 M230.0,106.2 L235.5,104.8 L234.1,113.0 L231.4,117.8 M270.9,129.4 L270.9,127.3 L268.2,126.6 L265.5,132.1 L262.7,132.1 L260.7,128.7 L258.6,123.2 L256.6,120.5 L259.3,119.8 L262.7,124.6 L266.8,127.3 L270.9,128.0 M257.7,101.5 L258.5,103.8 L262.0,104.8 L266.5,104.2 L267.6,101.5 M223.7,191.6 L225.5,195.0 L227.8,198.5 M231.4,200.5 L232.5,204.0 L233.4,209.4 M230.5,184.0 L232.8,183.2 L233.3,185.3 L231.0,186.0 M48.3,143.9 L49.2,144.2 M53.2,145.0 L54.2,145.1 M62.5,150.4 L62.8,151.4 M400.8,124.2 L401.3,123.6 M397.9,128.3 L398.7,127.3 M525.6,137.9 L526.4,138.2 M527.8,138.7 L528.8,139.1 M530.0,139.8 L531.0,140.4 M444.6,193.1 L449.0,195.5 L452.0,197.5 M455.5,199.5 L459.3,201.7 M466.2,210.8 L466.9,212.4 M485.0,215.8 L487.5,214.3 L489.6,214.9 M503.0,207.6 L504.5,208.2 M543.8,215.8 L544.5,216.3 M266.5,223.0 L267.5,223.5 M269.4,223.0 L270.5,222.5" fill="none" stroke="#000" stroke-width="1.5" stroke-linejoin="round" stroke-linecap="round"/></g>
<path d="M685.5,367.5V526.5" stroke="#a8a8a8" stroke-width="1" fill="none"/>
<path d="M685,367.5H47.5V526.5H685" stroke="#5a5a5a" stroke-width="1" fill="none"/>
<g class="sf" transform="translate(276.83,546.90) scale(0.8661,0.8600)" fill="none" stroke="#262626" stroke-width="1.0" stroke-linecap="round" stroke-linejoin="round"><path transform="translate(0.00,0)" d="M1,0L1,-10L5,-1L9,-10L9,0"/><path transform="translate(11.85,0)" d="M1.2,0L1.2,-10"/><path transform="translate(16.30,0)" d="M0.9,0L0.9,-10L7.1,0L7.1,-10"/></g>
<g class="sf" transform="translate(305.12,546.90) scale(1.3509,0.8600)" fill="none" stroke="#262626" stroke-width="1.0" stroke-linecap="round" stroke-linejoin="round"><path transform="translate(0.00,0)" d="M0.8,-5.3L6.5,-5.3M0.8,-2.7L6.5,-2.7"/></g>
<g class="sf" transform="translate(333.73,546.90) scale(0.9457,0.8600)" fill="none" stroke="#262626" stroke-width="1.0" stroke-linecap="round" stroke-linejoin="round"><path transform="translate(0.00,0)" d="M3.5,-10C1.4,-10 0.5,-7.6 0.5,-5C0.5,-2.4 1.4,0 3.5,0C5.6,0 6.5,-2.4 6.5,-5C6.5,-7.6 5.6,-10 3.5,-10Z"/><path transform="translate(9.05,0)" d="M1.1,-0.7L1.1,0"/><path transform="translate(13.50,0)" d="M3.5,-10C1.4,-10 0.5,-7.6 0.5,-5C0.5,-2.4 1.4,0 3.5,0C5.6,0 6.5,-2.4 6.5,-5C6.5,-7.6 5.6,-10 3.5,-10Z"/><path transform="translate(22.55,0)" d="M3.5,-10C1.4,-10 0.5,-7.6 0.5,-5C0.5,-2.4 1.4,0 3.5,0C5.6,0 6.5,-2.4 6.5,-5C6.5,-7.6 5.6,-10 3.5,-10Z"/></g>
<g class="sf" transform="translate(367.36,546.90) scale(0.8375,0.8600)" fill="none" stroke="#262626" stroke-width="1.0" stroke-linecap="round" stroke-linejoin="round"><path transform="translate(0.00,0)" d="M1,0L1,-10L5,-1L9,-10L9,0"/><path transform="translate(11.85,0)" d="M0.2,0L4,-10L7.8,0M1.6,-3.4L6.4,-3.4"/><path transform="translate(21.70,0)" d="M0.5,0L7,-10M0.5,-10L7,0"/></g>
<g class="sf" transform="translate(398.65,546.90) scale(1.1930,0.8600)" fill="none" stroke="#262626" stroke-width="1.0" stroke-linecap="round" stroke-linejoin="round"><path transform="translate(0.00,0)" d="M0.8,-5.3L6.5,-5.3M0.8,-2.7L6.5,-2.7"/></g>
<g class="sf" transform="translate(427.84,546.90) scale(0.9247,0.8600)" fill="none" stroke="#262626" stroke-width="1.0" stroke-linecap="round" stroke-linejoin="round"><path transform="translate(0.00,0)" d="M3.5,-10C1.4,-10 0.5,-7.6 0.5,-5C0.5,-2.4 1.4,0 3.5,0C5.6,0 6.5,-2.4 6.5,-5C6.5,-7.6 5.6,-10 3.5,-10Z"/><path transform="translate(9.05,0)" d="M1.1,-0.7L1.1,0"/><path transform="translate(13.50,0)" d="M0.7,-7.5C0.8,-9.2 2,-10 3.5,-10C5.2,-10 6.3,-9 6.3,-7.4C6.3,-5.3 4.2,-4.2 2.5,-2.8C1.3,-1.8 0.6,-1 0.5,0L6.4,0"/><path transform="translate(22.55,0)" d="M0.8,-2C1.2,-0.6 2.2,0 3.4,0C5.5,0 6.5,-2.2 6.5,-5.5C6.5,-8.5 5.4,-10 3.4,-10C1.6,-10 0.5,-8.7 0.5,-6.8C0.5,-4.9 1.7,-3.7 3.4,-3.7C5,-3.7 6.2,-4.8 6.4,-6.5"/></g>
<rect x="129.50" y="552.3" width="29.93" height="14.199999999999989" fill="#00008c"/>
<rect x="159.12" y="552.3" width="29.93" height="14.199999999999989" fill="#0020b4"/>
<rect x="188.75" y="552.3" width="29.93" height="14.199999999999989" fill="#0030dc"/>
<rect x="218.38" y="552.3" width="29.93" height="14.199999999999989" fill="#1f50ff"/>
<rect x="248.00" y="552.3" width="29.93" height="14.199999999999989" fill="#4377ff"/>
<rect x="277.62" y="552.3" width="29.93" height="14.199999999999989" fill="#80a6ff"/>
<rect x="307.25" y="552.3" width="29.93" height="14.199999999999989" fill="#b3caff"/>
<rect x="336.88" y="552.3" width="29.93" height="14.199999999999989" fill="#d8e9ff"/>
<rect x="366.50" y="552.3" width="29.93" height="14.199999999999989" fill="#ffebdc"/>
<rect x="396.12" y="552.3" width="29.93" height="14.199999999999989" fill="#ffc8af"/>
<rect x="425.75" y="552.3" width="29.93" height="14.199999999999989" fill="#ffa37a"/>
<rect x="455.38" y="552.3" width="29.93" height="14.199999999999989" fill="#ff7440"/>
<rect x="485.00" y="552.3" width="29.93" height="14.199999999999989" fill="#ff4c1a"/>
<rect x="514.62" y="552.3" width="29.93" height="14.199999999999989" fill="#e12d0a"/>
<rect x="544.25" y="552.3" width="29.93" height="14.199999999999989" fill="#b41e05"/>
<rect x="573.88" y="552.3" width="29.93" height="14.199999999999989" fill="#870000"/>
<line x1="159.12" y1="552.3" x2="159.12" y2="566.5" stroke="#222" stroke-width="0.8"/>
<line x1="188.75" y1="552.3" x2="188.75" y2="566.5" stroke="#222" stroke-width="0.8"/>
<line x1="218.38" y1="552.3" x2="218.38" y2="566.5" stroke="#222" stroke-width="0.8"/>
<line x1="248.00" y1="552.3" x2="248.00" y2="566.5" stroke="#222" stroke-width="0.8"/>
<line x1="277.62" y1="552.3" x2="277.62" y2="566.5" stroke="#222" stroke-width="0.8"/>
<line x1="307.25" y1="552.3" x2="307.25" y2="566.5" stroke="#222" stroke-width="0.8"/>
<line x1="336.88" y1="552.3" x2="336.88" y2="566.5" stroke="#222" stroke-width="0.8"/>
<line x1="366.50" y1="552.3" x2="366.50" y2="566.5" stroke="#222" stroke-width="0.8"/>
<line x1="396.12" y1="552.3" x2="396.12" y2="566.5" stroke="#222" stroke-width="0.8"/>
<line x1="425.75" y1="552.3" x2="425.75" y2="566.5" stroke="#222" stroke-width="0.8"/>
<line x1="455.38" y1="552.3" x2="455.38" y2="566.5" stroke="#222" stroke-width="0.8"/>
<line x1="485.00" y1="552.3" x2="485.00" y2="566.5" stroke="#222" stroke-width="0.8"/>
<line x1="514.62" y1="552.3" x2="514.62" y2="566.5" stroke="#222" stroke-width="0.8"/>
<line x1="544.25" y1="552.3" x2="544.25" y2="566.5" stroke="#222" stroke-width="0.8"/>
<line x1="573.88" y1="552.3" x2="573.88" y2="566.5" stroke="#222" stroke-width="0.8"/>
<rect x="129.5" y="552.3" width="474.0" height="14.199999999999989" fill="none" stroke="#222" stroke-width="0.9"/>
<g class="sf" transform="translate(148.22,578.70) scale(0.7395,0.8500)" fill="none" stroke="#383838" stroke-width="0.9" stroke-linecap="round" stroke-linejoin="round"><path transform="translate(0.00,0)" d="M3.5,-10C1.4,-10 0.5,-7.6 0.5,-5C0.5,-2.4 1.4,0 3.5,0C5.6,0 6.5,-2.4 6.5,-5C6.5,-7.6 5.6,-10 3.5,-10Z"/><path transform="translate(9.80,0)" d="M1.1,-0.7L1.1,0"/><path transform="translate(15.00,0)" d="M3.5,-10C1.4,-10 0.5,-7.6 0.5,-5C0.5,-2.4 1.4,0 3.5,0C5.6,0 6.5,-2.4 6.5,-5C6.5,-7.6 5.6,-10 3.5,-10Z"/><path transform="translate(24.80,0)" d="M1.5,-7.8C2.8,-8.2 3.8,-9 4.2,-10L4.2,0"/></g>
<g class="sf" transform="translate(177.03,578.70) scale(0.7395,0.8500)" fill="none" stroke="#383838" stroke-width="0.9" stroke-linecap="round" stroke-linejoin="round"><path transform="translate(0.00,0)" d="M3.5,-10C1.4,-10 0.5,-7.6 0.5,-5C0.5,-2.4 1.4,0 3.5,0C5.6,0 6.5,-2.4 6.5,-5C6.5,-7.6 5.6,-10 3.5,-10Z"/><path transform="translate(9.80,0)" d="M1.1,-0.7L1.1,0"/><path transform="translate(15.00,0)" d="M3.5,-10C1.4,-10 0.5,-7.6 0.5,-5C0.5,-2.4 1.4,0 3.5,0C5.6,0 6.5,-2.4 6.5,-5C6.5,-7.6 5.6,-10 3.5,-10Z"/><path transform="translate(24.80,0)" d="M0.7,-7.5C0.8,-9.2 2,-10 3.5,-10C5.2,-10 6.3,-9 6.3,-7.4C6.3,-5.3 4.2,-4.2 2.5,-2.8C1.3,-1.8 0.6,-1 0.5,0L6.4,0"/></g>
<g class="sf" transform="translate(206.62,578.70) scale(0.7395,0.8500)" fill="none" stroke="#383838" stroke-width="0.9" stroke-linecap="round" stroke-linejoin="round"><path transform="translate(0.00,0)" d="M3.5,-10C1.4,-10 0.5,-7.6 0.5,-5C0.5,-2.4 1.4,0 3.5,0C5.6,0 6.5,-2.4 6.5,-5C6.5,-7.6 5.6,-10 3.5,-10Z"/><path transform="translate(9.80,0)" d="M1.1,-0.7L1.1,0"/><path transform="translate(15.00,0)" d="M3.5,-10C1.4,-10 0.5,-7.6 0.5,-5C0.5,-2.4 1.4,0 3.5,0C5.6,0 6.5,-2.4 6.5,-5C6.5,-7.6 5.6,-10 3.5,-10Z"/><path transform="translate(24.80,0)" d="M0.8,-8C1.2,-9.4 2.2,-10 3.5,-10C5,-10 6,-9.1 6,-7.6C6,-6.2 5,-5.4 3.2,-5.4M3.2,-5.4C5.3,-5.4 6.5,-4.4 6.5,-2.7C6.5,-1 5.2,0 3.5,0C2,0 0.9,-0.7 0.5,-2.2"/></g>
<g class="sf" transform="translate(236.09,578.70) scale(0.7395,0.8500)" fill="none" stroke="#383838" stroke-width="0.9" stroke-linecap="round" stroke-linejoin="round"><path transform="translate(0.00,0)" d="M3.5,-10C1.4,-10 0.5,-7.6 0.5,-5C0.5,-2.4 1.4,0 3.5,0C5.6,0 6.5,-2.4 6.5,-5C6.5,-7.6 5.6,-10 3.5,-10Z"/><path transform="translate(9.80,0)" d="M1.1,-0.7L1.1,0"/><path transform="translate(15.00,0)" d="M3.5,-10C1.4,-10 0.5,-7.6 0.5,-5C0.5,-2.4 1.4,0 3.5,0C5.6,0 6.5,-2.4 6.5,-5C6.5,-7.6 5.6,-10 3.5,-10Z"/><path transform="translate(24.80,0)" d="M5,0L5,-10L0.3,-3L6.9,-3"/></g>
<g class="sf" transform="translate(265.87,578.70) scale(0.7395,0.8500)" fill="none" stroke="#383838" stroke-width="0.9" stroke-linecap="round" stroke-linejoin="round"><path transform="translate(0.00,0)" d="M3.5,-10C1.4,-10 0.5,-7.6 0.5,-5C0.5,-2.4 1.4,0 3.5,0C5.6,0 6.5,-2.4 6.5,-5C6.5,-7.6 5.6,-10 3.5,-10Z"/><path transform="translate(9.80,0)" d="M1.1,-0.7L1.1,0"/><path transform="translate(15.00,0)" d="M3.5,-10C1.4,-10 0.5,-7.6 0.5,-5C0.5,-2.4 1.4,0 3.5,0C5.6,0 6.5,-2.4 6.5,-5C6.5,-7.6 5.6,-10 3.5,-10Z"/><path transform="translate(24.80,0)" d="M6.2,-8C5.8,-9.4 4.8,-10 3.6,-10C1.5,-10 0.5,-7.8 0.5,-4.5C0.5,-1.5 1.6,0 3.6,0C5.4,0 6.5,-1.3 6.5,-3.2C6.5,-5.1 5.3,-6.3 3.6,-6.3C2,-6.3 0.8,-5.2 0.6,-3.5"/></g>
<g class="sf" transform="translate(295.49,578.70) scale(0.7395,0.8500)" fill="none" stroke="#383838" stroke-width="0.9" stroke-linecap="round" stroke-linejoin="round"><path transform="translate(0.00,0)" d="M3.5,-10C1.4,-10 0.5,-7.6 0.5,-5C0.5,-2.4 1.4,0 3.5,0C5.6,0 6.5,-2.4 6.5,-5C6.5,-7.6 5.6,-10 3.5,-10Z"/><path transform="translate(9.80,0)" d="M1.1,-0.7L1.1,0"/><path transform="translate(15.00,0)" d="M3.5,-10C1.4,-10 0.5,-7.6 0.5,-5C0.5,-2.4 1.4,0 3.5,0C5.6,0 6.5,-2.4 6.5,-5C6.5,-7.6 5.6,-10 3.5,-10Z"/><path transform="translate(24.80,0)" d="M3.5,-5.5C1.8,-5.5 0.9,-6.3 0.9,-7.7C0.9,-9.1 2,-10 3.5,-10C5,-10 6.1,-9.1 6.1,-7.7C6.1,-6.3 5.2,-5.5 3.5,-5.5C1.6,-5.5 0.5,-4.5 0.5,-2.8C0.5,-1 1.8,0 3.5,0C5.2,0 6.5,-1 6.5,-2.8C6.5,-4.5 5.4,-5.5 3.5,-5.5Z"/></g>
<g class="sf" transform="translate(329.59,578.70) scale(0.7395,0.8500)" fill="none" stroke="#383838" stroke-width="0.9" stroke-linecap="round" stroke-linejoin="round"><path transform="translate(0.00,0)" d="M3.5,-10C1.4,-10 0.5,-7.6 0.5,-5C0.5,-2.4 1.4,0 3.5,0C5.6,0 6.5,-2.4 6.5,-5C6.5,-7.6 5.6,-10 3.5,-10Z"/><path transform="translate(9.80,0)" d="M1.1,-0.7L1.1,0"/><path transform="translate(15.00,0)" d="M1.5,-7.8C2.8,-8.2 3.8,-9 4.2,-10L4.2,0"/></g>
<g class="sf" transform="translate(354.78,578.70) scale(0.7395,0.8500)" fill="none" stroke="#383838" stroke-width="0.9" stroke-linecap="round" stroke-linejoin="round"><path transform="translate(0.00,0)" d="M3.5,-10C1.4,-10 0.5,-7.6 0.5,-5C0.5,-2.4 1.4,0 3.5,0C5.6,0 6.5,-2.4 6.5,-5C6.5,-7.6 5.6,-10 3.5,-10Z"/><path transform="translate(9.80,0)" d="M1.1,-0.7L1.1,0"/><path transform="translate(15.00,0)" d="M1.5,-7.8C2.8,-8.2 3.8,-9 4.2,-10L4.2,0"/><path transform="translate(24.80,0)" d="M0.7,-7.5C0.8,-9.2 2,-10 3.5,-10C5.2,-10 6.3,-9 6.3,-7.4C6.3,-5.3 4.2,-4.2 2.5,-2.8C1.3,-1.8 0.6,-1 0.5,0L6.4,0"/></g>
<g class="sf" transform="translate(384.22,578.70) scale(0.7395,0.8500)" fill="none" stroke="#383838" stroke-width="0.9" stroke-linecap="round" stroke-linejoin="round"><path transform="translate(0.00,0)" d="M3.5,-10C1.4,-10 0.5,-7.6 0.5,-5C0.5,-2.4 1.4,0 3.5,0C5.6,0 6.5,-2.4 6.5,-5C6.5,-7.6 5.6,-10 3.5,-10Z"/><path transform="translate(9.80,0)" d="M1.1,-0.7L1.1,0"/><path transform="translate(15.00,0)" d="M1.5,-7.8C2.8,-8.2 3.8,-9 4.2,-10L4.2,0"/><path transform="translate(24.80,0)" d="M5,0L5,-10L0.3,-3L6.9,-3"/></g>
<g class="sf" transform="translate(413.99,578.70) scale(0.7395,0.8500)" fill="none" stroke="#383838" stroke-width="0.9" stroke-linecap="round" stroke-linejoin="round"><path transform="translate(0.00,0)" d="M3.5,-10C1.4,-10 0.5,-7.6 0.5,-5C0.5,-2.4 1.4,0 3.5,0C5.6,0 6.5,-2.4 6.5,-5C6.5,-7.6 5.6,-10 3.5,-10Z"/><path transform="translate(9.80,0)" d="M1.1,-0.7L1.1,0"/><path transform="translate(15.00,0)" d="M1.5,-7.8C2.8,-8.2 3.8,-9 4.2,-10L4.2,0"/><path transform="translate(24.80,0)" d="M6.2,-8C5.8,-9.4 4.8,-10 3.6,-10C1.5,-10 0.5,-7.8 0.5,-4.5C0.5,-1.5 1.6,0 3.6,0C5.4,0 6.5,-1.3 6.5,-3.2C6.5,-5.1 5.3,-6.3 3.6,-6.3C2,-6.3 0.8,-5.2 0.6,-3.5"/></g>
<g class="sf" transform="translate(443.62,578.70) scale(0.7395,0.8500)" fill="none" stroke="#383838" stroke-width="0.9" stroke-linecap="round" stroke-linejoin="round"><path transform="translate(0.00,0)" d="M3.5,-10C1.4,-10 0.5,-7.6 0.5,-5C0.5,-2.4 1.4,0 3.5,0C5.6,0 6.5,-2.4 6.5,-5C6.5,-7.6 5.6,-10 3.5,-10Z"/><path transform="translate(9.80,0)" d="M1.1,-0.7L1.1,0"/><path transform="translate(15.00,0)" d="M1.5,-7.8C2.8,-8.2 3.8,-9 4.2,-10L4.2,0"/><path transform="translate(24.80,0)" d="M3.5,-5.5C1.8,-5.5 0.9,-6.3 0.9,-7.7C0.9,-9.1 2,-10 3.5,-10C5,-10 6.1,-9.1 6.1,-7.7C6.1,-6.3 5.2,-5.5 3.5,-5.5C1.6,-5.5 0.5,-4.5 0.5,-2.8C0.5,-1 1.8,0 3.5,0C5.2,0 6.5,-1 6.5,-2.8C6.5,-4.5 5.4,-5.5 3.5,-5.5Z"/></g>
<g class="sf" transform="translate(476.90,578.70) scale(0.7395,0.8500)" fill="none" stroke="#383838" stroke-width="0.9" stroke-linecap="round" stroke-linejoin="round"><path transform="translate(0.00,0)" d="M3.5,-10C1.4,-10 0.5,-7.6 0.5,-5C0.5,-2.4 1.4,0 3.5,0C5.6,0 6.5,-2.4 6.5,-5C6.5,-7.6 5.6,-10 3.5,-10Z"/><path transform="translate(9.80,0)" d="M1.1,-0.7L1.1,0"/><path transform="translate(15.00,0)" d="M0.7,-7.5C0.8,-9.2 2,-10 3.5,-10C5.2,-10 6.3,-9 6.3,-7.4C6.3,-5.3 4.2,-4.2 2.5,-2.8C1.3,-1.8 0.6,-1 0.5,0L6.4,0"/></g>
<g class="sf" transform="translate(502.72,578.70) scale(0.7395,0.8500)" fill="none" stroke="#383838" stroke-width="0.9" stroke-linecap="round" stroke-linejoin="round"><path transform="translate(0.00,0)" d="M3.5,-10C1.4,-10 0.5,-7.6 0.5,-5C0.5,-2.4 1.4,0 3.5,0C5.6,0 6.5,-2.4 6.5,-5C6.5,-7.6 5.6,-10 3.5,-10Z"/><path transform="translate(9.80,0)" d="M1.1,-0.7L1.1,0"/><path transform="translate(15.00,0)" d="M0.7,-7.5C0.8,-9.2 2,-10 3.5,-10C5.2,-10 6.3,-9 6.3,-7.4C6.3,-5.3 4.2,-4.2 2.5,-2.8C1.3,-1.8 0.6,-1 0.5,0L6.4,0"/><path transform="translate(24.80,0)" d="M5,0L5,-10L0.3,-3L6.9,-3"/></g>
<g class="sf" transform="translate(532.49,578.70) scale(0.7395,0.8500)" fill="none" stroke="#383838" stroke-width="0.9" stroke-linecap="round" stroke-linejoin="round"><path transform="translate(0.00,0)" d="M3.5,-10C1.4,-10 0.5,-7.6 0.5,-5C0.5,-2.4 1.4,0 3.5,0C5.6,0 6.5,-2.4 6.5,-5C6.5,-7.6 5.6,-10 3.5,-10Z"/><path transform="translate(9.80,0)" d="M1.1,-0.7L1.1,0"/><path transform="translate(15.00,0)" d="M0.7,-7.5C0.8,-9.2 2,-10 3.5,-10C5.2,-10 6.3,-9 6.3,-7.4C6.3,-5.3 4.2,-4.2 2.5,-2.8C1.3,-1.8 0.6,-1 0.5,0L6.4,0"/><path transform="translate(24.80,0)" d="M3.5,-5.5C1.8,-5.5 0.9,-6.3 0.9,-7.7C0.9,-9.1 2,-10 3.5,-10C5,-10 6.1,-9.1 6.1,-7.7C6.1,-6.3 5.2,-5.5 3.5,-5.5C1.6,-5.5 0.5,-4.5 0.5,-2.8C0.5,-1 1.8,0 3.5,0C5.2,0 6.5,-1 6.5,-2.8C6.5,-4.5 5.4,-5.5 3.5,-5.5Z"/></g>
<g class="sf" transform="translate(562.15,578.70) scale(0.7395,0.8500)" fill="none" stroke="#383838" stroke-width="0.9" stroke-linecap="round" stroke-linejoin="round"><path transform="translate(0.00,0)" d="M3.5,-10C1.4,-10 0.5,-7.6 0.5,-5C0.5,-2.4 1.4,0 3.5,0C5.6,0 6.5,-2.4 6.5,-5C6.5,-7.6 5.6,-10 3.5,-10Z"/><path transform="translate(9.80,0)" d="M1.1,-0.7L1.1,0"/><path transform="translate(15.00,0)" d="M0.8,-8C1.2,-9.4 2.2,-10 3.5,-10C5,-10 6,-9.1 6,-7.6C6,-6.2 5,-5.4 3.2,-5.4M3.2,-5.4C5.3,-5.4 6.5,-4.4 6.5,-2.7C6.5,-1 5.2,0 3.5,0C2,0 0.9,-0.7 0.5,-2.2"/><path transform="translate(24.80,0)" d="M0.7,-7.5C0.8,-9.2 2,-10 3.5,-10C5.2,-10 6.3,-9 6.3,-7.4C6.3,-5.3 4.2,-4.2 2.5,-2.8C1.3,-1.8 0.6,-1 0.5,0L6.4,0"/></g>
<text x="366" y="603.3" font-size="15.6" font-weight="bold" fill="#000" text-anchor="middle" textLength="224.7" lengthAdjust="spacingAndGlyphs">ceres_monthly - ceres_annual</text>
<g class="sf" transform="translate(46.30,628.10) scale(1.0074,1.0200)" fill="none" stroke="#262626" stroke-width="1.0" stroke-linecap="round" stroke-linejoin="round"><path transform="translate(0.00,0)" d="M7,-8.5C6.5,-9.6 5.3,-10 4,-10C2,-10 0.8,-9 0.8,-7.5C0.8,-4.5 7.3,-5.5 7.3,-2.5C7.3,-0.9 6,0 4,0C2.2,0 0.9,-0.7 0.5,-2"/><path transform="translate(10.05,0)" d="M0.8,-7.3L0.8,-2C0.8,-0.5 1.8,0 3,0C4.5,0 5.8,-1 5.8,-3M5.8,-7.3L5.8,0"/><path transform="translate(18.70,0)" d="M0.8,-7.3L0.8,0M0.8,-4C1.2,-6.3 2.4,-7.3 4,-7.3"/><path transform="translate(24.95,0)" d="M4,-10C2.5,-10 1.8,-9.4 1.8,-8L1.8,0M0.2,-7.3L3.8,-7.3"/><path transform="translate(30.80,0)" d="M0.8,-6.3C1.2,-7 2.1,-7.3 3.2,-7.3C4.8,-7.3 5.6,-6.6 5.6,-5.2L5.6,-1C5.6,-0.4 5.9,0 6.3,0M5.6,-4.2C2,-3.9 0.5,-3.3 0.5,-1.8C0.5,-0.6 1.4,0 2.7,0C4,0 5.2,-0.7 5.6,-1.8"/><path transform="translate(39.45,0)" d="M5.8,-5.5C5.4,-6.8 4.4,-7.3 3.3,-7.3C1.5,-7.3 0.5,-5.8 0.5,-3.6C0.5,-1.4 1.5,0 3.3,0C4.5,0 5.5,-0.7 5.8,-2.2"/><path transform="translate(47.70,0)" d="M0.6,-3.8L6,-3.8C6,-5.9 5,-7.3 3.3,-7.3C1.5,-7.3 0.5,-5.8 0.5,-3.6C0.5,-1.4 1.5,0 3.3,0C4.6,0 5.6,-0.7 5.9,-2"/><path transform="translate(61.70,0)" d="M5.2,-5.8C5,-6.8 4.1,-7.3 3,-7.3C1.7,-7.3 0.7,-6.7 0.7,-5.5C0.7,-3.4 5.6,-4.2 5.6,-1.8C5.6,-0.6 4.6,0 3.1,0C1.7,0 0.7,-0.6 0.5,-1.8"/><path transform="translate(69.75,0)" d="M1.8,-9.5L1.8,-1.2C1.8,-0.3 2.3,0 3.5,0M0.2,-7.3L3.6,-7.3"/><path transform="translate(75.60,0)" d="M0.8,-7.3L0.8,0M0.8,-4C1.2,-6.3 2.4,-7.3 4,-7.3"/><path transform="translate(81.85,0)" d="M0.6,-3.8L6,-3.8C6,-5.9 5,-7.3 3.3,-7.3C1.5,-7.3 0.5,-5.8 0.5,-3.6C0.5,-1.4 1.5,0 3.3,0C4.6,0 5.6,-0.7 5.9,-2"/><path transform="translate(90.40,0)" d="M5.2,-5.8C5,-6.8 4.1,-7.3 3,-7.3C1.7,-7.3 0.7,-6.7 0.7,-5.5C0.7,-3.4 5.6,-4.2 5.6,-1.8C5.6,-0.6 4.6,0 3.1,0C1.7,0 0.7,-0.6 0.5,-1.8"/><path transform="translate(98.45,0)" d="M5.2,-5.8C5,-6.8 4.1,-7.3 3,-7.3C1.7,-7.3 0.7,-6.7 0.7,-5.5C0.7,-3.4 5.6,-4.2 5.6,-1.8C5.6,-0.6 4.6,0 3.1,0C1.7,0 0.7,-0.6 0.5,-1.8"/><path transform="translate(111.95,0)" d="M0.8,-7.3L0.8,0M0.8,-5C1.2,-6.7 2.1,-7.3 3.2,-7.3C4.4,-7.3 5,-6.6 5,-5L5,0M5,-5C5.4,-6.7 6.3,-7.3 7.4,-7.3C8.6,-7.3 9.2,-6.6 9.2,-5L9.2,0"/><path transform="translate(124.00,0)" d="M0.8,-6.3C1.2,-7 2.1,-7.3 3.2,-7.3C4.8,-7.3 5.6,-6.6 5.6,-5.2L5.6,-1C5.6,-0.4 5.9,0 6.3,0M5.6,-4.2C2,-3.9 0.5,-3.3 0.5,-1.8C0.5,-0.6 1.4,0 2.7,0C4,0 5.2,-0.7 5.6,-1.8"/><path transform="translate(132.65,0)" d="M5.8,-7.3L5.8,0.5C5.8,2.3 4.8,3 3.2,3C2,3 1.1,2.5 0.9,1.6M5.8,-3.8C5.8,-5.9 4.8,-7.3 3.2,-7.3C1.5,-7.3 0.5,-5.8 0.5,-3.7C0.5,-1.6 1.5,-0.2 3.2,-0.2C4.8,-0.2 5.8,-1.6 5.8,-3.8"/><path transform="translate(141.30,0)" d="M0.8,-7.3L0.8,0M0.8,-5C1.3,-6.7 2.4,-7.3 3.6,-7.3C5,-7.3 5.8,-6.5 5.8,-5L5.8,0"/><path transform="translate(149.95,0)" d="M0.9,-7.3L0.9,0M0.9,-10L0.9,-8.9"/><path transform="translate(154.20,0)" d="M1.8,-9.5L1.8,-1.2C1.8,-0.3 2.3,0 3.5,0M0.2,-7.3L3.6,-7.3"/><path transform="translate(160.05,0)" d="M0.8,-7.3L0.8,-2C0.8,-0.5 1.8,0 3,0C4.5,0 5.8,-1 5.8,-3M5.8,-7.3L5.8,0"/><path transform="translate(168.70,0)" d="M5.8,-10L5.8,0M5.8,-3.6C5.8,-5.9 4.8,-7.3 3.2,-7.3C1.5,-7.3 0.5,-5.8 0.5,-3.6C0.5,-1.4 1.5,0 3.2,0C4.8,0 5.8,-1.4 5.8,-3.6"/><path transform="translate(177.35,0)" d="M0.6,-3.8L6,-3.8C6,-5.9 5,-7.3 3.3,-7.3C1.5,-7.3 0.5,-5.8 0.5,-3.6C0.5,-1.4 1.5,0 3.3,0C4.6,0 5.6,-0.7 5.9,-2"/></g>
<g class="sf" transform="translate(313.60,630.60) scale(1.1193,0.9700)" fill="none" stroke="#262626" stroke-width="1.0" stroke-linecap="round" stroke-linejoin="round"><path transform="translate(0.00,0)" d="M0.8,-7.3L0.8,0M0.8,-5C1.2,-6.7 2.1,-7.3 3.2,-7.3C4.4,-7.3 5,-6.6 5,-5L5,0M5,-5C5.4,-6.7 6.3,-7.3 7.4,-7.3C8.6,-7.3 9.2,-6.6 9.2,-5L9.2,0"/><path transform="translate(12.05,0)" d="M0.6,-3.8L6,-3.8C6,-5.9 5,-7.3 3.3,-7.3C1.5,-7.3 0.5,-5.8 0.5,-3.6C0.5,-1.4 1.5,0 3.3,0C4.6,0 5.6,-0.7 5.9,-2"/><path transform="translate(20.60,0)" d="M0.8,-6.3C1.2,-7 2.1,-7.3 3.2,-7.3C4.8,-7.3 5.6,-6.6 5.6,-5.2L5.6,-1C5.6,-0.4 5.9,0 6.3,0M5.6,-4.2C2,-3.9 0.5,-3.3 0.5,-1.8C0.5,-0.6 1.4,0 2.7,0C4,0 5.2,-0.7 5.6,-1.8"/><path transform="translate(29.25,0)" d="M0.8,-7.3L0.8,0M0.8,-5C1.3,-6.7 2.4,-7.3 3.6,-7.3C5,-7.3 5.8,-6.5 5.8,-5L5.8,0"/><path transform="translate(37.90,0)" d="M0.8,-5.3L6.5,-5.3M0.8,-2.7L6.5,-2.7"/></g>
<g class="sf" transform="translate(386.37,630.60) scale(1.0683,0.9700)" fill="none" stroke="#262626" stroke-width="1.0" stroke-linecap="round" stroke-linejoin="round"><path transform="translate(0.00,0)" d="M3.5,-10C1.4,-10 0.5,-7.6 0.5,-5C0.5,-2.4 1.4,0 3.5,0C5.6,0 6.5,-2.4 6.5,-5C6.5,-7.6 5.6,-10 3.5,-10Z"/><path transform="translate(9.05,0)" d="M1.1,-0.7L1.1,0"/><path transform="translate(13.50,0)" d="M3.5,-10C1.4,-10 0.5,-7.6 0.5,-5C0.5,-2.4 1.4,0 3.5,0C5.6,0 6.5,-2.4 6.5,-5C6.5,-7.6 5.6,-10 3.5,-10Z"/><path transform="translate(22.55,0)" d="M3.5,-10C1.4,-10 0.5,-7.6 0.5,-5C0.5,-2.4 1.4,0 3.5,0C5.6,0 6.5,-2.4 6.5,-5C6.5,-7.6 5.6,-10 3.5,-10Z"/></g>
<g class="sf" transform="translate(646.87,627.70) scale(1.2602,0.9900)" fill="none" stroke="#262626" stroke-width="1.0" stroke-linecap="round" stroke-linejoin="round"><path transform="translate(0.00,0)" d="M0.9,0L0.9,-10L7.1,0L7.1,-10"/><path transform="translate(10.05,0)" d="M0,1L4.2,-10.5"/><path transform="translate(16.30,0)" d="M0.8,-7.3L0.8,0M0.8,-5C1.2,-6.7 2.1,-7.3 3.2,-7.3C4.4,-7.3 5,-6.6 5,-5L5,0M5,-5C5.4,-6.7 6.3,-7.3 7.4,-7.3C8.6,-7.3 9.2,-6.6 9.2,-5L9.2,0"/></g>
<g class="sf" transform="translate(680.55,621.90) scale(0.6949,0.6600)" fill="none" stroke="#262626" stroke-width="1.0" stroke-linecap="round" stroke-linejoin="round"><path transform="translate(0.00,0)" d="M0.7,-7.5C0.8,-9.2 2,-10 3.5,-10C5.2,-10 6.3,-9 6.3,-7.4C6.3,-5.3 4.2,-4.2 2.5,-2.8C1.3,-1.8 0.6,-1 0.5,0L6.4,0"/></g>
<g transform="translate(0,532)" clip-path="url(#clipf)"><path d="M47.4,157.9 L53.6,159.4 L62.2,161.2 L66.5,165.1 L72.2,169.4 L78.7,172.3 L83.0,178.7 L86.5,181.6 L93.7,185.9 L102.3,186.6 L108.0,190.2 L110.2,194.5 L108.0,201.6 L103.0,207.4 L102.3,214.6 L98.0,221.7 L92.3,226.0 L86.5,231.8 L85.1,238.9 L81.5,246.1 L75.1,251.8 L70.1,253.3 L69.4,259.0 L70.1,260.4 M154.5,101.5 L155.9,108.9 L153.2,115.7 L150.5,119.8 L147.0,122.6 L145.2,129.4 L141.8,137.6 L141.8,143.0 L141.1,152.6 L143.2,158.0 L148.6,163.5 L152.7,168.9 L157.5,173.0 L162.3,172.4 L169.1,169.6 L175.9,168.9 L180.0,168.9 L182.1,171.7 L186.8,173.0 L188.2,175.8 L187.5,183.5 L190.9,188.9 L193.7,193.0 L195.0,198.5 L195.7,203.9 L193.7,208.0 L192.3,214.8 L195.0,221.7 L197.8,227.1 L198.4,233.9 L201.8,242.1 L203.9,248.9 L205.9,252.4 L212.8,251.7 L218.2,250.3 L223.7,246.2 L227.8,240.8 L229.8,234.0 L231.5,232.0 L233.8,229.8 L234.1,225.7 L232.7,221.7 L234.1,218.9 L238.2,214.8 L243.0,210.7 L243.6,203.9 L242.3,197.1 L240.2,191.6 L245.0,185.5 L251.6,177.0 L256.0,171.5 L258.5,168.5 L260.7,163.5 L262.1,158.7 L257.3,160.1 L250.5,160.8 L247.7,158.0 L248.4,156.0 L257.3,152.6 L265.5,149.8 L270.9,146.4 L275.0,141.7 L277.1,137.6 L273.7,133.5 L270.9,129.4 L275.0,130.1 L281.8,130.5 L288.7,130.1 L292.8,133.5 L295.5,137.6 L298.2,138.2 L300.3,137.6 L300.3,143.0 L302.3,149.8 L305.0,156.7 L307.8,163.5 L309.8,165.5 L311.9,162.1 L313.2,156.7 L313.2,151.2 L317.3,148.5 L322.8,143.0 L326.9,138.9 L330.0,137.6 L333.9,136.2 L335.2,140.3 L338.6,145.7 L339.3,149.8 L342.7,148.5 L345.5,152.6 L346.1,158.0 L345.5,163.5 L348.2,167.6 L352.3,170.3 L354.5,175.0 L355.5,178.4 L357.0,175.5 L356.2,170.0 L353.5,164.0 L351.5,159.0 L349.3,154.2 L352.5,156.5 L355.0,160.0 L356.9,163.9 L360.2,161.5 L364.0,158.5 L365.0,155.0 L363.2,148.5 L360.3,143.0 L360.0,140.3 L363.0,138.8 L366.1,139.3 L370.0,137.5 L373.5,136.2 L377.5,134.8 L379.9,132.4 L382.4,129.1 L384.8,125.0 L386.5,121.7 L384.8,120.1 L387.3,117.6 L387.3,115.2 L385.6,112.7 L384.0,110.3 L382.4,108.6 L383.2,104.5 L381.5,101.5 M392.2,101.5 L394.6,102.9 L394.6,110.3 L397.1,110.3 L399.5,107.8 L400.4,104.5 L399.5,101.5 M421.6,101.5 L420.8,106.2 L419.2,108.6 L415.9,109.5 L413.5,111.1 L411.0,112.3 L407.7,113.1 L405.3,114.4 L404.5,116.8 L402.8,118.0 L401.2,116.0 L401.2,113.5 L402.8,111.9 L406.1,108.2 L411.0,107.4 L413.5,105.4 L415.1,102.9 L417.6,101.5 M258.6,204.6 L260.7,210.7 L258.6,218.9 L256.6,225.7 L254.6,231.2 L251.1,232.6 L248.4,228.5 L248.4,224.4 L250.5,218.9 L249.8,214.2 L252.5,211.4 L256.6,208.0Z M313.5,161.4 L315.6,163.5 L316.0,166.5 L314.5,168.9 L312.6,167.5 L311.9,164.5Z M340.7,169.1 L345.5,173.9 L349.6,178.6 L353.6,184.1 L357.7,189.6 L360.5,193.7 L362.5,195.7 L363.2,190.9 L360.5,185.5 L357.7,181.4 L354.3,176.6 L349.6,172.5 L344.1,168.4Z M364.6,177.3 L367.3,174.6 L372.7,170.5 L376.8,169.1 L380.9,166.7 L382.3,171.8 L379.6,177.3 L378.9,182.7 L375.5,186.8 L371.4,187.5 L367.3,186.2 L365.9,182.7Z M359.0,192.6 L366.0,193.6 L372.0,194.8 L378.0,196.2 L378.5,198.2 L372.0,197.6 L365.0,196.2 L359.0,194.4Z M380.0,197.0 L386.0,197.5 L386.0,198.6 L380.0,198.2Z M393.5,199.5 L399.5,197.5 L400.5,198.5 L394.5,201.0Z M386.0,177.5 L392.5,177.0 L392.0,178.5 L387.5,179.5 L386.8,182.0 L390.5,182.8 L389.5,184.5 L387.5,184.5 L388.0,188.0 L390.0,191.5 L387.8,192.0 L385.5,189.0 L384.0,186.0 L384.3,182.5 L385.2,179.5Z M396.0,172.5 L398.0,174.0 L397.0,178.0 L395.5,176.0Z M384.5,144.2 L388.2,143.8 L388.8,148.5 L390.8,151.5 L392.0,155.3 L389.5,156.0 L387.0,153.0 L385.0,150.0 L384.0,147.0Z M386.5,157.3 L392.0,157.8 L393.8,160.0 L395.8,162.0 L396.0,167.0 L394.0,170.0 L390.0,169.5 L387.5,166.0 L389.0,163.0 L386.8,160.2Z M381.3,157.2 L382.2,156.8 L386.5,162.8 L385.8,163.5Z M386.6,130.6 L387.6,132.2 L386.6,136.8 L384.6,135.0 L384.6,132.0Z M364.0,141.2 L367.2,141.0 L367.5,143.5 L365.5,145.0 L363.4,143.5Z M401.8,180.5 L408.6,183.2 L415.5,184.6 L422.3,187.3 L427.7,190.0 L431.8,192.7 L435.9,199.6 L430.5,198.2 L426.4,196.8 L422.3,198.2 L418.2,195.5 L415.5,192.7 L411.4,189.3 L407.3,187.3 L403.2,184.6 L400.5,182.5Z M420.2,260.4 L418.5,256.2 L414.8,248.9 L411.1,251.3 L407.4,247.6 L402.5,245.2 L396.4,245.8 L390.3,248.9 L384.1,251.3 L379.2,252.5 L376.7,251.3 L375.5,246.4 L374.3,240.3 L371.8,234.1 L373.1,229.2 L371.8,224.3 L376.7,220.6 L381.7,219.4 L386.6,215.7 L390.3,212.0 L393.9,209.6 L397.6,207.1 L401.3,203.4 L405.0,202.8 L408.7,204.6 L411.1,209.6 L413.6,213.9 L417.3,214.5 L419.7,210.8 L421.0,204.6 L422.2,201.0 L423.6,202.3 L425.0,205.5 L427.7,209.1 L430.5,215.9 L434.6,220.0 L438.7,225.5 L442.1,230.9 L443.4,236.4 L442.7,241.9 L441.4,248.7 L438.7,255.5 L436.5,260.4 M481.5,260.4 L480.5,257.5 L478.0,255.0 L477.7,253.3 L480.0,254.5 L483.0,257.0 L486.3,258.5 L485.5,260.4 M463.0,221.3 L464.5,222.0 L467.9,226.2 L466.5,226.2Z M591.4,101.5 L593.6,105.2 L597.9,109.5 L601.5,113.8 L603.6,118.1 L607.9,122.4 L613.7,126.7 L618.0,131.0 L622.2,135.2 L623.7,139.5 L625.0,144.0 L633.6,148.3 L640.5,150.0 L644.8,152.6 L649.9,155.1 L653.4,156.0 L656.8,160.3 L661.1,163.7 L665.4,166.3 L669.7,164.8 L671.4,167.2 L671.9,173.0 L671.2,174.3 L668.0,179.7 L665.8,186.2 L665.3,190.5 L668.0,195.9 L671.2,201.4 L674.5,207.8 L676.6,211.1 L680.9,213.2 L683.6,215.4 L684.2,220.8 L683.1,229.5 L682.6,237.0 L683.1,245.7 L679.9,254.3 L678.2,260.4 M684.9,157.5 L683.5,157.7 L679.2,158.6 L674.9,160.3 L671.6,164.3 L668.9,162.9 L666.3,163.7 L662.8,162.9 L661.1,159.4 L661.1,154.3 L659.4,150.8 L655.1,150.8 L651.7,150.0 L653.4,144.0 L654.7,138.8 L650.8,138.8 L649.1,140.5 L647.4,144.0 L642.2,145.2 L637.9,143.1 L635.3,137.1 L635.3,130.2 L636.2,124.2 L640.5,120.7 L644.8,120.7 L648.2,121.2 L650.8,119.0 L656.0,119.4 L660.3,120.7 L662.0,123.3 L662.8,128.5 L664.6,131.5 L666.3,130.2 L667.1,127.6 L665.4,123.3 L664.6,118.2 L665.4,115.6 L668.0,113.0 L670.0,109.5 L672.4,106.6 L674.5,102.3 L674.5,101.5 M605.4,115.6 L607.9,115.9 L610.1,120.9 L613.7,127.5 L612.5,128.8 L608.5,122.5Z M658.5,137.9 L662.0,135.8 L666.3,136.2 L671.4,138.8 L676.6,141.4 L680.0,142.2 L676.6,142.7 L671.4,140.5 L666.3,138.8 L661.1,138.4Z M684.9,145.5 L680.0,145.7 L678.3,143.0 L684.9,142.7 M669.9,145.2 L673.8,145.0 L673.6,146.4 L670.0,146.4Z M533.0,141.6 L534.4,142.2 L533.6,143.2 L532.6,142.5Z M195.4,155.3 L197.4,154.8 L197.8,156.3 L196.0,156.5Z M194.0,102.8 L199.5,101.8 L199.8,103.2 L195.0,103.8Z M212.6,107.8 L217.5,107.3 L217.5,108.6 L212.8,109.0Z M228.6,108.4 L232.3,107.8 L231.8,109.4 L229.2,109.7Z" fill="none" stroke="#000" stroke-width="1.5" stroke-linejoin="round"/><path d="M670.0,128.0 L671.5,131.0 L672.8,134.3 M675.0,132.2 L678.0,135.0 L681.5,138.5 M154.5,102.1 L158.6,104.6 L162.3,107.2 L169.6,106.0 L178.2,104.1 L186.0,103.2 L189.3,103.5 L190.5,110.3 L196.7,114.0 L204.0,117.6 L206.5,120.1 L211.4,115.2 L218.8,116.4 L228.6,117.6 L233.5,116.4 L234.7,110.0 L234.7,105.4 M155.0,101.5 L157.5,103.5 L160.0,104.5 L163.0,103.5 L166.0,102.5 L169.0,101.5 M209.0,101.5 L210.0,103.5 L212.0,105.5 L213.5,103.5 L213.0,101.5 M216.3,101.5 L218.8,102.9 L223.7,105.4 L228.6,104.8 L234.7,104.8 M141.2,124.3 L142.0,124.6 M143.3,124.8 L144.2,124.5 M229.5,118.5 L230.7,122.6 L235.5,133.5 L240.9,144.4 L246.4,152.6 L247.7,158.0 M232.7,121.9 L238.2,133.5 L243.6,143.0 L247.7,151.2 L248.4,156.0 M230.0,106.2 L235.5,104.8 L234.1,113.0 L231.4,117.8 M270.9,129.4 L270.9,127.3 L268.2,126.6 L265.5,132.1 L262.7,132.1 L260.7,128.7 L258.6,123.2 L256.6,120.5 L259.3,119.8 L262.7,124.6 L266.8,127.3 L270.9,128.0 M257.7,101.5 L258.5,103.8 L262.0,104.8 L266.5,104.2 L267.6,101.5 M223.7,191.6 L225.5,195.0 L227.8,198.5 M231.4,200.5 L232.5,204.0 L233.4,209.4 M230.5,184.0 L232.8,183.2 L233.3,185.3 L231.0,186.0 M48.3,143.9 L49.2,144.2 M53.2,145.0 L54.2,145.1 M62.5,150.4 L62.8,151.4 M400.8,124.2 L401.3,123.6 M397.9,128.3 L398.7,127.3 M525.6,137.9 L526.4,138.2 M527.8,138.7 L528.8,139.1 M530.0,139.8 L531.0,140.4 M444.6,193.1 L449.0,195.5 L452.0,197.5 M455.5,199.5 L459.3,201.7 M466.2,210.8 L466.9,212.4 M485.0,215.8 L487.5,214.3 L489.6,214.9 M503.0,207.6 L504.5,208.2 M543.8,215.8 L544.5,216.3 M266.5,223.0 L267.5,223.5 M269.4,223.0 L270.5,222.5" fill="none" stroke="#000" stroke-width="1.5" stroke-linejoin="round" stroke-linecap="round"/></g>
<path d="M685.5,633.5V793.5" stroke="#a8a8a8" stroke-width="1" fill="none"/>
<path d="M685,633.5H47.5V793.5H685" stroke="#5a5a5a" stroke-width="1" fill="none"/>
<g class="sf" transform="translate(276.83,813.70) scale(0.8661,0.8600)" fill="none" stroke="#262626" stroke-width="1.0" stroke-linecap="round" stroke-linejoin="round"><path transform="translate(0.00,0)" d="M1,0L1,-10L5,-1L9,-10L9,0"/><path transform="translate(11.85,0)" d="M1.2,0L1.2,-10"/><path transform="translate(16.30,0)" d="M0.9,0L0.9,-10L7.1,0L7.1,-10"/></g>
<g class="sf" transform="translate(305.12,813.70) scale(1.3509,0.8600)" fill="none" stroke="#262626" stroke-width="1.0" stroke-linecap="round" stroke-linejoin="round"><path transform="translate(0.00,0)" d="M0.8,-5.3L6.5,-5.3M0.8,-2.7L6.5,-2.7"/></g>
<g class="sf" transform="translate(333.73,813.70) scale(0.9457,0.8600)" fill="none" stroke="#262626" stroke-width="1.0" stroke-linecap="round" stroke-linejoin="round"><path transform="translate(0.00,0)" d="M3.5,-10C1.4,-10 0.5,-7.6 0.5,-5C0.5,-2.4 1.4,0 3.5,0C5.6,0 6.5,-2.4 6.5,-5C6.5,-7.6 5.6,-10 3.5,-10Z"/><path transform="translate(9.05,0)" d="M1.1,-0.7L1.1,0"/><path transform="translate(13.50,0)" d="M3.5,-10C1.4,-10 0.5,-7.6 0.5,-5C0.5,-2.4 1.4,0 3.5,0C5.6,0 6.5,-2.4 6.5,-5C6.5,-7.6 5.6,-10 3.5,-10Z"/><path transform="translate(22.55,0)" d="M3.5,-10C1.4,-10 0.5,-7.6 0.5,-5C0.5,-2.4 1.4,0 3.5,0C5.6,0 6.5,-2.4 6.5,-5C6.5,-7.6 5.6,-10 3.5,-10Z"/></g>
<g class="sf" transform="translate(367.36,813.70) scale(0.8375,0.8600)" fill="none" stroke="#262626" stroke-width="1.0" stroke-linecap="round" stroke-linejoin="round"><path transform="translate(0.00,0)" d="M1,0L1,-10L5,-1L9,-10L9,0"/><path transform="translate(11.85,0)" d="M0.2,0L4,-10L7.8,0M1.6,-3.4L6.4,-3.4"/><path transform="translate(21.70,0)" d="M0.5,0L7,-10M0.5,-10L7,0"/></g>
<g class="sf" transform="translate(398.65,813.70) scale(1.1930,0.8600)" fill="none" stroke="#262626" stroke-width="1.0" stroke-linecap="round" stroke-linejoin="round"><path transform="translate(0.00,0)" d="M0.8,-5.3L6.5,-5.3M0.8,-2.7L6.5,-2.7"/></g>
<g class="sf" transform="translate(427.84,813.70) scale(0.9247,0.8600)" fill="none" stroke="#262626" stroke-width="1.0" stroke-linecap="round" stroke-linejoin="round"><path transform="translate(0.00,0)" d="M3.5,-10C1.4,-10 0.5,-7.6 0.5,-5C0.5,-2.4 1.4,0 3.5,0C5.6,0 6.5,-2.4 6.5,-5C6.5,-7.6 5.6,-10 3.5,-10Z"/><path transform="translate(9.05,0)" d="M1.1,-0.7L1.1,0"/><path transform="translate(13.50,0)" d="M3.5,-10C1.4,-10 0.5,-7.6 0.5,-5C0.5,-2.4 1.4,0 3.5,0C5.6,0 6.5,-2.4 6.5,-5C6.5,-7.6 5.6,-10 3.5,-10Z"/><path transform="translate(22.55,0)" d="M3.5,-10C1.4,-10 0.5,-7.6 0.5,-5C0.5,-2.4 1.4,0 3.5,0C5.6,0 6.5,-2.4 6.5,-5C6.5,-7.6 5.6,-10 3.5,-10Z"/></g>
<rect x="129.50" y="819.0999999999999" width="29.93" height="14.199999999999989" fill="#00008c"/>
<rect x="159.12" y="819.0999999999999" width="29.93" height="14.199999999999989" fill="#0020b4"/>
<rect x="188.75" y="819.0999999999999" width="29.93" height="14.199999999999989" fill="#0030dc"/>
<rect x="218.38" y="819.0999999999999" width="29.93" height="14.199999999999989" fill="#1f50ff"/>
<rect x="248.00" y="819.0999999999999" width="29.93" height="14.199999999999989" fill="#4377ff"/>
<rect x="277.62" y="819.0999999999999" width="29.93" height="14.199999999999989" fill="#80a6ff"/>
<rect x="307.25" y="819.0999999999999" width="29.93" height="14.199999999999989" fill="#b3caff"/>
<rect x="336.88" y="819.0999999999999" width="29.93" height="14.199999999999989" fill="#d8e9ff"/>
<rect x="366.50" y="819.0999999999999" width="29.93" height="14.199999999999989" fill="#ffebdc"/>
<rect x="396.12" y="819.0999999999999" width="29.93" height="14.199999999999989" fill="#ffc8af"/>
<rect x="425.75" y="819.0999999999999" width="29.93" height="14.199999999999989" fill="#ffa37a"/>
<rect x="455.38" y="819.0999999999999" width="29.93" height="14.199999999999989" fill="#ff7440"/>
<rect x="485.00" y="819.0999999999999" width="29.93" height="14.199999999999989" fill="#ff4c1a"/>
<rect x="514.62" y="819.0999999999999" width="29.93" height="14.199999999999989" fill="#e12d0a"/>
<rect x="544.25" y="819.0999999999999" width="29.93" height="14.199999999999989" fill="#b41e05"/>
<rect x="573.88" y="819.0999999999999" width="29.93" height="14.199999999999989" fill="#870000"/>
<line x1="159.12" y1="819.0999999999999" x2="159.12" y2="833.3" stroke="#222" stroke-width="0.8"/>
<line x1="188.75" y1="819.0999999999999" x2="188.75" y2="833.3" stroke="#222" stroke-width="0.8"/>
<line x1="218.38" y1="819.0999999999999" x2="218.38" y2="833.3" stroke="#222" stroke-width="0.8"/>
<line x1="248.00" y1="819.0999999999999" x2="248.00" y2="833.3" stroke="#222" stroke-width="0.8"/>
<line x1="277.62" y1="819.0999999999999" x2="277.62" y2="833.3" stroke="#222" stroke-width="0.8"/>
<line x1="307.25" y1="819.0999999999999" x2="307.25" y2="833.3" stroke="#222" stroke-width="0.8"/>
<line x1="336.88" y1="819.0999999999999" x2="336.88" y2="833.3" stroke="#222" stroke-width="0.8"/>
<line x1="366.50" y1="819.0999999999999" x2="366.50" y2="833.3" stroke="#222" stroke-width="0.8"/>
<line x1="396.12" y1="819.0999999999999" x2="396.12" y2="833.3" stroke="#222" stroke-width="0.8"/>
<line x1="425.75" y1="819.0999999999999" x2="425.75" y2="833.3" stroke="#222" stroke-width="0.8"/>
<line x1="455.38" y1="819.0999999999999" x2="455.38" y2="833.3" stroke="#222" stroke-width="0.8"/>
<line x1="485.00" y1="819.0999999999999" x2="485.00" y2="833.3" stroke="#222" stroke-width="0.8"/>
<line x1="514.62" y1="819.0999999999999" x2="514.62" y2="833.3" stroke="#222" stroke-width="0.8"/>
<line x1="544.25" y1="819.0999999999999" x2="544.25" y2="833.3" stroke="#222" stroke-width="0.8"/>
<line x1="573.88" y1="819.0999999999999" x2="573.88" y2="833.3" stroke="#222" stroke-width="0.8"/>
<rect x="129.5" y="819.0999999999999" width="474.0" height="14.199999999999989" fill="none" stroke="#222" stroke-width="0.9"/>
<g class="sf" transform="translate(172.74,845.50) scale(0.7395,0.8500)" fill="none" stroke="#383838" stroke-width="0.9" stroke-linecap="round" stroke-linejoin="round"><path transform="translate(0.00,0)" d="M0.8,-3.8L7.8,-3.8"/><path transform="translate(11.20,0)" d="M3.5,-10C1.4,-10 0.5,-7.6 0.5,-5C0.5,-2.4 1.4,0 3.5,0C5.6,0 6.5,-2.4 6.5,-5C6.5,-7.6 5.6,-10 3.5,-10Z"/><path transform="translate(21.00,0)" d="M1.1,-0.7L1.1,0"/><path transform="translate(26.20,0)" d="M3.5,-10C1.4,-10 0.5,-7.6 0.5,-5C0.5,-2.4 1.4,0 3.5,0C5.6,0 6.5,-2.4 6.5,-5C6.5,-7.6 5.6,-10 3.5,-10Z"/><path transform="translate(36.00,0)" d="M0.8,-2C1.2,-0.6 2.2,0 3.4,0C5.5,0 6.5,-2.2 6.5,-5.5C6.5,-8.5 5.4,-10 3.4,-10C1.6,-10 0.5,-8.7 0.5,-6.8C0.5,-4.9 1.7,-3.7 3.4,-3.7C5,-3.7 6.2,-4.8 6.4,-6.5"/></g>
<g class="sf" transform="translate(231.84,845.50) scale(0.7395,0.8500)" fill="none" stroke="#383838" stroke-width="0.9" stroke-linecap="round" stroke-linejoin="round"><path transform="translate(0.00,0)" d="M0.8,-3.8L7.8,-3.8"/><path transform="translate(11.20,0)" d="M3.5,-10C1.4,-10 0.5,-7.6 0.5,-5C0.5,-2.4 1.4,0 3.5,0C5.6,0 6.5,-2.4 6.5,-5C6.5,-7.6 5.6,-10 3.5,-10Z"/><path transform="translate(21.00,0)" d="M1.1,-0.7L1.1,0"/><path transform="translate(26.20,0)" d="M3.5,-10C1.4,-10 0.5,-7.6 0.5,-5C0.5,-2.4 1.4,0 3.5,0C5.6,0 6.5,-2.4 6.5,-5C6.5,-7.6 5.6,-10 3.5,-10Z"/><path transform="translate(36.00,0)" d="M5,0L5,-10L0.3,-3L6.9,-3"/></g>
<g class="sf" transform="translate(291.28,845.50) scale(0.7395,0.8500)" fill="none" stroke="#383838" stroke-width="0.9" stroke-linecap="round" stroke-linejoin="round"><path transform="translate(0.00,0)" d="M0.8,-3.8L7.8,-3.8"/><path transform="translate(11.20,0)" d="M3.5,-10C1.4,-10 0.5,-7.6 0.5,-5C0.5,-2.4 1.4,0 3.5,0C5.6,0 6.5,-2.4 6.5,-5C6.5,-7.6 5.6,-10 3.5,-10Z"/><path transform="translate(21.00,0)" d="M1.1,-0.7L1.1,0"/><path transform="translate(26.20,0)" d="M3.5,-10C1.4,-10 0.5,-7.6 0.5,-5C0.5,-2.4 1.4,0 3.5,0C5.6,0 6.5,-2.4 6.5,-5C6.5,-7.6 5.6,-10 3.5,-10Z"/><path transform="translate(36.00,0)" d="M0.7,-7.5C0.8,-9.2 2,-10 3.5,-10C5.2,-10 6.3,-9 6.3,-7.4C6.3,-5.3 4.2,-4.2 2.5,-2.8C1.3,-1.8 0.6,-1 0.5,0L6.4,0"/></g>
<g class="sf" transform="translate(363.91,845.50) scale(0.7395,0.8500)" fill="none" stroke="#383838" stroke-width="0.9" stroke-linecap="round" stroke-linejoin="round"><path transform="translate(0.00,0)" d="M3.5,-10C1.4,-10 0.5,-7.6 0.5,-5C0.5,-2.4 1.4,0 3.5,0C5.6,0 6.5,-2.4 6.5,-5C6.5,-7.6 5.6,-10 3.5,-10Z"/></g>
<g class="sf" transform="translate(414.03,845.50) scale(0.7395,0.8500)" fill="none" stroke="#383838" stroke-width="0.9" stroke-linecap="round" stroke-linejoin="round"><path transform="translate(0.00,0)" d="M3.5,-10C1.4,-10 0.5,-7.6 0.5,-5C0.5,-2.4 1.4,0 3.5,0C5.6,0 6.5,-2.4 6.5,-5C6.5,-7.6 5.6,-10 3.5,-10Z"/><path transform="translate(9.80,0)" d="M1.1,-0.7L1.1,0"/><path transform="translate(15.00,0)" d="M3.5,-10C1.4,-10 0.5,-7.6 0.5,-5C0.5,-2.4 1.4,0 3.5,0C5.6,0 6.5,-2.4 6.5,-5C6.5,-7.6 5.6,-10 3.5,-10Z"/><path transform="translate(24.80,0)" d="M0.7,-7.5C0.8,-9.2 2,-10 3.5,-10C5.2,-10 6.3,-9 6.3,-7.4C6.3,-5.3 4.2,-4.2 2.5,-2.8C1.3,-1.8 0.6,-1 0.5,0L6.4,0"/></g>
<g class="sf" transform="translate(473.09,845.50) scale(0.7395,0.8500)" fill="none" stroke="#383838" stroke-width="0.9" stroke-linecap="round" stroke-linejoin="round"><path transform="translate(0.00,0)" d="M3.5,-10C1.4,-10 0.5,-7.6 0.5,-5C0.5,-2.4 1.4,0 3.5,0C5.6,0 6.5,-2.4 6.5,-5C6.5,-7.6 5.6,-10 3.5,-10Z"/><path transform="translate(9.80,0)" d="M1.1,-0.7L1.1,0"/><path transform="translate(15.00,0)" d="M3.5,-10C1.4,-10 0.5,-7.6 0.5,-5C0.5,-2.4 1.4,0 3.5,0C5.6,0 6.5,-2.4 6.5,-5C6.5,-7.6 5.6,-10 3.5,-10Z"/><path transform="translate(24.80,0)" d="M5,0L5,-10L0.3,-3L6.9,-3"/></g>
<g class="sf" transform="translate(532.49,845.50) scale(0.7395,0.8500)" fill="none" stroke="#383838" stroke-width="0.9" stroke-linecap="round" stroke-linejoin="round"><path transform="translate(0.00,0)" d="M3.5,-10C1.4,-10 0.5,-7.6 0.5,-5C0.5,-2.4 1.4,0 3.5,0C5.6,0 6.5,-2.4 6.5,-5C6.5,-7.6 5.6,-10 3.5,-10Z"/><path transform="translate(9.80,0)" d="M1.1,-0.7L1.1,0"/><path transform="translate(15.00,0)" d="M3.5,-10C1.4,-10 0.5,-7.6 0.5,-5C0.5,-2.4 1.4,0 3.5,0C5.6,0 6.5,-2.4 6.5,-5C6.5,-7.6 5.6,-10 3.5,-10Z"/><path transform="translate(24.80,0)" d="M0.8,-2C1.2,-0.6 2.2,0 3.4,0C5.5,0 6.5,-2.2 6.5,-5.5C6.5,-8.5 5.4,-10 3.4,-10C1.6,-10 0.5,-8.7 0.5,-6.8C0.5,-4.9 1.7,-3.7 3.4,-3.7C5,-3.7 6.2,-4.8 6.4,-6.5"/></g>
<rect x="212.5" y="702.9" width="307.1" height="21" fill="#fff" stroke="#999" stroke-width="1.5"/>
<g class="sf" transform="translate(215.12,720.50) scale(1.3054,1.3500)" fill="none" stroke="#555" stroke-width="1.05" stroke-linecap="round" stroke-linejoin="round"><path transform="translate(0.00,0)" d="M7.6,-7.2C7.1,-9 5.7,-10 4.1,-10C1.9,-10 0.6,-8 0.6,-5C0.6,-2 1.9,0 4.1,0C5.8,0 7.2,-1.1 7.7,-3"/><path transform="translate(10.25,0)" d="M4.3,-10C1.9,-10 0.6,-7.8 0.6,-5C0.6,-2.2 1.9,0 4.3,0C6.7,0 8,-2.2 8,-5C8,-7.8 6.7,-10 4.3,-10Z"/><path transform="translate(20.70,0)" d="M0.9,0L0.9,-10L7.1,0L7.1,-10"/><path transform="translate(30.75,0)" d="M7,-8.5C6.5,-9.6 5.3,-10 4,-10C2,-10 0.8,-9 0.8,-7.5C0.8,-4.5 7.3,-5.5 7.3,-2.5C7.3,-0.9 6,0 4,0C2.2,0 0.9,-0.7 0.5,-2"/><path transform="translate(40.80,0)" d="M0.2,-10L7.2,-10M3.7,-10L3.7,0"/><path transform="translate(50.05,0)" d="M0.2,0L4,-10L7.8,0M1.6,-3.4L6.4,-3.4"/><path transform="translate(59.90,0)" d="M0.9,0L0.9,-10L7.1,0L7.1,-10"/><path transform="translate(69.95,0)" d="M0.2,-10L7.2,-10M3.7,-10L3.7,0"/><path transform="translate(84.65,0)" d="M1,0L1,-10L6.8,-10M1,-5.3L5.8,-5.3"/><path transform="translate(93.70,0)" d="M1.2,0L1.2,-10"/><path transform="translate(98.15,0)" d="M6.8,-10L1,-10L1,0L6.8,0M1,-5.2L6.2,-5.2"/><path transform="translate(107.40,0)" d="M1,-10L1,0L6.3,0"/><path transform="translate(115.85,0)" d="M1,0L1,-10L3.8,-10C6.4,-10 7.6,-8 7.6,-5C7.6,-2 6.4,0 3.8,0Z"/><path transform="translate(131.35,0)" d="M0.8,-3.8L7.8,-3.8"/><path transform="translate(147.25,0)" d="M0.2,-10L3.9,0L7.6,-10"/><path transform="translate(156.90,0)" d="M0.2,0L4,-10L7.8,0M1.6,-3.4L6.4,-3.4"/><path transform="translate(166.75,0)" d="M1,-10L1,0L6.3,0"/><path transform="translate(175.20,0)" d="M1,-10L1,-3.2C1,-1.1 2.2,0 4,0C5.8,0 7,-1.1 7,-3.2L7,-10"/><path transform="translate(185.05,0)" d="M6.8,-10L1,-10L1,0L6.8,0M1,-5.2L6.2,-5.2"/><path transform="translate(199.75,0)" d="M1.2,0L1.2,-10"/><path transform="translate(204.20,0)" d="M7,-8.5C6.5,-9.6 5.3,-10 4,-10C2,-10 0.8,-9 0.8,-7.5C0.8,-4.5 7.3,-5.5 7.3,-2.5C7.3,-0.9 6,0 4,0C2.2,0 0.9,-0.7 0.5,-2"/><path transform="translate(219.70,0)" d="M1.1,-0.7L1.1,0"/><path transform="translate(224.15,0)" d="M3.5,-10C1.4,-10 0.5,-7.6 0.5,-5C0.5,-2.4 1.4,0 3.5,0C5.6,0 6.5,-2.4 6.5,-5C6.5,-7.6 5.6,-10 3.5,-10Z"/></g></svg>
</body></html>
